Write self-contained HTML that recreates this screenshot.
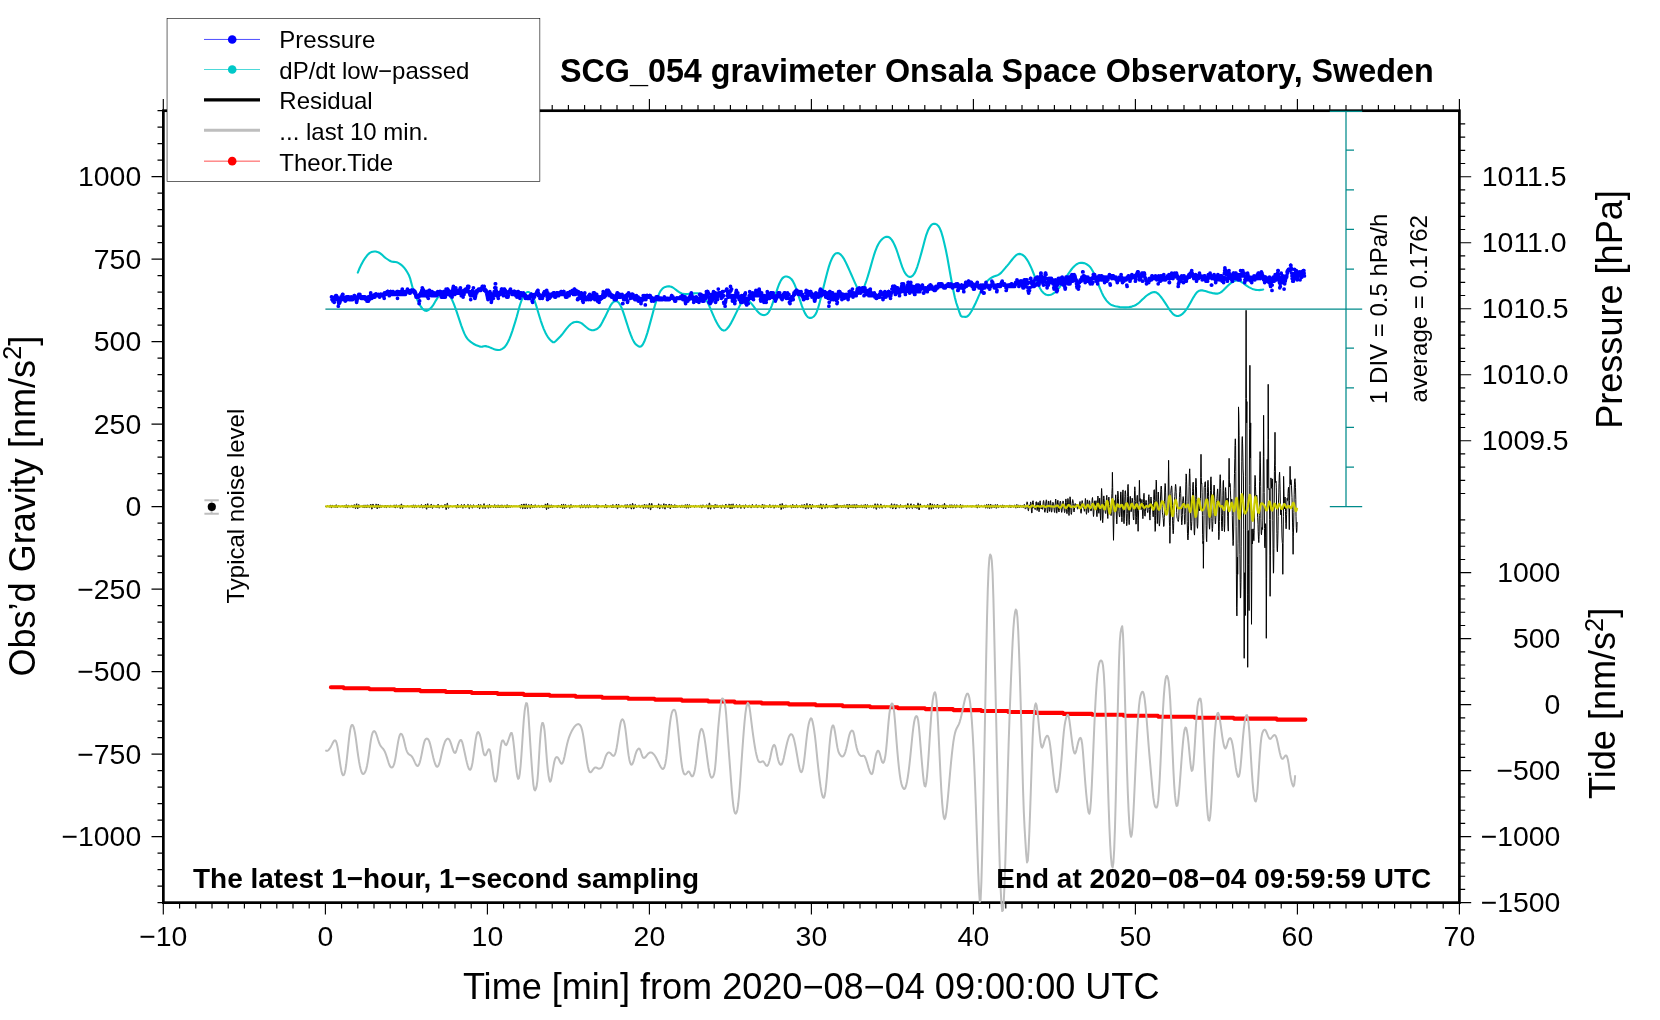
<!DOCTYPE html>
<html lang="en">
<head>
<meta charset="utf-8">
<title>SCG_054 gravimeter Onsala Space Observatory, Sweden</title>
<style>
html,body{margin:0;padding:0;background:#fff;}
body{width:1660px;height:1020px;overflow:hidden;}
svg{display:block;will-change:transform;}
</style>
</head>
<body>
<svg width="1660" height="1020" viewBox="0 0 1660 1020">
<rect x="0" y="0" width="1660" height="1020" fill="#fff"/>
<g id="frame" fill="none" stroke="#000">
<rect x="163.35" y="110.7" width="1296.0500000000002" height="791.9499999999999" stroke-width="2.7"/>
<path stroke-width="1.15" d="M163.3 902.6v11.8M163.3 110.7v-11.8M179.6 902.6v5.8M179.6 110.7v-5.8M195.8 902.6v5.8M195.8 110.7v-5.8M212 902.6v5.8M212 110.7v-5.8M228.2 902.6v5.8M228.2 110.7v-5.8M244.4 902.6v5.8M244.4 110.7v-5.8M260.6 902.6v5.8M260.6 110.7v-5.8M276.8 902.6v5.8M276.8 110.7v-5.8M293 902.6v5.8M293 110.7v-5.8M309.2 902.6v5.8M309.2 110.7v-5.8M325.4 902.6v11.8M325.4 110.7v-11.8M341.6 902.6v5.8M341.6 110.7v-5.8M357.8 902.6v5.8M357.8 110.7v-5.8M374 902.6v5.8M374 110.7v-5.8M390.2 902.6v5.8M390.2 110.7v-5.8M406.4 902.6v5.8M406.4 110.7v-5.8M422.6 902.6v5.8M422.6 110.7v-5.8M438.8 902.6v5.8M438.8 110.7v-5.8M455 902.6v5.8M455 110.7v-5.8M471.2 902.6v5.8M471.2 110.7v-5.8M487.4 902.6v11.8M487.4 110.7v-11.8M503.6 902.6v5.8M503.6 110.7v-5.8M519.8 902.6v5.8M519.8 110.7v-5.8M536 902.6v5.8M536 110.7v-5.8M552.2 902.6v5.8M552.2 110.7v-5.8M568.4 902.6v5.8M568.4 110.7v-5.8M584.6 902.6v5.8M584.6 110.7v-5.8M600.8 902.6v5.8M600.8 110.7v-5.8M617 902.6v5.8M617 110.7v-5.8M633.2 902.6v5.8M633.2 110.7v-5.8M649.4 902.6v11.8M649.4 110.7v-11.8M665.6 902.6v5.8M665.6 110.7v-5.8M681.8 902.6v5.8M681.8 110.7v-5.8M698 902.6v5.8M698 110.7v-5.8M714.2 902.6v5.8M714.2 110.7v-5.8M730.4 902.6v5.8M730.4 110.7v-5.8M746.6 902.6v5.8M746.6 110.7v-5.8M762.8 902.6v5.8M762.8 110.7v-5.8M779 902.6v5.8M779 110.7v-5.8M795.2 902.6v5.8M795.2 110.7v-5.8M811.4 902.6v11.8M811.4 110.7v-11.8M827.6 902.6v5.8M827.6 110.7v-5.8M843.8 902.6v5.8M843.8 110.7v-5.8M860 902.6v5.8M860 110.7v-5.8M876.2 902.6v5.8M876.2 110.7v-5.8M892.4 902.6v5.8M892.4 110.7v-5.8M908.6 902.6v5.8M908.6 110.7v-5.8M924.8 902.6v5.8M924.8 110.7v-5.8M941 902.6v5.8M941 110.7v-5.8M957.2 902.6v5.8M957.2 110.7v-5.8M973.4 902.6v11.8M973.4 110.7v-11.8M989.6 902.6v5.8M989.6 110.7v-5.8M1005.8 902.6v5.8M1005.8 110.7v-5.8M1022 902.6v5.8M1022 110.7v-5.8M1038.2 902.6v5.8M1038.2 110.7v-5.8M1054.4 902.6v5.8M1054.4 110.7v-5.8M1070.6 902.6v5.8M1070.6 110.7v-5.8M1086.8 902.6v5.8M1086.8 110.7v-5.8M1103 902.6v5.8M1103 110.7v-5.8M1119.2 902.6v5.8M1119.2 110.7v-5.8M1135.4 902.6v11.8M1135.4 110.7v-11.8M1151.6 902.6v5.8M1151.6 110.7v-5.8M1167.8 902.6v5.8M1167.8 110.7v-5.8M1184 902.6v5.8M1184 110.7v-5.8M1200.2 902.6v5.8M1200.2 110.7v-5.8M1216.4 902.6v5.8M1216.4 110.7v-5.8M1232.6 902.6v5.8M1232.6 110.7v-5.8M1248.8 902.6v5.8M1248.8 110.7v-5.8M1265 902.6v5.8M1265 110.7v-5.8M1281.2 902.6v5.8M1281.2 110.7v-5.8M1297.4 902.6v11.8M1297.4 110.7v-11.8M1313.6 902.6v5.8M1313.6 110.7v-5.8M1329.8 902.6v5.8M1329.8 110.7v-5.8M1346 902.6v5.8M1346 110.7v-5.8M1362.2 902.6v5.8M1362.2 110.7v-5.8M1378.4 902.6v5.8M1378.4 110.7v-5.8M1394.6 902.6v5.8M1394.6 110.7v-5.8M1410.8 902.6v5.8M1410.8 110.7v-5.8M1427 902.6v5.8M1427 110.7v-5.8M1443.2 902.6v5.8M1443.2 110.7v-5.8M1459.4 902.6v11.8M1459.4 110.7v-11.8M163.3 902.6h-5.8M163.3 886.1h-5.8M163.3 869.6h-5.8M163.3 853.1h-5.8M163.3 836.6h-11.8M163.3 820.1h-5.8M163.3 803.6h-5.8M163.3 787.1h-5.8M163.3 770.6h-5.8M163.3 754.1h-11.8M163.3 737.6h-5.8M163.3 721.1h-5.8M163.3 704.6h-5.8M163.3 688.1h-5.8M163.3 671.6h-11.8M163.3 655.1h-5.8M163.3 638.6h-5.8M163.3 622.1h-5.8M163.3 605.6h-5.8M163.3 589.1h-11.8M163.3 572.6h-5.8M163.3 556.1h-5.8M163.3 539.6h-5.8M163.3 523.1h-5.8M163.3 506.6h-11.8M163.3 490.1h-5.8M163.3 473.6h-5.8M163.3 457.1h-5.8M163.3 440.6h-5.8M163.3 424.1h-11.8M163.3 407.6h-5.8M163.3 391.1h-5.8M163.3 374.6h-5.8M163.3 358.1h-5.8M163.3 341.6h-11.8M163.3 325.1h-5.8M163.3 308.6h-5.8M163.3 292.1h-5.8M163.3 275.6h-5.8M163.3 259.1h-11.8M163.3 242.6h-5.8M163.3 226.1h-5.8M163.3 209.6h-5.8M163.3 193.1h-5.8M163.3 176.6h-11.8M163.3 160.1h-5.8M163.3 143.6h-5.8M163.3 127.1h-5.8M163.3 110.6h-5.8M1459.4 493.5h5.8M1459.4 480.3h5.8M1459.4 467.1h5.8M1459.4 453.9h5.8M1459.4 440.7h11.8M1459.4 427.5h5.8M1459.4 414.3h5.8M1459.4 401.1h5.8M1459.4 387.9h5.8M1459.4 374.7h11.8M1459.4 361.5h5.8M1459.4 348.3h5.8M1459.4 335.1h5.8M1459.4 321.9h5.8M1459.4 308.7h11.8M1459.4 295.5h5.8M1459.4 282.3h5.8M1459.4 269.1h5.8M1459.4 255.9h5.8M1459.4 242.7h11.8M1459.4 229.5h5.8M1459.4 216.3h5.8M1459.4 203.1h5.8M1459.4 189.9h5.8M1459.4 176.7h11.8M1459.4 163.5h5.8M1459.4 150.3h5.8M1459.4 137.1h5.8M1459.4 123.9h5.8M1459.4 902.6h11.8M1459.4 889.4h5.8M1459.4 876.2h5.8M1459.4 863h5.8M1459.4 849.9h5.8M1459.4 836.6h11.8M1459.4 823.4h5.8M1459.4 810.2h5.8M1459.4 797h5.8M1459.4 783.8h5.8M1459.4 770.6h11.8M1459.4 757.4h5.8M1459.4 744.2h5.8M1459.4 731h5.8M1459.4 717.8h5.8M1459.4 704.6h11.8M1459.4 691.4h5.8M1459.4 678.2h5.8M1459.4 665h5.8M1459.4 651.8h5.8M1459.4 638.6h11.8M1459.4 625.5h5.8M1459.4 612.2h5.8M1459.4 599h5.8M1459.4 585.8h5.8M1459.4 572.6h11.8M1459.4 559.5h5.8M1459.4 546.2h5.8M1459.4 533h5.8M1459.4 519.8h5.8"/>
</g>
<g font-family='"Liberation Sans", Arial, Helvetica, sans-serif' font-size="28.4" fill="#000">
<text x="163.3" y="946" text-anchor="middle">−10</text>
<text x="325.4" y="946" text-anchor="middle">0</text>
<text x="487.4" y="946" text-anchor="middle">10</text>
<text x="649.4" y="946" text-anchor="middle">20</text>
<text x="811.4" y="946" text-anchor="middle">30</text>
<text x="973.4" y="946" text-anchor="middle">40</text>
<text x="1135.4" y="946" text-anchor="middle">50</text>
<text x="1297.4" y="946" text-anchor="middle">60</text>
<text x="1459.4" y="946" text-anchor="middle">70</text>
<text x="141.2" y="846.4" text-anchor="end">−1000</text>
<text x="141.2" y="763.9" text-anchor="end">−750</text>
<text x="141.2" y="681.4" text-anchor="end">−500</text>
<text x="141.2" y="598.9" text-anchor="end">−250</text>
<text x="141.2" y="516.4" text-anchor="end">0</text>
<text x="141.2" y="433.8" text-anchor="end">250</text>
<text x="141.2" y="351.3" text-anchor="end">500</text>
<text x="141.2" y="268.8" text-anchor="end">750</text>
<text x="141.2" y="186.3" text-anchor="end">1000</text>
<text x="1481.8" y="450.4">1009.5</text>
<text x="1481.8" y="384.4">1010.0</text>
<text x="1481.8" y="318.4">1010.5</text>
<text x="1481.8" y="252.4">1011.0</text>
<text x="1481.8" y="186.4">1011.5</text>
<text x="1560.4" y="912.4" text-anchor="end">−1500</text>
<text x="1560.4" y="846.4" text-anchor="end">−1000</text>
<text x="1560.4" y="780.4" text-anchor="end">−500</text>
<text x="1560.4" y="714.4" text-anchor="end">0</text>
<text x="1560.4" y="648.4" text-anchor="end">500</text>
<text x="1560.4" y="582.4" text-anchor="end">1000</text>
</g>
<g font-family='"Liberation Sans", Arial, Helvetica, sans-serif' font-size="36.1" fill="#000" text-anchor="middle">
<text x="811.2" y="999">Time [min] from 2020−08−04 09:00:00 UTC</text>
<text transform="translate(34.6 506.2) rotate(-90)">Obs’d Gravity [nm/s<tspan font-size="70%" dy="-13.94">2</tspan><tspan dy="13.94">]</tspan></text>
<text transform="translate(1622 309.5) rotate(-90)">Pressure [hPa]</text>
<text transform="translate(1615.2 703.4) rotate(-90)">Tide [nm/s<tspan font-size="70%" dy="-12.64">2</tspan><tspan dy="12.64">]</tspan></text>
</g>
<text x="560" y="82" font-family='"Liberation Sans", Arial, Helvetica, sans-serif' font-size="32.3" font-weight="bold">SCG_054 gravimeter Onsala Space Observatory, Sweden</text>
<g fill="none" stroke="#008b8b" stroke-width="1.25">
<path d="M1346 110.7V506.6M1329.8 111.3H1362.2M1329.8 506.6H1362.2M1346 467h8M1346 427.4h8M1346 387.8h8M1346 348.2h8M1346 269h8M1346 229.4h8M1346 189.8h8M1346 150.2h8M325.4 309H1362.2"/>
</g>
<g font-family='"Liberation Sans", Arial, Helvetica, sans-serif' font-size="24.0" fill="#000">
<text transform="translate(1387.3 403.9) rotate(-90)">1 DIV = 0.5 hPa/h</text>
<text transform="translate(1427.3 402.6) rotate(-90)">average = 0.1762</text>
<text transform="translate(244.3 603.5) rotate(-90)">Typical noise level</text>
</g>
<path d="M211.6 500.3V513.8M204.4 500.3h14.4M204.4 513.8h14.4" stroke="#bebebe" stroke-width="2" fill="none"/>
<circle cx="211.8" cy="506.8" r="4.1" fill="#000"/>
<path d="M357.8 272.6L359.3 268.8L360.8 265.6L362.3 262.7L363.8 260.1L365.3 257.8L366.8 255.8L368.3 254.1L369.8 252.9L371.3 252.1L372.8 251.7L374.3 251.5L375.8 251.5L377.3 251.9L378.8 252.5L380.3 253.4L381.8 254.6L383.3 256L384.8 257.4L386.3 258.5L387.8 259.5L389.3 260.5L390.8 261.3L392.3 261.8L393.8 261.9L395.3 262L396.8 262.3L398.3 262.9L399.8 263.8L401.3 264.9L402.8 266.2L404.3 267.9L405.8 269.9L407.3 272.2L408.8 274.9L410.3 278.9L411.8 284.8L413.3 290.2L414.8 293.9L416.3 297.4L417.8 301L419.3 304.1L420.8 306.5L422.3 308.4L423.8 309.9L425.3 310.8L426.8 310.9L428.3 310.1L429.8 309L431.3 307.6L432.8 305.7L434.3 303.2L435.8 300.6L437.3 298.3L438.8 296.1L440.3 294.1L441.8 292.3L443.3 291.3L444.8 291.1L446.3 291.7L447.8 293L449.3 294.9L450.8 297.4L452.3 300.3L453.8 303.8L455.3 307.8L456.8 312.1L458.3 316.6L459.8 321.2L461.3 325.6L462.8 329.7L464.3 333.4L465.8 336.4L467.3 338.6L468.8 340.2L470.3 341.6L471.8 342.7L473.3 343.7L474.8 344.5L476.3 345.2L477.8 345.8L479.3 346.4L480.8 346.7L482.3 346.6L483.8 346.3L485.3 346.1L486.8 346.4L488.3 346.8L489.8 347.4L491.3 348L492.8 348.6L494.3 349.2L495.8 349.7L497.3 349.9L498.8 350L500.3 349.7L501.8 349.1L503.3 348.2L504.8 346.9L506.3 344.9L507.8 342.3L509.3 339.2L510.8 335.4L512.3 331.1L513.8 326.4L515.3 321.6L516.8 316.5L518.3 310.9L519.8 305.5L521.3 301L522.8 297.4L524.3 294.8L525.8 293L527.3 292L528.8 292L530.3 293L531.8 294.7L533.3 297.4L534.8 301.2L536.3 305.9L537.8 311L539.3 316L540.8 320.8L542.3 325.2L543.8 329.1L545.3 332.4L546.8 335.3L548.3 337.7L549.8 339.5L551.3 340.9L552.8 342.1L554.3 342.2L555.8 341L557.3 339.5L558.8 338L560.3 336.5L561.8 334.8L563.3 332.9L564.8 330.9L566.3 328.9L567.8 327.1L569.3 325.4L570.8 324L572.3 323L573.8 322.3L575.3 322L576.8 321.9L578.3 322L579.8 322.4L581.3 323.1L582.8 324.2L584.3 325.5L585.8 326.8L587.3 328L588.8 329.1L590.3 329.8L591.8 330.2L593.3 330.2L594.8 329.9L596.3 329.3L597.8 328.3L599.3 327L600.8 325L602.3 322.3L603.8 319.3L605.3 316.4L606.8 313.4L608.3 310.3L609.8 307.1L611.3 304.3L612.8 302.5L614.3 301.4L615.8 301L617.3 301.4L618.8 302.8L620.3 305.1L621.8 308.3L623.3 312.3L624.8 316.9L626.3 321.6L627.8 326.3L629.3 330.8L630.8 334.9L632.3 338.6L633.8 341.6L635.3 343.8L636.8 345.2L638.3 346.2L639.8 346.7L641.3 346.2L642.8 344.5L644.3 341.6L645.8 337.7L647.3 333.1L648.8 327.9L650.3 322.4L651.8 316.9L653.3 311.3L654.8 305.8L656.3 300.9L657.8 296.7L659.3 293.3L660.8 290.6L662.3 288.8L663.8 287.6L665.3 286.9L666.8 286.5L668.3 286.3L669.8 286.4L671.3 286.8L672.8 287.5L674.3 288.5L675.8 289.7L677.3 290.8L678.8 291.9L680.3 292.8L681.8 293.4L683.3 293.9L684.8 294.1L686.3 294.1L687.8 294L689.3 293.9L690.8 293.8L692.3 293.6L693.8 293.4L695.3 293.3L696.8 293.2L698.3 293.4L699.8 293.8L701.3 294.5L702.8 295.6L704.3 297.2L705.8 299.2L707.3 301.8L708.8 304.8L710.3 308.3L711.8 311.8L713.3 315.3L714.8 318.7L716.3 321.7L717.8 324.5L719.3 326.9L720.8 328.8L722.3 330.1L723.8 330.6L725.3 330.2L726.8 329L728.3 327.3L729.8 325.1L731.3 322.6L732.8 319.7L734.3 316.7L735.8 313.6L737.3 310.6L738.8 307.6L740.3 304.7L741.8 302.2L743.3 300.7L744.8 300.2L746.3 300.4L747.8 300.8L749.3 301.6L750.8 302.8L752.3 304.6L753.8 306.6L755.3 308.7L756.8 310.6L758.3 312.3L759.8 313.6L761.3 314.5L762.8 315L764.3 315.1L765.8 314.7L767.3 313.8L768.8 312.1L770.3 309.3L771.8 305.6L773.3 301.3L774.8 296.7L776.3 292.1L777.8 287.6L779.3 283.7L780.8 280.6L782.3 278.4L783.8 277.1L785.3 276.5L786.8 276.5L788.3 276.9L789.8 277.7L791.3 279L792.8 281L794.3 283.9L795.8 287.7L797.3 292L798.8 296.6L800.3 301.2L801.8 305.7L803.3 309.6L804.8 312.9L806.3 315.4L807.8 317.1L809.3 317.9L810.8 317.9L812.3 317.5L813.8 316.5L815.3 314.7L816.8 311.7L818.3 307.4L819.8 302L821.3 296.1L822.8 290L824.3 283.9L825.8 278L827.3 272.2L828.8 266.9L830.3 262.4L831.8 258.8L833.3 256L834.8 254.1L836.3 253.2L837.8 253.1L839.3 253.6L840.8 254.7L842.3 256.4L843.8 258.6L845.3 261.4L846.8 264.5L848.3 267.8L849.8 271.1L851.3 274.5L852.8 277.9L854.3 281.3L855.8 284.6L857.3 288L858.8 290.6L860.3 291.9L861.8 291.3L863.3 288.9L864.8 285.2L866.3 281L867.8 276.4L869.3 271.4L870.8 266.1L872.3 260.8L873.8 255.7L875.3 251.2L876.8 247.3L878.3 244.2L879.8 241.8L881.3 239.9L882.8 238.5L884.3 237.5L885.8 236.9L887.3 236.8L888.8 237.1L890.3 238.2L891.8 239.9L893.3 242.4L894.8 245.5L896.3 249.2L897.8 253.5L899.3 258.1L900.8 262.8L902.3 267.2L903.8 270.7L905.3 273.4L906.8 275.3L908.3 276.5L909.8 276.9L911.3 276.6L912.8 275.6L914.3 273.7L915.8 270.7L917.3 266.8L918.8 262L920.3 256.8L921.8 251.4L923.3 245.8L924.8 240.1L926.3 234.8L927.8 230.8L929.3 227.8L930.8 225.6L932.3 224.2L933.8 223.7L935.3 223.9L936.8 224.5L938.3 225.9L939.8 228.3L941.3 232L942.8 237.1L944.3 243.2L945.8 249.8L947.3 257.3L948.8 265.7L950.3 274.3L951.8 282.5L953.3 290.2L954.8 297.2L956.3 303L957.8 307.4L959.3 312L960.8 315.9L962.3 316.7L963.8 316.8L965.3 316.9L966.8 316.7L968.3 315.6L969.8 313.8L971.3 311.5L972.8 308.8L974.3 305.8L975.8 302.7L977.3 299.3L978.8 295.9L980.3 292.6L981.8 289.4L983.3 286.5L984.8 284.1L986.3 282.1L987.8 280.5L989.3 279.2L990.8 278.1L992.3 277.2L993.8 276.5L995.3 276L996.8 275.5L998.3 274.9L999.8 273.9L1001.3 272.6L1002.8 270.9L1004.3 269.1L1005.8 267.3L1007.3 265.6L1008.8 263.8L1010.3 261.9L1011.8 260L1013.3 258.1L1014.8 256.5L1016.3 255.1L1017.8 254.2L1019.3 253.9L1020.8 254.1L1022.3 254.7L1023.8 255.8L1025.3 257.3L1026.8 259.4L1028.3 261.8L1029.8 264.7L1031.3 267.9L1032.8 271.5L1034.3 275.3L1035.8 279.1L1037.3 282.7L1038.8 286L1040.3 288.8L1041.8 291.1L1043.3 292.8L1044.8 294L1046.3 294.7L1047.8 295.1L1049.3 295L1050.8 294.7L1052.3 294.1L1053.8 293.1L1055.3 292L1056.8 290.6L1058.3 288.9L1059.8 287L1061.3 284.8L1062.8 282.5L1064.3 280.1L1065.8 277.6L1067.3 275.3L1068.8 273.1L1070.3 271L1071.8 269L1073.3 267.2L1074.8 265.7L1076.3 264.5L1077.8 263.6L1079.3 263L1080.8 262.8L1082.3 262.9L1083.8 263.1L1085.3 263.6L1086.8 264.3L1088.3 265.3L1089.8 266.7L1091.3 268.7L1092.8 271.3L1094.3 274.4L1095.8 278L1097.3 281.7L1098.8 285.5L1100.3 289.2L1101.8 292.6L1103.3 295.7L1104.8 298.2L1106.3 300.4L1107.8 302.1L1109.3 303.5L1110.8 304.6L1112.3 305.3L1113.8 305.8L1115.3 306.2L1116.8 306.5L1118.3 306.8L1119.8 307.1L1121.3 307.2L1122.8 307.3L1124.3 307.4L1125.8 307.4L1127.3 307.3L1128.8 307.2L1130.3 306.9L1131.8 306.6L1133.3 306.1L1134.8 305.5L1136.3 304.7L1137.8 303.7L1139.3 302.5L1140.8 301.1L1142.3 299.6L1143.8 298.2L1145.3 296.8L1146.8 295.5L1148.3 294.5L1149.8 293.6L1151.3 292.8L1152.8 292.3L1154.3 292L1155.8 292.3L1157.3 293.1L1158.8 294.4L1160.3 296.1L1161.8 298L1163.3 300.1L1164.8 302.3L1166.3 304.6L1167.8 307L1169.3 309.3L1170.8 311.4L1172.3 313.2L1173.8 314.7L1175.3 315.6L1176.8 316L1178.3 316L1179.8 315.6L1181.3 314.8L1182.8 313.6L1184.3 312.1L1185.8 310.2L1187.3 308L1188.8 305.6L1190.3 303L1191.8 300.3L1193.3 297.6L1194.8 295.2L1196.3 293.1L1197.8 291.6L1199.3 290.7L1200.8 290.4L1202.3 290.4L1203.8 290.7L1205.3 291.1L1206.8 291.5L1208.3 292L1209.8 292.4L1211.3 292.8L1212.8 293.2L1214.3 293.4L1215.8 293.6L1217.3 293.6L1218.8 293.3L1220.3 292.6L1221.8 291.6L1223.3 290.3L1224.8 288.8L1226.3 287.2L1227.8 285.7L1229.3 284.4L1230.8 283.2L1232.3 282.2L1233.8 281.4L1235.3 280.8L1236.8 280.5L1238.3 280.5L1239.8 281L1241.3 281.8L1242.8 282.8L1244.3 284L1245.8 285.1L1247.3 286.2L1248.8 287.1L1250.3 287.9L1251.8 288.6L1253.3 289.2L1254.8 289.6L1256.3 289.9L1257.8 290L1259.3 290.1L1260.8 289.9L1262.3 289.7L1263.2 289.5" fill="none" stroke="#00c8c8" stroke-width="2.1" stroke-linejoin="round" stroke-linecap="round"/>
<path d="M331.5 297h0M331.8 297h0M332 299.6h0M332.3 299.6h0M332.6 299.6h0M332.9 301h0M333.1 299.6h0M333.4 299.6h0M333.7 301h0M333.9 299.6h0M334.2 302.3h0M334.5 298.3h0M334.7 298.3h0M335 297h0M335.3 297h0M335.6 297h0M335.8 295.7h0M336.1 298.3h0M336.4 295.7h0M336.6 297h0M336.9 299.6h0M337.2 297h0M337.4 299.6h0M337.7 299.6h0M338 299.6h0M338.3 306.2h0M338.5 302.3h0M338.8 303.6h0M339.1 303.6h0M339.3 302.3h0M339.6 299.6h0M339.9 302.3h0M340.2 301h0M340.4 298.3h0M340.7 299.6h0M341 297h0M341.2 297h0M341.5 298.3h0M341.8 297h0M342 295.7h0M342.3 295.7h0M342.6 294.4h0M342.9 294.4h0M343.1 297h0M343.4 299.6h0M343.7 299.6h0M343.9 299.6h0M344.2 299.6h0M344.5 299.6h0M344.7 298.3h0M345 298.3h0M345.3 301h0M345.6 298.3h0M345.8 298.3h0M346.1 298.3h0M346.4 297h0M346.6 298.3h0M346.9 298.3h0M347.2 299.6h0M347.4 299.6h0M347.7 298.3h0M348 297h0M348.3 297h0M348.5 297h0M348.8 297h0M349.1 299.6h0M349.3 299.6h0M349.6 299.6h0M349.9 299.6h0M350.2 298.3h0M350.4 299.6h0M350.7 299.6h0M351 298.3h0M351.2 297h0M351.5 298.3h0M351.8 298.3h0M352 299.6h0M352.3 298.3h0M352.6 299.6h0M352.9 298.3h0M353.1 298.3h0M353.4 298.3h0M353.7 297h0M353.9 297h0M354.2 295.7h0M354.5 295.7h0M354.7 297h0M355 297h0M355.3 298.3h0M355.6 298.3h0M355.8 298.3h0M356.1 299.6h0M356.4 301h0M356.6 302.3h0M356.9 301h0M357.2 299.6h0M357.5 298.3h0M357.7 297h0M358 297h0M358.3 295.7h0M358.5 295.7h0M358.8 294.4h0M359.1 297h0M359.3 297h0M359.6 295.7h0M359.9 294.4h0M360.2 297h0M360.4 297h0M360.7 297h0M361 298.3h0M361.2 298.3h0M361.5 298.3h0M361.8 298.3h0M362 298.3h0M362.3 297h0M362.6 298.3h0M362.9 297h0M363.1 297h0M363.4 298.3h0M363.7 298.3h0M363.9 297h0M364.2 298.3h0M364.5 297h0M364.7 297h0M365 297h0M365.3 298.3h0M365.6 298.3h0M365.8 299.6h0M366.1 299.6h0M366.4 299.6h0M366.6 299.6h0M366.9 301h0M367.2 299.6h0M367.5 299.6h0M367.7 299.6h0M368 299.6h0M368.3 297h0M368.5 301h0M368.8 298.3h0M369.1 299.6h0M369.3 299.6h0M369.6 298.3h0M369.9 298.3h0M370.2 297h0M370.4 295.7h0M370.7 293h0M371 295.7h0M371.2 295.7h0M371.5 298.3h0M371.8 298.3h0M372 297h0M372.3 297h0M372.6 297h0M372.9 295.7h0M373.1 295.7h0M373.4 295.7h0M373.7 297h0M373.9 297h0M374.2 297h0M374.5 297h0M374.8 297h0M375 294.4h0M375.3 294.4h0M375.6 294.4h0M375.8 294.4h0M376.1 294.4h0M376.4 294.4h0M376.6 294.4h0M376.9 294.4h0M377.2 295.7h0M377.5 295.7h0M377.7 295.7h0M378 295.7h0M378.3 294.4h0M378.5 295.7h0M378.8 295.7h0M379.1 295.7h0M379.3 295.7h0M379.6 297h0M379.9 295.7h0M380.2 295.7h0M380.4 294.4h0M380.7 294.4h0M381 294.4h0M381.2 295.7h0M381.5 294.4h0M381.8 295.7h0M382.1 295.7h0M382.3 295.7h0M382.6 294.4h0M382.9 295.7h0M383.1 294.4h0M383.4 294.4h0M383.7 294.4h0M383.9 297h0M384.2 298.3h0M384.5 293h0M384.8 294.4h0M385 294.4h0M385.3 293h0M385.6 294.4h0M385.8 294.4h0M386.1 293h0M386.4 293h0M386.6 293h0M386.9 293h0M387.2 291.7h0M387.5 291.7h0M387.7 291.7h0M388 291.7h0M388.3 291.7h0M388.5 293h0M388.8 293h0M389.1 294.4h0M389.3 295.7h0M389.6 293h0M389.9 294.4h0M390.2 293h0M390.4 291.7h0M390.7 291.7h0M391 291.7h0M391.2 293h0M391.5 293h0M391.8 294.4h0M392.1 294.4h0M392.3 293h0M392.6 293h0M392.9 291.7h0M393.1 291.7h0M393.4 294.4h0M393.7 294.4h0M393.9 294.4h0M394.2 293h0M394.5 294.4h0M394.8 293h0M395 293h0M395.3 293h0M395.6 294.4h0M395.8 293h0M396.1 294.4h0M396.4 293h0M396.6 293h0M396.9 291.7h0M397.2 294.4h0M397.5 298.3h0M397.7 291.7h0M398 291.7h0M398.3 294.4h0M398.5 293h0M398.8 293h0M399.1 294.4h0M399.4 294.4h0M399.6 294.4h0M399.9 294.4h0M400.2 293h0M400.4 291.7h0M400.7 294.4h0M401 294.4h0M401.2 294.4h0M401.5 294.4h0M401.8 294.4h0M402.1 291.7h0M402.3 289.1h0M402.6 290.4h0M402.9 291.7h0M403.1 291.7h0M403.4 291.7h0M403.7 291.7h0M403.9 291.7h0M404.2 294.4h0M404.5 294.4h0M404.8 294.4h0M405 294.4h0M405.3 294.4h0M405.6 291.7h0M405.8 291.7h0M406.1 293h0M406.4 291.7h0M406.7 291.7h0M406.9 291.7h0M407.2 291.7h0M407.5 289.1h0M407.7 291.7h0M408 290.4h0M408.3 291.7h0M408.5 290.4h0M408.8 291.7h0M409.1 291.7h0M409.4 291.7h0M409.6 293h0M409.9 293h0M410.2 293h0M410.4 291.7h0M410.7 291.7h0M411 290.4h0M411.2 290.4h0M411.5 290.4h0M411.8 290.4h0M412.1 290.4h0M412.3 291.7h0M412.6 291.7h0M412.9 290.4h0M413.1 291.7h0M413.4 290.4h0M413.7 290.4h0M413.9 290.4h0M414.2 291.7h0M414.5 293h0M414.8 293h0M415 291.7h0M415.3 293h0M415.6 293h0M415.8 295.7h0M416.1 297h0M416.4 297h0M416.7 297h0M416.9 295.7h0M417.2 295.7h0M417.5 297h0M417.7 295.7h0M418 295.7h0M418.3 295.7h0M418.5 295.7h0M418.8 297h0M419.1 303.6h0M419.4 301h0M419.6 301h0M419.9 294.4h0M420.2 295.7h0M420.4 294.4h0M420.7 293h0M421 293h0M421.2 293h0M421.5 295.7h0M421.8 290.4h0M422.1 290.4h0M422.3 287.8h0M422.6 291.7h0M422.9 289.1h0M423.1 293h0M423.4 291.7h0M423.7 290.4h0M424 293h0M424.2 295.7h0M424.5 295.7h0M424.8 295.7h0M425 294.4h0M425.3 295.7h0M425.6 295.7h0M425.8 294.4h0M426.1 293h0M426.4 293h0M426.7 291.7h0M426.9 291.7h0M427.2 294.4h0M427.5 297h0M427.7 294.4h0M428 294.4h0M428.3 298.3h0M428.5 295.7h0M428.8 291.7h0M429.1 290.4h0M429.4 291.7h0M429.6 290.4h0M429.9 293h0M430.2 293h0M430.4 291.7h0M430.7 291.7h0M431 291.7h0M431.2 293h0M431.5 295.7h0M431.8 295.7h0M432.1 291.7h0M432.3 293h0M432.6 294.4h0M432.9 295.7h0M433.1 294.4h0M433.4 294.4h0M433.7 294.4h0M434 294.4h0M434.2 293h0M434.5 294.4h0M434.8 295.7h0M435 294.4h0M435.3 294.4h0M435.6 295.7h0M435.8 295.7h0M436.1 293h0M436.4 295.7h0M436.7 294.4h0M436.9 294.4h0M437.2 294.4h0M437.5 293h0M437.7 291.7h0M438 293h0M438.3 294.4h0M438.5 293h0M438.8 293h0M439.1 293h0M439.4 291.7h0M439.6 293h0M439.9 291.7h0M440.2 291.7h0M440.4 293h0M440.7 291.7h0M441 294.4h0M441.3 297h0M441.5 297h0M441.8 297h0M442.1 297h0M442.3 295.7h0M442.6 294.4h0M442.9 295.7h0M443.1 297h0M443.4 294.4h0M443.7 291.7h0M444 291.7h0M444.2 293h0M444.5 293h0M444.8 294.4h0M445 295.7h0M445.3 297h0M445.6 291.7h0M445.8 293h0M446.1 289.1h0M446.4 293h0M446.7 293h0M446.9 294.4h0M447.2 290.4h0M447.5 289.1h0M447.7 289.1h0M448 291.7h0M448.3 290.4h0M448.6 293h0M448.8 291.7h0M449.1 291.7h0M449.4 294.4h0M449.6 294.4h0M449.9 294.4h0M450.2 291.7h0M450.4 295.7h0M450.7 291.7h0M451 293h0M451.3 293h0M451.5 293h0M451.8 294.4h0M452.1 297h0M452.3 294.4h0M452.6 290.4h0M452.9 289.1h0M453.1 287.8h0M453.4 286.4h0M453.7 289.1h0M454 287.8h0M454.2 291.7h0M454.5 291.7h0M454.8 294.4h0M455 291.7h0M455.3 290.4h0M455.6 290.4h0M455.8 287.8h0M456.1 290.4h0M456.4 293h0M456.7 291.7h0M456.9 293h0M457.2 291.7h0M457.5 291.7h0M457.7 291.7h0M458 293h0M458.3 290.4h0M458.6 290.4h0M458.8 293h0M459.1 291.7h0M459.4 291.7h0M459.6 293h0M459.9 291.7h0M460.2 289.1h0M460.4 287.8h0M460.7 291.7h0M461 291.7h0M461.3 295.7h0M461.5 295.7h0M461.8 295.7h0M462.1 294.4h0M462.3 291.7h0M462.6 295.7h0M462.9 295.7h0M463.1 297h0M463.4 293h0M463.7 290.4h0M464 294.4h0M464.2 293h0M464.5 291.7h0M464.8 291.7h0M465 290.4h0M465.3 290.4h0M465.6 289.1h0M465.9 289.1h0M466.1 289.1h0M466.4 291.7h0M466.7 290.4h0M466.9 291.7h0M467.2 289.1h0M467.5 289.1h0M467.7 286.4h0M468 286.4h0M468.3 287.8h0M468.6 287.8h0M468.8 286.4h0M469.1 291.7h0M469.4 291.7h0M469.6 293h0M469.9 294.4h0M470.2 294.4h0M470.4 295.7h0M470.7 299.6h0M471 291.7h0M471.3 294.4h0M471.5 293h0M471.8 293h0M472.1 295.7h0M472.3 294.4h0M472.6 290.4h0M472.9 291.7h0M473.2 291.7h0M473.4 287.8h0M473.7 293h0M474 294.4h0M474.2 295.7h0M474.5 295.7h0M474.8 298.3h0M475 298.3h0M475.3 297h0M475.6 295.7h0M475.9 291.7h0M476.1 293h0M476.4 291.7h0M476.7 293h0M476.9 290.4h0M477.2 291.7h0M477.5 290.4h0M477.7 290.4h0M478 290.4h0M478.3 290.4h0M478.6 289.1h0M478.8 290.4h0M479.1 290.4h0M479.4 289.1h0M479.6 290.4h0M479.9 289.1h0M480.2 289.1h0M480.4 290.4h0M480.7 290.4h0M481 289.1h0M481.3 289.1h0M481.5 289.1h0M481.8 287.8h0M482.1 287.8h0M482.3 286.4h0M482.6 286.4h0M482.9 287.8h0M483.2 287.8h0M483.4 287.8h0M483.7 287.8h0M484 286.4h0M484.2 286.4h0M484.5 290.4h0M484.8 290.4h0M485 289.1h0M485.3 290.4h0M485.6 290.4h0M485.9 291.7h0M486.1 290.4h0M486.4 291.7h0M486.7 293h0M486.9 294.4h0M487.2 295.7h0M487.5 297h0M487.7 298.3h0M488 299.6h0M488.3 295.7h0M488.6 295.7h0M488.8 295.7h0M489.1 295.7h0M489.4 294.4h0M489.6 293h0M489.9 291.7h0M490.2 293h0M490.5 298.3h0M490.7 297h0M491 298.3h0M491.3 302.3h0M491.5 301h0M491.8 297h0M492.1 294.4h0M492.3 295.7h0M492.6 297h0M492.9 298.3h0M493.2 297h0M493.4 298.3h0M493.7 295.7h0M494 293h0M494.2 291.7h0M494.5 291.7h0M494.8 287.8h0M495 287.8h0M495.3 283.8h0M495.6 283.8h0M495.9 287.8h0M496.1 290.4h0M496.4 293h0M496.7 291.7h0M496.9 295.7h0M497.2 293h0M497.5 293h0M497.7 294.4h0M498 297h0M498.3 298.3h0M498.6 295.7h0M498.8 293h0M499.1 294.4h0M499.4 294.4h0M499.6 294.4h0M499.9 294.4h0M500.2 293h0M500.5 293h0M500.7 291.7h0M501 291.7h0M501.3 290.4h0M501.5 289.1h0M501.8 289.1h0M502.1 289.1h0M502.3 291.7h0M502.6 290.4h0M502.9 293h0M503.2 294.4h0M503.4 295.7h0M503.7 291.7h0M504 289.1h0M504.2 290.4h0M504.5 289.1h0M504.8 290.4h0M505 291.7h0M505.3 290.4h0M505.6 291.7h0M505.9 291.7h0M506.1 291.7h0M506.4 293h0M506.7 297h0M506.9 295.7h0M507.2 295.7h0M507.5 294.4h0M507.8 294.4h0M508 297h0M508.3 295.7h0M508.6 291.7h0M508.8 293h0M509.1 293h0M509.4 293h0M509.6 291.7h0M509.9 290.4h0M510.2 290.4h0M510.5 289.1h0M510.7 290.4h0M511 293h0M511.3 291.7h0M511.5 291.7h0M511.8 293h0M512.1 294.4h0M512.3 293h0M512.6 294.4h0M512.9 294.4h0M513.2 291.7h0M513.4 293h0M513.7 291.7h0M514 291.7h0M514.2 291.7h0M514.5 291.7h0M514.8 291.7h0M515.1 291.7h0M515.3 293h0M515.6 294.4h0M515.9 295.7h0M516.1 294.4h0M516.4 295.7h0M516.7 295.7h0M516.9 297h0M517.2 297h0M517.5 295.7h0M517.8 294.4h0M518 291.7h0M518.3 291.7h0M518.6 293h0M518.8 295.7h0M519.1 295.7h0M519.4 294.4h0M519.6 294.4h0M519.9 298.3h0M520.2 294.4h0M520.5 293h0M520.7 293h0M521 294.4h0M521.3 293h0M521.5 294.4h0M521.8 295.7h0M522.1 295.7h0M522.3 295.7h0M522.6 295.7h0M522.9 295.7h0M523.2 294.4h0M523.4 293h0M523.7 294.4h0M524 294.4h0M524.2 294.4h0M524.5 294.4h0M524.8 295.7h0M525.1 297h0M525.3 298.3h0M525.6 297h0M525.9 295.7h0M526.1 297h0M526.4 297h0M526.7 297h0M526.9 298.3h0M527.2 298.3h0M527.5 298.3h0M527.8 297h0M528 298.3h0M528.3 297h0M528.6 297h0M528.8 298.3h0M529.1 297h0M529.4 297h0M529.6 298.3h0M529.9 295.7h0M530.2 295.7h0M530.5 295.7h0M530.7 297h0M531 294.4h0M531.3 294.4h0M531.5 294.4h0M531.8 294.4h0M532.1 301h0M532.4 301h0M532.6 302.3h0M532.9 295.7h0M533.2 295.7h0M533.4 298.3h0M533.7 295.7h0M534 297h0M534.2 295.7h0M534.5 297h0M534.8 294.4h0M535.1 294.4h0M535.3 294.4h0M535.6 294.4h0M535.9 294.4h0M536.1 294.4h0M536.4 294.4h0M536.7 294.4h0M536.9 291.7h0M537.2 293h0M537.5 293h0M537.8 290.4h0M538 290.4h0M538.3 293h0M538.6 295.7h0M538.8 294.4h0M539.1 295.7h0M539.4 295.7h0M539.7 295.7h0M539.9 298.3h0M540.2 298.3h0M540.5 295.7h0M540.7 295.7h0M541 295.7h0M541.3 297h0M541.5 297h0M541.8 297h0M542.1 297h0M542.4 298.3h0M542.6 297h0M542.9 295.7h0M543.2 294.4h0M543.4 295.7h0M543.7 293h0M544 294.4h0M544.2 294.4h0M544.5 291.7h0M544.8 293h0M545.1 294.4h0M545.3 291.7h0M545.6 293h0M545.9 293h0M546.1 293h0M546.4 293h0M546.7 290.4h0M546.9 295.7h0M547.2 297h0M547.5 299.6h0M547.8 293h0M548 295.7h0M548.3 298.3h0M548.6 297h0M548.8 298.3h0M549.1 298.3h0M549.4 298.3h0M549.7 297h0M549.9 295.7h0M550.2 297h0M550.5 297h0M550.7 294.4h0M551 295.7h0M551.3 294.4h0M551.5 294.4h0M551.8 295.7h0M552.1 295.7h0M552.4 294.4h0M552.6 294.4h0M552.9 294.4h0M553.2 294.4h0M553.4 293h0M553.7 294.4h0M554 293h0M554.2 293h0M554.5 295.7h0M554.8 297h0M555.1 295.7h0M555.3 295.7h0M555.6 297h0M555.9 295.7h0M556.1 294.4h0M556.4 294.4h0M556.7 293h0M557 293h0M557.2 293h0M557.5 293h0M557.8 294.4h0M558 295.7h0M558.3 295.7h0M558.6 295.7h0M558.8 293h0M559.1 294.4h0M559.4 294.4h0M559.7 294.4h0M559.9 294.4h0M560.2 294.4h0M560.5 294.4h0M560.7 293h0M561 291.7h0M561.3 291.7h0M561.5 294.4h0M561.8 294.4h0M562.1 293h0M562.4 293h0M562.6 293h0M562.9 293h0M563.2 293h0M563.4 291.7h0M563.7 291.7h0M564 291.7h0M564.2 294.4h0M564.5 294.4h0M564.8 294.4h0M565.1 294.4h0M565.3 295.7h0M565.6 297h0M565.9 295.7h0M566.1 295.7h0M566.4 295.7h0M566.7 294.4h0M567 297h0M567.2 295.7h0M567.5 293h0M567.8 294.4h0M568 293h0M568.3 293h0M568.6 295.7h0M568.8 295.7h0M569.1 295.7h0M569.4 294.4h0M569.7 293h0M569.9 293h0M570.2 291.7h0M570.5 293h0M570.7 291.7h0M571 293h0M571.3 291.7h0M571.5 293h0M571.8 293h0M572.1 293h0M572.4 293h0M572.6 290.4h0M572.9 291.7h0M573.2 293h0M573.4 294.4h0M573.7 294.4h0M574 293h0M574.3 289.1h0M574.5 289.1h0M574.8 291.7h0M575.1 293h0M575.3 294.4h0M575.6 290.4h0M575.9 290.4h0M576.1 290.4h0M576.4 291.7h0M576.7 291.7h0M577 291.7h0M577.2 293h0M577.5 299.6h0M577.8 299.6h0M578 298.3h0M578.3 291.7h0M578.6 293h0M578.8 294.4h0M579.1 294.4h0M579.4 297h0M579.7 298.3h0M579.9 297h0M580.2 295.7h0M580.5 297h0M580.7 295.7h0M581 293h0M581.3 293h0M581.6 295.7h0M581.8 295.7h0M582.1 297h0M582.4 298.3h0M582.6 301h0M582.9 301h0M583.2 302.3h0M583.4 299.6h0M583.7 297h0M584 295.7h0M584.3 294.4h0M584.5 295.7h0M584.8 293h0M585.1 298.3h0M585.3 297h0M585.6 299.6h0M585.9 299.6h0M586.1 299.6h0M586.4 299.6h0M586.7 298.3h0M587 298.3h0M587.2 298.3h0M587.5 298.3h0M587.8 298.3h0M588 298.3h0M588.3 298.3h0M588.6 299.6h0M588.8 295.7h0M589.1 297h0M589.4 295.7h0M589.7 294.4h0M589.9 297h0M590.2 297h0M590.5 297h0M590.7 299.6h0M591 298.3h0M591.3 298.3h0M591.6 298.3h0M591.8 298.3h0M592.1 298.3h0M592.4 297h0M592.6 297h0M592.9 295.7h0M593.2 294.4h0M593.4 293h0M593.7 293h0M594 293h0M594.3 293h0M594.5 294.4h0M594.8 299.6h0M595.1 294.4h0M595.3 295.7h0M595.6 295.7h0M595.9 297h0M596.1 295.7h0M596.4 294.4h0M596.7 294.4h0M597 297h0M597.2 299.6h0M597.5 301h0M597.8 298.3h0M598 297h0M598.3 298.3h0M598.6 299.6h0M598.9 297h0M599.1 302.3h0M599.4 298.3h0M599.7 298.3h0M599.9 298.3h0M600.2 299.6h0M600.5 298.3h0M600.7 297h0M601 297h0M601.3 297h0M601.6 298.3h0M601.8 298.3h0M602.1 297h0M602.4 297h0M602.6 297h0M602.9 294.4h0M603.2 291.7h0M603.4 293h0M603.7 295.7h0M604 297h0M604.3 297h0M604.5 295.7h0M604.8 294.4h0M605.1 293h0M605.3 294.4h0M605.6 294.4h0M605.9 295.7h0M606.2 294.4h0M606.4 291.7h0M606.7 290.4h0M607 290.4h0M607.2 293h0M607.5 291.7h0M607.8 291.7h0M608 290.4h0M608.3 290.4h0M608.6 293h0M608.9 293h0M609.1 291.7h0M609.4 294.4h0M609.7 295.7h0M609.9 293h0M610.2 295.7h0M610.5 295.7h0M610.7 295.7h0M611 294.4h0M611.3 295.7h0M611.6 297h0M611.8 297h0M612.1 297h0M612.4 295.7h0M612.6 297h0M612.9 295.7h0M613.2 295.7h0M613.4 297h0M613.7 297h0M614 298.3h0M614.3 299.6h0M614.5 299.6h0M614.8 299.6h0M615.1 297h0M615.3 297h0M615.6 297h0M615.9 297h0M616.2 299.6h0M616.4 295.7h0M616.7 294.4h0M617 295.7h0M617.2 293h0M617.5 293h0M617.8 294.4h0M618 295.7h0M618.3 297h0M618.6 297h0M618.9 295.7h0M619.1 297h0M619.4 294.4h0M619.7 294.4h0M619.9 295.7h0M620.2 297h0M620.5 295.7h0M620.7 297h0M621 297h0M621.3 295.7h0M621.6 295.7h0M621.8 295.7h0M622.1 294.4h0M622.4 295.7h0M622.6 303.6h0M622.9 303.6h0M623.2 297h0M623.5 298.3h0M623.7 299.6h0M624 299.6h0M624.3 299.6h0M624.5 299.6h0M624.8 299.6h0M625.1 297h0M625.3 297h0M625.6 295.7h0M625.9 297h0M626.2 298.3h0M626.4 298.3h0M626.7 295.7h0M627 295.7h0M627.2 294.4h0M627.5 302.3h0M627.8 301h0M628 294.4h0M628.3 294.4h0M628.6 293h0M628.9 294.4h0M629.1 294.4h0M629.4 294.4h0M629.7 294.4h0M629.9 294.4h0M630.2 297h0M630.5 298.3h0M630.7 297h0M631 295.7h0M631.3 294.4h0M631.6 294.4h0M631.8 295.7h0M632.1 297h0M632.4 294.4h0M632.6 294.4h0M632.9 294.4h0M633.2 295.7h0M633.5 295.7h0M633.7 298.3h0M634 297h0M634.3 297h0M634.5 297h0M634.8 299.6h0M635.1 299.6h0M635.3 299.6h0M635.6 298.3h0M635.9 299.6h0M636.2 297h0M636.4 295.7h0M636.7 297h0M637 298.3h0M637.2 297h0M637.5 297h0M637.8 297h0M638 297h0M638.3 301h0M638.6 301h0M638.9 299.6h0M639.1 298.3h0M639.4 298.3h0M639.7 298.3h0M639.9 298.3h0M640.2 299.6h0M640.5 301h0M640.8 301h0M641 303.6h0M641.3 301h0M641.6 301h0M641.8 299.6h0M642.1 299.6h0M642.4 298.3h0M642.6 298.3h0M642.9 298.3h0M643.2 295.7h0M643.5 298.3h0M643.7 299.6h0M644 299.6h0M644.3 298.3h0M644.5 297h0M644.8 295.7h0M645.1 297h0M645.3 304.9h0M645.6 298.3h0M645.9 299.6h0M646.2 297h0M646.4 295.7h0M646.7 297h0M647 295.7h0M647.2 295.7h0M647.5 295.7h0M647.8 297h0M648.1 297h0M648.3 297h0M648.6 297h0M648.9 297h0M649.1 297h0M649.4 295.7h0M649.7 295.7h0M649.9 297h0M650.2 295.7h0M650.5 297h0M650.8 297h0M651 298.3h0M651.3 298.3h0M651.6 301h0M651.8 299.6h0M652.1 299.6h0M652.4 299.6h0M652.6 298.3h0M652.9 298.3h0M653.2 299.6h0M653.5 298.3h0M653.7 301h0M654 299.6h0M654.3 299.6h0M654.5 299.6h0M654.8 299.6h0M655.1 298.3h0M655.3 299.6h0M655.6 299.6h0M655.9 299.6h0M656.2 297h0M656.4 298.3h0M656.7 298.3h0M657 297h0M657.2 297h0M657.5 298.3h0M657.8 297h0M658.1 297h0M658.3 298.3h0M658.6 299.6h0M658.9 299.6h0M659.1 299.6h0M659.4 299.6h0M659.7 299.6h0M659.9 299.6h0M660.2 298.3h0M660.5 298.3h0M660.8 298.3h0M661 299.6h0M661.3 298.3h0M661.6 298.3h0M661.8 299.6h0M662.1 299.6h0M662.4 299.6h0M662.6 299.6h0M662.9 298.3h0M663.2 298.3h0M663.5 298.3h0M663.7 298.3h0M664 298.3h0M664.3 297h0M664.5 298.3h0M664.8 299.6h0M665.1 299.6h0M665.4 299.6h0M665.6 299.6h0M665.9 299.6h0M666.2 299.6h0M666.4 298.3h0M666.7 299.6h0M667 298.3h0M667.2 299.6h0M667.5 298.3h0M667.8 299.6h0M668.1 299.6h0M668.3 299.6h0M668.6 299.6h0M668.9 298.3h0M669.1 299.6h0M669.4 299.6h0M669.7 298.3h0M669.9 298.3h0M670.2 298.3h0M670.5 298.3h0M670.8 298.3h0M671 298.3h0M671.3 297h0M671.6 295.7h0M671.8 295.7h0M672.1 297h0M672.4 297h0M672.7 298.3h0M672.9 297h0M673.2 298.3h0M673.5 298.3h0M673.7 298.3h0M674 298.3h0M674.3 299.6h0M674.5 299.6h0M674.8 301h0M675.1 301h0M675.4 299.6h0M675.6 301h0M675.9 298.3h0M676.2 298.3h0M676.4 298.3h0M676.7 298.3h0M677 298.3h0M677.2 298.3h0M677.5 298.3h0M677.8 298.3h0M678.1 298.3h0M678.3 298.3h0M678.6 298.3h0M678.9 298.3h0M679.1 298.3h0M679.4 298.3h0M679.7 298.3h0M679.9 298.3h0M680.2 298.3h0M680.5 297h0M680.8 297h0M681 298.3h0M681.3 297h0M681.6 297h0M681.8 298.3h0M682.1 295.7h0M682.4 297h0M682.7 298.3h0M682.9 299.6h0M683.2 298.3h0M683.5 298.3h0M683.7 299.6h0M684 297h0M684.3 297h0M684.5 298.3h0M684.8 298.3h0M685.1 297h0M685.4 302.3h0M685.6 303.6h0M685.9 298.3h0M686.2 298.3h0M686.4 298.3h0M686.7 299.6h0M687 301h0M687.2 299.6h0M687.5 301h0M687.8 301h0M688.1 299.6h0M688.3 299.6h0M688.6 298.3h0M688.9 298.3h0M689.1 299.6h0M689.4 297h0M689.7 298.3h0M690 298.3h0M690.2 297h0M690.5 297h0M690.8 294.4h0M691 295.7h0M691.3 293h0M691.6 294.4h0M691.8 298.3h0M692.1 298.3h0M692.4 297h0M692.7 298.3h0M692.9 297h0M693.2 299.6h0M693.5 299.6h0M693.7 302.3h0M694 299.6h0M694.3 299.6h0M694.5 299.6h0M694.8 298.3h0M695.1 298.3h0M695.4 299.6h0M695.6 299.6h0M695.9 298.3h0M696.2 297h0M696.4 301h0M696.7 298.3h0M697 299.6h0M697.2 301h0M697.5 298.3h0M697.8 298.3h0M698.1 298.3h0M698.3 299.6h0M698.6 301h0M698.9 302.3h0M699.1 301h0M699.4 301h0M699.7 294.4h0M700 294.4h0M700.2 294.4h0M700.5 295.7h0M700.8 297h0M701 294.4h0M701.3 295.7h0M701.6 298.3h0M701.8 297h0M702.1 299.6h0M702.4 301h0M702.7 299.6h0M702.9 297h0M703.2 295.7h0M703.5 299.6h0M703.7 301h0M704 301h0M704.3 299.6h0M704.5 298.3h0M704.8 297h0M705.1 297h0M705.4 297h0M705.6 298.3h0M705.9 297h0M706.2 294.4h0M706.4 291.7h0M706.7 293h0M707 294.4h0M707.3 291.7h0M707.5 291.7h0M707.8 291.7h0M708.1 295.7h0M708.3 293h0M708.6 297h0M708.9 302.3h0M709.1 302.3h0M709.4 299.6h0M709.7 299.6h0M710 303.6h0M710.2 303.6h0M710.5 301h0M710.8 301h0M711 302.3h0M711.3 299.6h0M711.6 294.4h0M711.8 297h0M712.1 301h0M712.4 295.7h0M712.7 299.6h0M712.9 295.7h0M713.2 295.7h0M713.5 291.7h0M713.7 294.4h0M714 297h0M714.3 293h0M714.6 293h0M714.8 294.4h0M715.1 295.7h0M715.4 293h0M715.6 302.3h0M715.9 299.6h0M716.2 295.7h0M716.4 295.7h0M716.7 295.7h0M717 295.7h0M717.3 297h0M717.5 299.6h0M717.8 294.4h0M718.1 294.4h0M718.3 289.1h0M718.6 293h0M718.9 294.4h0M719.1 294.4h0M719.4 293h0M719.7 295.7h0M720 293h0M720.2 294.4h0M720.5 293h0M720.8 293h0M721 297h0M721.3 298.3h0M721.6 294.4h0M721.8 295.7h0M722.1 293h0M722.4 291.7h0M722.7 297h0M722.9 295.7h0M723.2 291.7h0M723.5 295.7h0M723.7 302.3h0M724 303.6h0M724.3 303.6h0M724.6 302.3h0M724.8 303.6h0M725.1 306.2h0M725.4 302.3h0M725.6 301h0M725.9 299.6h0M726.2 290.4h0M726.4 290.4h0M726.7 289.1h0M727 289.1h0M727.3 295.7h0M727.5 295.7h0M727.8 293h0M728.1 297h0M728.3 294.4h0M728.6 295.7h0M728.9 297h0M729.1 293h0M729.4 291.7h0M729.7 295.7h0M730 291.7h0M730.2 291.7h0M730.5 286.4h0M730.8 290.4h0M731 290.4h0M731.3 289.1h0M731.6 289.1h0M731.9 295.7h0M732.1 298.3h0M732.4 301h0M732.7 299.6h0M732.9 298.3h0M733.2 297h0M733.5 295.7h0M733.7 299.6h0M734 298.3h0M734.3 297h0M734.6 299.6h0M734.8 303.6h0M735.1 301h0M735.4 295.7h0M735.6 295.7h0M735.9 293h0M736.2 291.7h0M736.4 290.4h0M736.7 293h0M737 294.4h0M737.3 295.7h0M737.5 297h0M737.8 293h0M738.1 297h0M738.3 295.7h0M738.6 297h0M738.9 297h0M739.2 299.6h0M739.4 298.3h0M739.7 297h0M740 298.3h0M740.2 299.6h0M740.5 301h0M740.8 302.3h0M741 297h0M741.3 297h0M741.6 295.7h0M741.9 298.3h0M742.1 298.3h0M742.4 302.3h0M742.7 299.6h0M742.9 301h0M743.2 299.6h0M743.5 301h0M743.7 301h0M744 301h0M744.3 299.6h0M744.6 294.4h0M744.8 297h0M745.1 294.4h0M745.4 293h0M745.6 299.6h0M745.9 303.6h0M746.2 301h0M746.4 298.3h0M746.7 304.9h0M747 302.3h0M747.3 303.6h0M747.5 301h0M747.8 303.6h0M748.1 303.6h0M748.3 303.6h0M748.6 299.6h0M748.9 298.3h0M749.2 295.7h0M749.4 297h0M749.7 291.7h0M750 294.4h0M750.2 293h0M750.5 295.7h0M750.8 293h0M751 293h0M751.3 298.3h0M751.6 295.7h0M751.9 294.4h0M752.1 295.7h0M752.4 293h0M752.7 297h0M752.9 298.3h0M753.2 297h0M753.5 299.6h0M753.7 295.7h0M754 294.4h0M754.3 295.7h0M754.6 293h0M754.8 293h0M755.1 293h0M755.4 294.4h0M755.6 295.7h0M755.9 290.4h0M756.2 294.4h0M756.5 293h0M756.7 294.4h0M757 291.7h0M757.3 291.7h0M757.5 291.7h0M757.8 294.4h0M758.1 294.4h0M758.3 295.7h0M758.6 295.7h0M758.9 294.4h0M759.2 289.1h0M759.4 290.4h0M759.7 293h0M760 295.7h0M760.2 294.4h0M760.5 299.6h0M760.8 301h0M761 298.3h0M761.3 297h0M761.6 293h0M761.9 294.4h0M762.1 295.7h0M762.4 298.3h0M762.7 298.3h0M762.9 299.6h0M763.2 297h0M763.5 298.3h0M763.7 299.6h0M764 302.3h0M764.3 301h0M764.6 295.7h0M764.8 299.6h0M765.1 301h0M765.4 299.6h0M765.6 301h0M765.9 302.3h0M766.2 302.3h0M766.5 299.6h0M766.7 297h0M767 295.7h0M767.3 291.7h0M767.5 293h0M767.8 295.7h0M768.1 297h0M768.3 297h0M768.6 295.7h0M768.9 298.3h0M769.2 297h0M769.4 297h0M769.7 298.3h0M770 295.7h0M770.2 294.4h0M770.5 297h0M770.8 293h0M771 293h0M771.3 293h0M771.6 293h0M771.9 297h0M772.1 297h0M772.4 294.4h0M772.7 294.4h0M772.9 295.7h0M773.2 293h0M773.5 297h0M773.8 295.7h0M774 297h0M774.3 298.3h0M774.6 298.3h0M774.8 298.3h0M775.1 297h0M775.4 301h0M775.6 299.6h0M775.9 299.6h0M776.2 298.3h0M776.5 298.3h0M776.7 295.7h0M777 295.7h0M777.3 297h0M777.5 295.7h0M777.8 295.7h0M778.1 293h0M778.3 293h0M778.6 293h0M778.9 294.4h0M779.2 295.7h0M779.4 294.4h0M779.7 293h0M780 295.7h0M780.2 295.7h0M780.5 297h0M780.8 295.7h0M781.1 297h0M781.3 298.3h0M781.6 298.3h0M781.9 297h0M782.1 299.6h0M782.4 298.3h0M782.7 295.7h0M782.9 297h0M783.2 297h0M783.5 294.4h0M783.8 295.7h0M784 295.7h0M784.3 293h0M784.6 295.7h0M784.8 293h0M785.1 293h0M785.4 297h0M785.6 295.7h0M785.9 297h0M786.2 298.3h0M786.5 297h0M786.7 297h0M787 294.4h0M787.3 295.7h0M787.5 293h0M787.8 297h0M788.1 298.3h0M788.3 298.3h0M788.6 294.4h0M788.9 294.4h0M789.2 298.3h0M789.4 302.3h0M789.7 302.3h0M790 303.6h0M790.2 299.6h0M790.5 301h0M790.8 299.6h0M791.1 298.3h0M791.3 298.3h0M791.6 297h0M791.9 299.6h0M792.1 297h0M792.4 297h0M792.7 298.3h0M792.9 298.3h0M793.2 299.6h0M793.5 295.7h0M793.8 294.4h0M794 293h0M794.3 293h0M794.6 294.4h0M794.8 294.4h0M795.1 291.7h0M795.4 291.7h0M795.6 291.7h0M795.9 291.7h0M796.2 290.4h0M796.5 290.4h0M796.7 291.7h0M797 290.4h0M797.3 291.7h0M797.5 291.7h0M797.8 293h0M798.1 293h0M798.4 293h0M798.6 294.4h0M798.9 294.4h0M799.2 294.4h0M799.4 293h0M799.7 291.7h0M800 293h0M800.2 293h0M800.5 293h0M800.8 293h0M801.1 291.7h0M801.3 294.4h0M801.6 294.4h0M801.9 295.7h0M802.1 295.7h0M802.4 294.4h0M802.7 297h0M802.9 297h0M803.2 297h0M803.5 299.6h0M803.8 299.6h0M804 298.3h0M804.3 297h0M804.6 298.3h0M804.8 297h0M805.1 297h0M805.4 297h0M805.7 297h0M805.9 293h0M806.2 290.4h0M806.5 291.7h0M806.7 293h0M807 298.3h0M807.3 297h0M807.5 298.3h0M807.8 295.7h0M808.1 293h0M808.4 291.7h0M808.6 291.7h0M808.9 293h0M809.2 294.4h0M809.4 294.4h0M809.7 294.4h0M810 293h0M810.2 294.4h0M810.5 291.7h0M810.8 291.7h0M811.1 293h0M811.3 295.7h0M811.6 295.7h0M811.9 297h0M812.1 295.7h0M812.4 294.4h0M812.7 294.4h0M812.9 294.4h0M813.2 294.4h0M813.5 297h0M813.8 295.7h0M814 297h0M814.3 299.6h0M814.6 301h0M814.8 301h0M815.1 299.6h0M815.4 298.3h0M815.7 297h0M815.9 293h0M816.2 294.4h0M816.5 294.4h0M816.7 295.7h0M817 297h0M817.3 295.7h0M817.5 294.4h0M817.8 294.4h0M818.1 294.4h0M818.4 295.7h0M818.6 297h0M818.9 294.4h0M819.2 294.4h0M819.4 293h0M819.7 295.7h0M820 290.4h0M820.2 291.7h0M820.5 289.1h0M820.8 295.7h0M821.1 295.7h0M821.3 295.7h0M821.6 291.7h0M821.9 290.4h0M822.1 291.7h0M822.4 291.7h0M822.7 291.7h0M823 293h0M823.2 294.4h0M823.5 294.4h0M823.8 294.4h0M824 294.4h0M824.3 293h0M824.6 294.4h0M824.8 291.7h0M825.1 293h0M825.4 295.7h0M825.7 297h0M825.9 294.4h0M826.2 294.4h0M826.5 294.4h0M826.7 294.4h0M827 293h0M827.3 294.4h0M827.5 295.7h0M827.8 297h0M828.1 298.3h0M828.4 298.3h0M828.6 298.3h0M828.9 306.2h0M829.2 302.3h0M829.4 297h0M829.7 291.7h0M830 291.7h0M830.2 294.4h0M830.5 297h0M830.8 297h0M831.1 298.3h0M831.3 299.6h0M831.6 297h0M831.9 293h0M832.1 294.4h0M832.4 293h0M832.7 293h0M833 295.7h0M833.2 299.6h0M833.5 299.6h0M833.8 299.6h0M834 299.6h0M834.3 295.7h0M834.6 295.7h0M834.8 297h0M835.1 297h0M835.4 295.7h0M835.7 295.7h0M835.9 294.4h0M836.2 294.4h0M836.5 299.6h0M836.7 301h0M837 303.6h0M837.3 302.3h0M837.5 298.3h0M837.8 298.3h0M838.1 295.7h0M838.4 294.4h0M838.6 291.7h0M838.9 293h0M839.2 293h0M839.4 291.7h0M839.7 291.7h0M840 295.7h0M840.3 294.4h0M840.5 293h0M840.8 295.7h0M841.1 294.4h0M841.3 297h0M841.6 295.7h0M841.9 299.6h0M842.1 297h0M842.4 294.4h0M842.7 294.4h0M843 295.7h0M843.2 295.7h0M843.5 294.4h0M843.8 295.7h0M844 298.3h0M844.3 298.3h0M844.6 295.7h0M844.8 297h0M845.1 297h0M845.4 297h0M845.7 295.7h0M845.9 297h0M846.2 294.4h0M846.5 295.7h0M846.7 297h0M847 295.7h0M847.3 297h0M847.6 298.3h0M847.8 298.3h0M848.1 299.6h0M848.4 297h0M848.6 297h0M848.9 294.4h0M849.2 291.7h0M849.4 291.7h0M849.7 291.7h0M850 291.7h0M850.3 291.7h0M850.5 293h0M850.8 295.7h0M851.1 295.7h0M851.3 294.4h0M851.6 291.7h0M851.9 294.4h0M852.1 293h0M852.4 289.1h0M852.7 294.4h0M853 297h0M853.2 294.4h0M853.5 294.4h0M853.8 293h0M854 295.7h0M854.3 295.7h0M854.6 295.7h0M854.8 295.7h0M855.1 294.4h0M855.4 295.7h0M855.7 295.7h0M855.9 293h0M856.2 295.7h0M856.5 293h0M856.7 293h0M857 290.4h0M857.3 289.1h0M857.6 290.4h0M857.8 291.7h0M858.1 290.4h0M858.4 291.7h0M858.6 293h0M858.9 290.4h0M859.2 287.8h0M859.4 289.1h0M859.7 291.7h0M860 290.4h0M860.3 293h0M860.5 293h0M860.8 291.7h0M861.1 291.7h0M861.3 291.7h0M861.6 291.7h0M861.9 290.4h0M862.1 290.4h0M862.4 287.8h0M862.7 287.8h0M863 287.8h0M863.2 289.1h0M863.5 290.4h0M863.8 291.7h0M864 295.7h0M864.3 287.8h0M864.6 287.8h0M864.9 287.8h0M865.1 289.1h0M865.4 290.4h0M865.7 290.4h0M865.9 293h0M866.2 294.4h0M866.5 291.7h0M866.7 293h0M867 294.4h0M867.3 294.4h0M867.6 294.4h0M867.8 293h0M868.1 293h0M868.4 290.4h0M868.6 291.7h0M868.9 295.7h0M869.2 295.7h0M869.4 295.7h0M869.7 295.7h0M870 293h0M870.3 289.1h0M870.5 291.7h0M870.8 294.4h0M871.1 295.7h0M871.3 293h0M871.6 293h0M871.9 294.4h0M872.2 294.4h0M872.4 295.7h0M872.7 295.7h0M873 294.4h0M873.2 294.4h0M873.5 294.4h0M873.8 295.7h0M874 294.4h0M874.3 293h0M874.6 295.7h0M874.9 297h0M875.1 294.4h0M875.4 297h0M875.7 297h0M875.9 295.7h0M876.2 298.3h0M876.5 298.3h0M876.7 298.3h0M877 295.7h0M877.3 297h0M877.6 297h0M877.8 297h0M878.1 297h0M878.4 297h0M878.6 297h0M878.9 297h0M879.2 295.7h0M879.4 294.4h0M879.7 294.4h0M880 297h0M880.3 293h0M880.5 291.7h0M880.8 291.7h0M881.1 293h0M881.3 293h0M881.6 294.4h0M881.9 293h0M882.2 293h0M882.4 294.4h0M882.7 294.4h0M883 299.6h0M883.2 298.3h0M883.5 294.4h0M883.8 295.7h0M884 293h0M884.3 293h0M884.6 295.7h0M884.9 291.7h0M885.1 293h0M885.4 294.4h0M885.7 297h0M885.9 297h0M886.2 295.7h0M886.5 294.4h0M886.7 293h0M887 293h0M887.3 294.4h0M887.6 294.4h0M887.8 295.7h0M888.1 295.7h0M888.4 291.7h0M888.6 291.7h0M888.9 291.7h0M889.2 293h0M889.5 295.7h0M889.7 293h0M890 293h0M890.3 295.7h0M890.5 298.3h0M890.8 295.7h0M891.1 293h0M891.3 293h0M891.6 293h0M891.9 289.1h0M892.2 289.1h0M892.4 289.1h0M892.7 286.4h0M893 286.4h0M893.2 286.4h0M893.5 290.4h0M893.8 291.7h0M894 291.7h0M894.3 286.4h0M894.6 286.4h0M894.9 286.4h0M895.1 289.1h0M895.4 294.4h0M895.7 293h0M895.9 290.4h0M896.2 287.8h0M896.5 289.1h0M896.7 289.1h0M897 287.8h0M897.3 290.4h0M897.6 287.8h0M897.8 290.4h0M898.1 289.1h0M898.4 291.7h0M898.6 293h0M898.9 291.7h0M899.2 291.7h0M899.5 295.7h0M899.7 293h0M900 290.4h0M900.3 289.1h0M900.5 290.4h0M900.8 291.7h0M901.1 289.1h0M901.3 289.1h0M901.6 286.4h0M901.9 283.8h0M902.2 285.1h0M902.4 289.1h0M902.7 286.4h0M903 287.8h0M903.2 286.4h0M903.5 283.8h0M903.8 285.1h0M904 291.7h0M904.3 291.7h0M904.6 289.1h0M904.9 287.8h0M905.1 291.7h0M905.4 294.4h0M905.7 290.4h0M905.9 291.7h0M906.2 291.7h0M906.5 290.4h0M906.8 289.1h0M907 287.8h0M907.3 286.4h0M907.6 285.1h0M907.8 285.1h0M908.1 282.5h0M908.4 283.8h0M908.6 282.5h0M908.9 286.4h0M909.2 289.1h0M909.5 291.7h0M909.7 293h0M910 290.4h0M910.3 285.1h0M910.5 285.1h0M910.8 282.5h0M911.1 286.4h0M911.3 289.1h0M911.6 291.7h0M911.9 289.1h0M912.2 286.4h0M912.4 286.4h0M912.7 286.4h0M913 287.8h0M913.2 291.7h0M913.5 289.1h0M913.8 291.7h0M914.1 293h0M914.3 293h0M914.6 294.4h0M914.9 294.4h0M915.1 290.4h0M915.4 287.8h0M915.7 286.4h0M915.9 286.4h0M916.2 286.4h0M916.5 286.4h0M916.8 285.1h0M917 287.8h0M917.3 290.4h0M917.6 291.7h0M917.8 290.4h0M918.1 287.8h0M918.4 285.1h0M918.6 287.8h0M918.9 289.1h0M919.2 289.1h0M919.5 289.1h0M919.7 291.7h0M920 290.4h0M920.3 289.1h0M920.5 287.8h0M920.8 287.8h0M921.1 289.1h0M921.3 287.8h0M921.6 286.4h0M921.9 286.4h0M922.2 285.1h0M922.4 285.1h0M922.7 286.4h0M923 287.8h0M923.2 287.8h0M923.5 293h0M923.8 293h0M924.1 289.1h0M924.3 287.8h0M924.6 289.1h0M924.9 290.4h0M925.1 290.4h0M925.4 289.1h0M925.7 289.1h0M925.9 287.8h0M926.2 289.1h0M926.5 289.1h0M926.8 290.4h0M927 289.1h0M927.3 291.7h0M927.6 287.8h0M927.8 289.1h0M928.1 287.8h0M928.4 287.8h0M928.6 286.4h0M928.9 287.8h0M929.2 287.8h0M929.5 289.1h0M929.7 286.4h0M930 285.1h0M930.3 285.1h0M930.5 285.1h0M930.8 285.1h0M931.1 286.4h0M931.4 287.8h0M931.6 286.4h0M931.9 286.4h0M932.2 287.8h0M932.4 289.1h0M932.7 289.1h0M933 289.1h0M933.2 287.8h0M933.5 289.1h0M933.8 289.1h0M934.1 289.1h0M934.3 290.4h0M934.6 287.8h0M934.9 289.1h0M935.1 290.4h0M935.4 289.1h0M935.7 287.8h0M935.9 286.4h0M936.2 289.1h0M936.5 287.8h0M936.8 287.8h0M937 287.8h0M937.3 287.8h0M937.6 287.8h0M937.8 287.8h0M938.1 286.4h0M938.4 285.1h0M938.7 283.8h0M938.9 285.1h0M939.2 286.4h0M939.5 285.1h0M939.7 286.4h0M940 286.4h0M940.3 283.8h0M940.5 285.1h0M940.8 283.8h0M941.1 283.8h0M941.4 285.1h0M941.6 285.1h0M941.9 283.8h0M942.2 286.4h0M942.4 286.4h0M942.7 285.1h0M943 286.4h0M943.2 286.4h0M943.5 286.4h0M943.8 287.8h0M944.1 286.4h0M944.3 286.4h0M944.6 286.4h0M944.9 286.4h0M945.1 286.4h0M945.4 287.8h0M945.7 286.4h0M945.9 286.4h0M946.2 286.4h0M946.5 286.4h0M946.8 285.1h0M947 285.1h0M947.3 285.1h0M947.6 285.1h0M947.8 285.1h0M948.1 283.8h0M948.4 285.1h0M948.7 283.8h0M948.9 285.1h0M949.2 285.1h0M949.5 286.4h0M949.7 286.4h0M950 286.4h0M950.3 285.1h0M950.5 285.1h0M950.8 283.8h0M951.1 285.1h0M951.4 285.1h0M951.6 285.1h0M951.9 285.1h0M952.2 286.4h0M952.4 287.8h0M952.7 287.8h0M953 286.4h0M953.2 286.4h0M953.5 285.1h0M953.8 285.1h0M954.1 285.1h0M954.3 285.1h0M954.6 285.1h0M954.9 285.1h0M955.1 285.1h0M955.4 285.1h0M955.7 286.4h0M956 286.4h0M956.2 283.8h0M956.5 286.4h0M956.8 286.4h0M957 285.1h0M957.3 283.8h0M957.6 283.8h0M957.8 290.4h0M958.1 290.4h0M958.4 289.1h0M958.7 285.1h0M958.9 287.8h0M959.2 286.4h0M959.5 286.4h0M959.7 287.8h0M960 287.8h0M960.3 287.8h0M960.5 287.8h0M960.8 286.4h0M961.1 286.4h0M961.4 285.1h0M961.6 285.1h0M961.9 285.1h0M962.2 287.8h0M962.4 286.4h0M962.7 287.8h0M963 286.4h0M963.2 287.8h0M963.5 289.1h0M963.8 291.7h0M964.1 287.8h0M964.3 287.8h0M964.6 285.1h0M964.9 285.1h0M965.1 285.1h0M965.4 286.4h0M965.7 282.5h0M966 282.5h0M966.2 286.4h0M966.5 283.8h0M966.8 283.8h0M967 282.5h0M967.3 283.8h0M967.6 282.5h0M967.8 282.5h0M968.1 285.1h0M968.4 281.2h0M968.7 281.2h0M968.9 282.5h0M969.2 283.8h0M969.5 282.5h0M969.7 282.5h0M970 283.8h0M970.3 283.8h0M970.5 282.5h0M970.8 285.1h0M971.1 282.5h0M971.4 282.5h0M971.6 283.8h0M971.9 283.8h0M972.2 286.4h0M972.4 283.8h0M972.7 283.8h0M973 286.4h0M973.3 287.8h0M973.5 289.1h0M973.8 289.1h0M974.1 287.8h0M974.3 289.1h0M974.6 287.8h0M974.9 286.4h0M975.1 285.1h0M975.4 285.1h0M975.7 285.1h0M976 285.1h0M976.2 283.8h0M976.5 283.8h0M976.8 283.8h0M977 283.8h0M977.3 282.5h0M977.6 285.1h0M977.8 285.1h0M978.1 286.4h0M978.4 286.4h0M978.7 286.4h0M978.9 287.8h0M979.2 287.8h0M979.5 286.4h0M979.7 287.8h0M980 286.4h0M980.3 286.4h0M980.6 285.1h0M980.8 287.8h0M981.1 287.8h0M981.4 289.1h0M981.6 291.7h0M981.9 291.7h0M982.2 289.1h0M982.4 285.1h0M982.7 287.8h0M983 286.4h0M983.3 285.1h0M983.5 293h0M983.8 293h0M984.1 293h0M984.3 287.8h0M984.6 286.4h0M984.9 287.8h0M985.1 286.4h0M985.4 285.1h0M985.7 285.1h0M986 282.5h0M986.2 285.1h0M986.5 285.1h0M986.8 285.1h0M987 286.4h0M987.3 285.1h0M987.6 286.4h0M987.8 286.4h0M988.1 286.4h0M988.4 286.4h0M988.7 287.8h0M988.9 286.4h0M989.2 287.8h0M989.5 289.1h0M989.7 289.1h0M990 287.8h0M990.3 286.4h0M990.6 286.4h0M990.8 285.1h0M991.1 285.1h0M991.4 285.1h0M991.6 285.1h0M991.9 281.2h0M992.2 282.5h0M992.4 283.8h0M992.7 282.5h0M993 283.8h0M993.3 285.1h0M993.5 285.1h0M993.8 285.1h0M994.1 286.4h0M994.3 287.8h0M994.6 287.8h0M994.9 286.4h0M995.1 286.4h0M995.4 287.8h0M995.7 287.8h0M996 287.8h0M996.2 285.1h0M996.5 286.4h0M996.8 291.7h0M997 290.4h0M997.3 285.1h0M997.6 285.1h0M997.9 285.1h0M998.1 285.1h0M998.4 285.1h0M998.7 286.4h0M998.9 285.1h0M999.2 286.4h0M999.5 286.4h0M999.7 286.4h0M1000 285.1h0M1000.3 286.4h0M1000.6 285.1h0M1000.8 283.8h0M1001.1 285.1h0M1001.4 285.1h0M1001.6 282.5h0M1001.9 282.5h0M1002.2 281.2h0M1002.4 282.5h0M1002.7 283.8h0M1003 283.8h0M1003.3 285.1h0M1003.5 285.1h0M1003.8 285.1h0M1004.1 285.1h0M1004.3 285.1h0M1004.6 283.8h0M1004.9 285.1h0M1005.2 285.1h0M1005.4 285.1h0M1005.7 285.1h0M1006 287.8h0M1006.2 290.4h0M1006.5 289.1h0M1006.8 286.4h0M1007 286.4h0M1007.3 286.4h0M1007.6 286.4h0M1007.9 285.1h0M1008.1 286.4h0M1008.4 285.1h0M1008.7 286.4h0M1008.9 286.4h0M1009.2 285.1h0M1009.5 285.1h0M1009.7 286.4h0M1010 286.4h0M1010.3 285.1h0M1010.6 286.4h0M1010.8 286.4h0M1011.1 285.1h0M1011.4 283.8h0M1011.6 283.8h0M1011.9 283.8h0M1012.2 285.1h0M1012.4 285.1h0M1012.7 285.1h0M1013 285.1h0M1013.3 286.4h0M1013.5 286.4h0M1013.8 286.4h0M1014.1 286.4h0M1014.3 286.4h0M1014.6 286.4h0M1014.9 285.1h0M1015.2 285.1h0M1015.4 283.8h0M1015.7 282.5h0M1016 283.8h0M1016.2 282.5h0M1016.5 283.8h0M1016.8 281.2h0M1017 279.8h0M1017.3 282.5h0M1017.6 282.5h0M1017.9 282.5h0M1018.1 282.5h0M1018.4 283.8h0M1018.7 283.8h0M1018.9 286.4h0M1019.2 285.1h0M1019.5 283.8h0M1019.7 283.8h0M1020 285.1h0M1020.3 281.2h0M1020.6 281.2h0M1020.8 282.5h0M1021.1 282.5h0M1021.4 281.2h0M1021.6 281.2h0M1021.9 282.5h0M1022.2 283.8h0M1022.5 285.1h0M1022.7 286.4h0M1023 287.8h0M1023.3 285.1h0M1023.5 285.1h0M1023.8 287.8h0M1024.1 282.5h0M1024.3 279.8h0M1024.6 279.8h0M1024.9 283.8h0M1025.2 286.4h0M1025.4 286.4h0M1025.7 286.4h0M1026 283.8h0M1026.2 279.8h0M1026.5 279.8h0M1026.8 282.5h0M1027 279.8h0M1027.3 282.5h0M1027.6 283.8h0M1027.9 287.8h0M1028.1 290.4h0M1028.4 291.7h0M1028.7 293h0M1028.9 291.7h0M1029.2 290.4h0M1029.5 290.4h0M1029.7 287.8h0M1030 287.8h0M1030.3 282.5h0M1030.6 278.5h0M1030.8 278.5h0M1031.1 282.5h0M1031.4 281.2h0M1031.6 281.2h0M1031.9 283.8h0M1032.2 286.4h0M1032.5 283.8h0M1032.7 283.8h0M1033 283.8h0M1033.3 282.5h0M1033.5 281.2h0M1033.8 285.1h0M1034.1 286.4h0M1034.3 285.1h0M1034.6 285.1h0M1034.9 279.8h0M1035.2 278.5h0M1035.4 279.8h0M1035.7 279.8h0M1036 285.1h0M1036.2 283.8h0M1036.5 283.8h0M1036.8 278.5h0M1037 277.2h0M1037.3 278.5h0M1037.6 277.2h0M1037.9 279.8h0M1038.1 279.8h0M1038.4 279.8h0M1038.7 282.5h0M1038.9 285.1h0M1039.2 283.8h0M1039.5 281.2h0M1039.8 279.8h0M1040 279.8h0M1040.3 277.2h0M1040.6 275.9h0M1040.8 273.2h0M1041.1 273.2h0M1041.4 275.9h0M1041.6 277.2h0M1041.9 277.2h0M1042.2 279.8h0M1042.5 281.2h0M1042.7 282.5h0M1043 283.8h0M1043.3 281.2h0M1043.5 285.1h0M1043.8 281.2h0M1044.1 281.2h0M1044.3 279.8h0M1044.6 278.5h0M1044.9 277.2h0M1045.2 274.6h0M1045.4 273.2h0M1045.7 273.2h0M1046 274.6h0M1046.2 278.5h0M1046.5 282.5h0M1046.8 285.1h0M1047.1 287.8h0M1047.3 283.8h0M1047.6 285.1h0M1047.9 283.8h0M1048.1 285.1h0M1048.4 285.1h0M1048.7 281.2h0M1048.9 278.5h0M1049.2 279.8h0M1049.5 279.8h0M1049.8 278.5h0M1050 279.8h0M1050.3 282.5h0M1050.6 279.8h0M1050.8 279.8h0M1051.1 279.8h0M1051.4 278.5h0M1051.6 279.8h0M1051.9 281.2h0M1052.2 282.5h0M1052.5 279.8h0M1052.7 279.8h0M1053 283.8h0M1053.3 281.2h0M1053.5 282.5h0M1053.8 287.8h0M1054.1 289.1h0M1054.3 286.4h0M1054.6 283.8h0M1054.9 281.2h0M1055.2 282.5h0M1055.4 279.8h0M1055.7 281.2h0M1056 283.8h0M1056.2 287.8h0M1056.5 289.1h0M1056.8 291.7h0M1057.1 289.1h0M1057.3 290.4h0M1057.6 285.1h0M1057.9 283.8h0M1058.1 279.8h0M1058.4 278.5h0M1058.7 282.5h0M1058.9 281.2h0M1059.2 281.2h0M1059.5 279.8h0M1059.8 278.5h0M1060 282.5h0M1060.3 278.5h0M1060.6 279.8h0M1060.8 282.5h0M1061.1 283.8h0M1061.4 279.8h0M1061.6 281.2h0M1061.9 279.8h0M1062.2 277.2h0M1062.5 279.8h0M1062.7 282.5h0M1063 279.8h0M1063.3 281.2h0M1063.5 285.1h0M1063.8 281.2h0M1064.1 279.8h0M1064.4 282.5h0M1064.6 285.1h0M1064.9 287.8h0M1065.2 289.1h0M1065.4 287.8h0M1065.7 278.5h0M1066 277.2h0M1066.2 277.2h0M1066.5 278.5h0M1066.8 282.5h0M1067.1 279.8h0M1067.3 277.2h0M1067.6 281.2h0M1067.9 282.5h0M1068.1 283.8h0M1068.4 281.2h0M1068.7 279.8h0M1068.9 277.2h0M1069.2 279.8h0M1069.5 283.8h0M1069.8 283.8h0M1070 283.8h0M1070.3 282.5h0M1070.6 281.2h0M1070.8 278.5h0M1071.1 275.9h0M1071.4 277.2h0M1071.7 277.2h0M1071.9 274.6h0M1072.2 281.2h0M1072.5 281.2h0M1072.7 279.8h0M1073 279.8h0M1073.3 278.5h0M1073.5 278.5h0M1073.8 277.2h0M1074.1 274.6h0M1074.4 275.9h0M1074.6 275.9h0M1074.9 275.9h0M1075.2 277.2h0M1075.4 278.5h0M1075.7 279.8h0M1076 281.2h0M1076.2 279.8h0M1076.5 283.8h0M1076.8 286.4h0M1077.1 287.8h0M1077.3 283.8h0M1077.6 285.1h0M1077.9 282.5h0M1078.1 285.1h0M1078.4 289.1h0M1078.7 286.4h0M1078.9 286.4h0M1079.2 282.5h0M1079.5 282.5h0M1079.8 281.2h0M1080 281.2h0M1080.3 279.8h0M1080.6 281.2h0M1080.8 281.2h0M1081.1 281.2h0M1081.4 279.8h0M1081.7 278.5h0M1081.9 277.2h0M1082.2 278.5h0M1082.5 277.2h0M1082.7 271.9h0M1083 271.9h0M1083.3 275.9h0M1083.5 279.8h0M1083.8 278.5h0M1084.1 275.9h0M1084.4 278.5h0M1084.6 278.5h0M1084.9 281.2h0M1085.2 282.5h0M1085.4 281.2h0M1085.7 279.8h0M1086 277.2h0M1086.2 277.2h0M1086.5 279.8h0M1086.8 281.2h0M1087.1 279.8h0M1087.3 278.5h0M1087.6 278.5h0M1087.9 277.2h0M1088.1 279.8h0M1088.4 279.8h0M1088.7 278.5h0M1089 281.2h0M1089.2 281.2h0M1089.5 281.2h0M1089.8 282.5h0M1090 282.5h0M1090.3 283.8h0M1090.6 282.5h0M1090.8 281.2h0M1091.1 281.2h0M1091.4 278.5h0M1091.7 278.5h0M1091.9 282.5h0M1092.2 283.8h0M1092.5 282.5h0M1092.7 282.5h0M1093 278.5h0M1093.3 274.6h0M1093.5 275.9h0M1093.8 274.6h0M1094.1 274.6h0M1094.4 275.9h0M1094.6 274.6h0M1094.9 277.2h0M1095.2 278.5h0M1095.4 277.2h0M1095.7 278.5h0M1096 279.8h0M1096.2 281.2h0M1096.5 278.5h0M1096.8 277.2h0M1097.1 278.5h0M1097.3 278.5h0M1097.6 283.8h0M1097.9 281.2h0M1098.1 278.5h0M1098.4 277.2h0M1098.7 277.2h0M1099 275.9h0M1099.2 278.5h0M1099.5 278.5h0M1099.8 277.2h0M1100 275.9h0M1100.3 277.2h0M1100.6 278.5h0M1100.8 279.8h0M1101.1 277.2h0M1101.4 275.9h0M1101.7 275.9h0M1101.9 277.2h0M1102.2 279.8h0M1102.5 279.8h0M1102.7 277.2h0M1103 278.5h0M1103.3 279.8h0M1103.5 277.2h0M1103.8 278.5h0M1104.1 277.2h0M1104.4 278.5h0M1104.6 282.5h0M1104.9 277.2h0M1105.2 278.5h0M1105.4 281.2h0M1105.7 279.8h0M1106 279.8h0M1106.3 278.5h0M1106.5 277.2h0M1106.8 281.2h0M1107.1 279.8h0M1107.3 278.5h0M1107.6 277.2h0M1107.9 279.8h0M1108.1 278.5h0M1108.4 277.2h0M1108.7 277.2h0M1109 275.9h0M1109.2 275.9h0M1109.5 274.6h0M1109.8 275.9h0M1110 283.8h0M1110.3 285.1h0M1110.6 277.2h0M1110.8 277.2h0M1111.1 275.9h0M1111.4 277.2h0M1111.7 275.9h0M1111.9 278.5h0M1112.2 277.2h0M1112.5 277.2h0M1112.7 275.9h0M1113 275.9h0M1113.3 275.9h0M1113.6 277.2h0M1113.8 277.2h0M1114.1 277.2h0M1114.4 277.2h0M1114.6 278.5h0M1114.9 278.5h0M1115.2 277.2h0M1115.4 278.5h0M1115.7 278.5h0M1116 277.2h0M1116.3 279.8h0M1116.5 278.5h0M1116.8 279.8h0M1117.1 281.2h0M1117.3 282.5h0M1117.6 281.2h0M1117.9 278.5h0M1118.1 278.5h0M1118.4 278.5h0M1118.7 278.5h0M1119 279.8h0M1119.2 278.5h0M1119.5 277.2h0M1119.8 278.5h0M1120 279.8h0M1120.3 279.8h0M1120.6 279.8h0M1120.8 278.5h0M1121.1 274.6h0M1121.4 277.2h0M1121.7 277.2h0M1121.9 278.5h0M1122.2 279.8h0M1122.5 282.5h0M1122.7 281.2h0M1123 279.8h0M1123.3 281.2h0M1123.6 281.2h0M1123.8 281.2h0M1124.1 279.8h0M1124.4 278.5h0M1124.6 279.8h0M1124.9 279.8h0M1125.2 278.5h0M1125.4 279.8h0M1125.7 278.5h0M1126 279.8h0M1126.3 279.8h0M1126.5 278.5h0M1126.8 285.1h0M1127.1 286.4h0M1127.3 277.2h0M1127.6 277.2h0M1127.9 277.2h0M1128.1 277.2h0M1128.4 275.9h0M1128.7 275.9h0M1129 277.2h0M1129.2 278.5h0M1129.5 278.5h0M1129.8 279.8h0M1130 281.2h0M1130.3 279.8h0M1130.6 277.2h0M1130.9 277.2h0M1131.1 278.5h0M1131.4 277.2h0M1131.7 277.2h0M1131.9 274.6h0M1132.2 275.9h0M1132.5 277.2h0M1132.7 277.2h0M1133 275.9h0M1133.3 275.9h0M1133.6 275.9h0M1133.8 277.2h0M1134.1 277.2h0M1134.4 275.9h0M1134.6 277.2h0M1134.9 277.2h0M1135.2 278.5h0M1135.4 281.2h0M1135.7 279.8h0M1136 275.9h0M1136.3 274.6h0M1136.5 275.9h0M1136.8 275.9h0M1137.1 273.2h0M1137.3 273.2h0M1137.6 271.9h0M1137.9 271.9h0M1138.2 271.9h0M1138.4 274.6h0M1138.7 274.6h0M1139 275.9h0M1139.2 278.5h0M1139.5 279.8h0M1139.8 278.5h0M1140 277.2h0M1140.3 278.5h0M1140.6 278.5h0M1140.9 277.2h0M1141.1 275.9h0M1141.4 275.9h0M1141.7 274.6h0M1141.9 273.2h0M1142.2 273.2h0M1142.5 281.2h0M1142.7 274.6h0M1143 275.9h0M1143.3 274.6h0M1143.6 274.6h0M1143.8 273.2h0M1144.1 273.2h0M1144.4 273.2h0M1144.6 274.6h0M1144.9 277.2h0M1145.2 278.5h0M1145.4 278.5h0M1145.7 278.5h0M1146 279.8h0M1146.3 281.2h0M1146.5 283.8h0M1146.8 281.2h0M1147.1 281.2h0M1147.3 282.5h0M1147.6 281.2h0M1147.9 281.2h0M1148.2 282.5h0M1148.4 281.2h0M1148.7 282.5h0M1149 281.2h0M1149.2 281.2h0M1149.5 278.5h0M1149.8 279.8h0M1150 279.8h0M1150.3 278.5h0M1150.6 278.5h0M1150.9 278.5h0M1151.1 278.5h0M1151.4 279.8h0M1151.7 278.5h0M1151.9 275.9h0M1152.2 275.9h0M1152.5 277.2h0M1152.7 277.2h0M1153 278.5h0M1153.3 278.5h0M1153.6 277.2h0M1153.8 277.2h0M1154.1 277.2h0M1154.4 277.2h0M1154.6 277.2h0M1154.9 278.5h0M1155.2 277.2h0M1155.5 275.9h0M1155.7 278.5h0M1156 278.5h0M1156.3 277.2h0M1156.5 278.5h0M1156.8 279.8h0M1157.1 277.2h0M1157.3 277.2h0M1157.6 277.2h0M1157.9 278.5h0M1158.2 283.8h0M1158.4 278.5h0M1158.7 275.9h0M1159 279.8h0M1159.2 278.5h0M1159.5 279.8h0M1159.8 279.8h0M1160 281.2h0M1160.3 281.2h0M1160.6 278.5h0M1160.9 275.9h0M1161.1 275.9h0M1161.4 277.2h0M1161.7 277.2h0M1161.9 279.8h0M1162.2 277.2h0M1162.5 278.5h0M1162.7 277.2h0M1163 279.8h0M1163.3 277.2h0M1163.6 277.2h0M1163.8 274.6h0M1164.1 278.5h0M1164.4 278.5h0M1164.6 279.8h0M1164.9 279.8h0M1165.2 279.8h0M1165.5 279.8h0M1165.7 278.5h0M1166 277.2h0M1166.3 277.2h0M1166.5 278.5h0M1166.8 277.2h0M1167.1 277.2h0M1167.3 278.5h0M1167.6 275.9h0M1167.9 275.9h0M1168.2 275.9h0M1168.4 275.9h0M1168.7 275.9h0M1169 274.6h0M1169.2 282.5h0M1169.5 282.5h0M1169.8 275.9h0M1170 278.5h0M1170.3 275.9h0M1170.6 275.9h0M1170.9 275.9h0M1171.1 274.6h0M1171.4 275.9h0M1171.7 273.2h0M1171.9 274.6h0M1172.2 275.9h0M1172.5 275.9h0M1172.8 275.9h0M1173 278.5h0M1173.3 277.2h0M1173.6 277.2h0M1173.8 277.2h0M1174.1 275.9h0M1174.4 274.6h0M1174.6 273.2h0M1174.9 274.6h0M1175.2 275.9h0M1175.5 275.9h0M1175.7 275.9h0M1176 273.2h0M1176.3 274.6h0M1176.5 273.2h0M1176.8 274.6h0M1177.1 277.2h0M1177.3 275.9h0M1177.6 277.2h0M1177.9 278.5h0M1178.2 286.4h0M1178.4 283.8h0M1178.7 283.8h0M1179 282.5h0M1179.2 281.2h0M1179.5 279.8h0M1179.8 278.5h0M1180.1 278.5h0M1180.3 277.2h0M1180.6 277.2h0M1180.9 277.2h0M1181.1 281.2h0M1181.4 278.5h0M1181.7 275.9h0M1181.9 277.2h0M1182.2 278.5h0M1182.5 278.5h0M1182.8 277.2h0M1183 277.2h0M1183.3 282.5h0M1183.6 282.5h0M1183.8 275.9h0M1184.1 275.9h0M1184.4 277.2h0M1184.6 278.5h0M1184.9 278.5h0M1185.2 279.8h0M1185.5 277.2h0M1185.7 278.5h0M1186 281.2h0M1186.3 281.2h0M1186.5 279.8h0M1186.8 278.5h0M1187.1 278.5h0M1187.3 277.2h0M1187.6 277.2h0M1187.9 277.2h0M1188.2 277.2h0M1188.4 275.9h0M1188.7 275.9h0M1189 274.6h0M1189.2 274.6h0M1189.5 277.2h0M1189.8 275.9h0M1190.1 275.9h0M1190.3 273.2h0M1190.6 274.6h0M1190.9 275.9h0M1191.1 275.9h0M1191.4 273.2h0M1191.7 270.6h0M1191.9 274.6h0M1192.2 273.2h0M1192.5 274.6h0M1192.8 275.9h0M1193 275.9h0M1193.3 274.6h0M1193.6 277.2h0M1193.8 278.5h0M1194.1 277.2h0M1194.4 277.2h0M1194.6 277.2h0M1194.9 275.9h0M1195.2 275.9h0M1195.5 274.6h0M1195.7 275.9h0M1196 277.2h0M1196.3 278.5h0M1196.5 281.2h0M1196.8 275.9h0M1197.1 275.9h0M1197.4 275.9h0M1197.6 275.9h0M1197.9 277.2h0M1198.2 277.2h0M1198.4 278.5h0M1198.7 277.2h0M1199 277.2h0M1199.2 274.6h0M1199.5 273.2h0M1199.8 275.9h0M1200.1 275.9h0M1200.3 277.2h0M1200.6 277.2h0M1200.9 275.9h0M1201.1 275.9h0M1201.4 277.2h0M1201.7 277.2h0M1201.9 277.2h0M1202.2 279.8h0M1202.5 278.5h0M1202.8 277.2h0M1203 278.5h0M1203.3 277.2h0M1203.6 277.2h0M1203.8 277.2h0M1204.1 275.9h0M1204.4 277.2h0M1204.7 275.9h0M1204.9 275.9h0M1205.2 279.8h0M1205.5 277.2h0M1205.7 278.5h0M1206 281.2h0M1206.3 278.5h0M1206.5 278.5h0M1206.8 279.8h0M1207.1 278.5h0M1207.4 281.2h0M1207.6 281.2h0M1207.9 278.5h0M1208.2 278.5h0M1208.4 274.6h0M1208.7 277.2h0M1209 275.9h0M1209.2 277.2h0M1209.5 275.9h0M1209.8 274.6h0M1210.1 273.2h0M1210.3 274.6h0M1210.6 275.9h0M1210.9 275.9h0M1211.1 275.9h0M1211.4 285.1h0M1211.7 285.1h0M1211.9 278.5h0M1212.2 277.2h0M1212.5 277.2h0M1212.8 277.2h0M1213 275.9h0M1213.3 275.9h0M1213.6 277.2h0M1213.8 275.9h0M1214.1 274.6h0M1214.4 275.9h0M1214.7 278.5h0M1214.9 278.5h0M1215.2 279.8h0M1215.5 278.5h0M1215.7 282.5h0M1216 279.8h0M1216.3 279.8h0M1216.5 279.8h0M1216.8 278.5h0M1217.1 279.8h0M1217.4 277.2h0M1217.6 275.9h0M1217.9 274.6h0M1218.2 277.2h0M1218.4 278.5h0M1218.7 277.2h0M1219 277.2h0M1219.2 277.2h0M1219.5 278.5h0M1219.8 279.8h0M1220.1 277.2h0M1220.3 275.9h0M1220.6 278.5h0M1220.9 278.5h0M1221.1 275.9h0M1221.4 275.9h0M1221.7 275.9h0M1222 277.2h0M1222.2 281.2h0M1222.5 281.2h0M1222.8 281.2h0M1223 277.2h0M1223.3 278.5h0M1223.6 282.5h0M1223.8 279.8h0M1224.1 277.2h0M1224.4 273.2h0M1224.7 270.6h0M1224.9 268h0M1225.2 269.3h0M1225.5 271.9h0M1225.7 270.6h0M1226 271.9h0M1226.3 273.2h0M1226.5 274.6h0M1226.8 278.5h0M1227.1 279.8h0M1227.4 281.2h0M1227.6 278.5h0M1227.9 274.6h0M1228.2 277.2h0M1228.4 274.6h0M1228.7 271.9h0M1229 270.6h0M1229.2 273.2h0M1229.5 275.9h0M1229.8 274.6h0M1230.1 274.6h0M1230.3 278.5h0M1230.6 275.9h0M1230.9 275.9h0M1231.1 278.5h0M1231.4 278.5h0M1231.7 279.8h0M1232 278.5h0M1232.2 281.2h0M1232.5 281.2h0M1232.8 277.2h0M1233 274.6h0M1233.3 273.2h0M1233.6 273.2h0M1233.8 275.9h0M1234.1 275.9h0M1234.4 275.9h0M1234.7 273.2h0M1234.9 277.2h0M1235.2 278.5h0M1235.5 274.6h0M1235.7 273.2h0M1236 273.2h0M1236.3 275.9h0M1236.5 278.5h0M1236.8 275.9h0M1237.1 274.6h0M1237.4 275.9h0M1237.6 278.5h0M1237.9 277.2h0M1238.2 279.8h0M1238.4 279.8h0M1238.7 277.2h0M1239 274.6h0M1239.3 278.5h0M1239.5 278.5h0M1239.8 278.5h0M1240.1 279.8h0M1240.3 274.6h0M1240.6 270.6h0M1240.9 274.6h0M1241.1 275.9h0M1241.4 275.9h0M1241.7 274.6h0M1242 274.6h0M1242.2 271.9h0M1242.5 273.2h0M1242.8 270.6h0M1243 271.9h0M1243.3 273.2h0M1243.6 275.9h0M1243.8 274.6h0M1244.1 273.2h0M1244.4 275.9h0M1244.7 282.5h0M1244.9 279.8h0M1245.2 275.9h0M1245.5 277.2h0M1245.7 277.2h0M1246 279.8h0M1246.3 279.8h0M1246.6 278.5h0M1246.8 279.8h0M1247.1 278.5h0M1247.4 278.5h0M1247.6 273.2h0M1247.9 274.6h0M1248.2 277.2h0M1248.4 277.2h0M1248.7 278.5h0M1249 279.8h0M1249.3 277.2h0M1249.5 277.2h0M1249.8 277.2h0M1250.1 278.5h0M1250.3 279.8h0M1250.6 279.8h0M1250.9 281.2h0M1251.1 279.8h0M1251.4 279.8h0M1251.7 282.5h0M1252 278.5h0M1252.2 279.8h0M1252.5 277.2h0M1252.8 278.5h0M1253 277.2h0M1253.3 278.5h0M1253.6 278.5h0M1253.8 277.2h0M1254.1 275.9h0M1254.4 278.5h0M1254.7 279.8h0M1254.9 279.8h0M1255.2 277.2h0M1255.5 277.2h0M1255.7 277.2h0M1256 277.2h0M1256.3 277.2h0M1256.6 277.2h0M1256.8 275.9h0M1257.1 275.9h0M1257.4 274.6h0M1257.6 274.6h0M1257.9 278.5h0M1258.2 273.2h0M1258.4 274.6h0M1258.7 273.2h0M1259 275.9h0M1259.3 274.6h0M1259.5 275.9h0M1259.8 277.2h0M1260.1 278.5h0M1260.3 277.2h0M1260.6 275.9h0M1260.9 274.6h0M1261.1 274.6h0M1261.4 271.9h0M1261.7 274.6h0M1262 273.2h0M1262.2 274.6h0M1262.5 275.9h0M1262.8 277.2h0M1263 275.9h0M1263.3 278.5h0M1263.6 279.8h0M1263.9 278.5h0M1264.1 277.2h0M1264.4 277.2h0M1264.7 282.5h0M1264.9 277.2h0M1265.2 278.5h0M1265.5 277.2h0M1265.7 277.2h0M1266 278.5h0M1266.3 279.8h0M1266.6 279.8h0M1266.8 279.8h0M1267.1 281.2h0M1267.4 278.5h0M1267.6 281.2h0M1267.9 279.8h0M1268.2 279.8h0M1268.4 279.8h0M1268.7 278.5h0M1269 282.5h0M1269.3 281.2h0M1269.5 277.2h0M1269.8 278.5h0M1270.1 281.2h0M1270.3 285.1h0M1270.6 286.4h0M1270.9 283.8h0M1271.2 282.5h0M1271.4 279.8h0M1271.7 285.1h0M1272 290.4h0M1272.2 285.1h0M1272.5 279.8h0M1272.8 281.2h0M1273 278.5h0M1273.3 277.2h0M1273.6 278.5h0M1273.9 279.8h0M1274.1 281.2h0M1274.4 278.5h0M1274.7 277.2h0M1274.9 277.2h0M1275.2 274.6h0M1275.5 277.2h0M1275.7 277.2h0M1276 274.6h0M1276.3 275.9h0M1276.6 279.8h0M1276.8 279.8h0M1277.1 277.2h0M1277.4 277.2h0M1277.6 273.2h0M1277.9 270.6h0M1278.2 270.6h0M1278.4 274.6h0M1278.7 274.6h0M1279 279.8h0M1279.3 278.5h0M1279.5 282.5h0M1279.8 287.8h0M1280.1 283.8h0M1280.3 286.4h0M1280.6 281.2h0M1280.9 277.2h0M1281.2 273.2h0M1281.4 277.2h0M1281.7 281.2h0M1282 282.5h0M1282.2 281.2h0M1282.5 278.5h0M1282.8 275.9h0M1283 275.9h0M1283.3 282.5h0M1283.6 281.2h0M1283.9 282.5h0M1284.1 289.1h0M1284.4 282.5h0M1284.7 283.8h0M1284.9 278.5h0M1285.2 281.2h0M1285.5 279.8h0M1285.7 278.5h0M1286 275.9h0M1286.3 275.9h0M1286.6 277.2h0M1286.8 275.9h0M1287.1 271.9h0M1287.4 273.2h0M1287.6 270.6h0M1287.9 270.6h0M1288.2 270.6h0M1288.5 269.3h0M1288.7 269.3h0M1289 270.6h0M1289.3 269.3h0M1289.5 270.6h0M1289.8 270.6h0M1290.1 270.6h0M1290.3 269.3h0M1290.6 265.3h0M1290.9 265.3h0M1291.2 268h0M1291.4 269.3h0M1291.7 273.2h0M1292 275.9h0M1292.2 278.5h0M1292.5 277.2h0M1292.8 281.2h0M1293 281.2h0M1293.3 281.2h0M1293.6 277.2h0M1293.9 275.9h0M1294.1 274.6h0M1294.4 269.3h0M1294.7 274.6h0M1294.9 273.2h0M1295.2 278.5h0M1295.5 275.9h0M1295.7 271.9h0M1296 271.9h0M1296.3 270.6h0M1296.6 273.2h0M1296.8 275.9h0M1297.1 279.8h0M1297.4 278.5h0M1297.6 275.9h0M1297.9 277.2h0M1298.2 273.2h0M1298.5 274.6h0M1298.7 274.6h0M1299 274.6h0M1299.3 271.9h0M1299.5 275.9h0M1299.8 275.9h0M1300.1 279.8h0M1300.3 275.9h0M1300.6 274.6h0M1300.9 275.9h0M1301.2 271.9h0M1301.4 274.6h0M1301.7 277.2h0M1302 275.9h0M1302.2 273.2h0M1302.5 274.6h0M1302.8 274.6h0M1303 274.6h0M1303.3 270.6h0M1303.6 274.6h0M1303.9 270.6h0M1304.1 273.2h0M1304.4 275.9h0" fill="none" stroke="#0000ff" stroke-width="3.8" stroke-linecap="round"/>
<path d="M325.4 506L325.6 506.1L325.9 506.6L326.2 507L326.4 507.1L326.7 506.9L327 506.3L327.2 505.9L327.5 505.8L327.8 505.8L328.1 506L328.3 506.1L328.6 506.5L328.9 506.9L329.1 507.2L329.4 507.2L329.7 506.7L329.9 505.7L330.2 505.1L330.5 505L330.8 505.7L331 507.1L331.3 507.9L331.6 507.9L331.8 507L332.1 505.6L332.4 505L332.6 505.2L332.9 506L333.2 507L333.5 507.1L333.7 506.6L334 505.8L334.3 505.7L334.5 506.3L334.8 507.2L335.1 507.6L335.3 507.2L335.6 506L335.9 505L336.2 504.7L336.4 505.2L336.7 506.5L337 507.5L337.2 507.8L337.5 507.4L337.8 506.7L338 505.8L338.3 505.6L338.6 505.7L338.9 506L339.1 506.1L339.4 506.2L339.7 506.2L339.9 506.4L340.2 506.6L340.5 506.8L340.7 506.9L341 506.8L341.3 506.5L341.6 506.1L341.8 505.8L342.1 505.7L342.4 505.7L342.6 506.1L342.9 506.8L343.2 507.2L343.4 507.1L343.7 506.6L344 505.7L344.3 505.4L344.5 505.6L344.8 506.6L345.1 507.4L345.3 507.6L345.6 507.1L345.9 505.7L346.1 504.8L346.4 504.8L346.7 505.6L347 507.1L347.2 508L347.5 507.9L347.8 507.1L348 505.7L348.3 505.1L348.6 505.2L348.8 505.9L349.1 506.7L349.4 506.9L349.7 506.7L349.9 506.2L350.2 506.2L350.5 506.6L350.7 507L351 507L351.3 506.5L351.5 505.6L351.8 505.2L352.1 505.3L352.4 506L352.6 507.1L352.9 507.7L353.2 507.8L353.4 507.2L353.7 506L354 505L354.2 504.5L354.5 504.8L354.8 505.9L355.1 507.6L355.3 508.5L355.6 508.6L355.9 507.5L356.1 505.4L356.4 504L356.7 503.7L356.9 504.7L357.2 506.9L357.5 508.6L357.8 508.9L358 508L358.3 505.9L358.6 504.6L358.8 504.4L359.1 505.2L359.4 506.7L359.6 507.5L359.9 507.4L360.2 506.7L360.5 506L360.7 505.9L361 506.4L361.3 506.7L361.5 506.5L361.8 505.8L362.1 505.5L362.3 505.8L362.6 506.8L362.9 507.5L363.2 507.5L363.4 506.6L363.7 505.4L364 504.9L364.2 505.4L364.5 506.7L364.8 507.7L365 507.7L365.3 506.8L365.6 505.4L365.9 504.9L366.1 505.4L366.4 506.8L366.7 507.7L366.9 507.8L367.2 507L367.5 505.6L367.7 504.9L368 504.9L368.3 505.6L368.6 506.6L368.8 507.3L369.1 507.6L369.4 507.7L369.6 507.5L369.9 506.8L370.2 505.5L370.4 504.5L370.7 504L371 504.5L371.3 506.1L371.5 508.2L371.8 509.2L372.1 509L372.3 507.5L372.6 505.2L372.9 504L373.1 504L373.4 504.8L373.7 506.2L374 507.2L374.2 507.5L374.5 507.5L374.8 507.6L375 507.6L375.3 507.3L375.6 506L375.8 504.7L376.1 503.9L376.4 504.3L376.7 505.8L376.9 508.1L377.2 509L377.5 508.6L377.7 506.9L378 504.7L378.3 504L378.5 504.8L378.8 506.6L379.1 507.9L379.4 508L379.6 506.9L379.9 505.3L380.2 504.9L380.4 505.5L380.7 506.8L381 507.6L381.2 507.5L381.5 506.6L381.8 505.6L382.1 505.4L382.3 505.9L382.6 506.6L382.9 506.8L383.1 506.3L383.4 505.9L383.7 506L383.9 506.7L384.2 507.3L384.5 507.3L384.8 506.6L385 505.4L385.3 505L385.6 505.3L385.8 506.5L386.1 507.5L386.4 507.7L386.6 507L386.9 505.9L387.2 505.4L387.5 505.6L387.7 506.4L388 506.9L388.3 506.8L388.5 506.1L388.8 505.6L389.1 505.8L389.3 506.7L389.6 507.3L389.9 507.4L390.2 506.7L390.4 505.7L390.7 505.3L391 505.5L391.2 506.2L391.5 506.9L391.8 506.9L392 506.5L392.3 506.1L392.6 506.3L392.9 506.9L393.1 507.2L393.4 506.9L393.7 505.9L393.9 505L394.2 504.9L394.5 505.6L394.7 507.1L395 508L395.3 508L395.6 507.1L395.8 505.5L396.1 504.8L396.4 504.9L396.6 505.7L396.9 506.9L397.2 507.4L397.4 507.5L397.7 507.2L398 506.8L398.3 506.2L398.5 505.7L398.8 505.2L399.1 505L399.3 505.2L399.6 506.2L399.9 507.7L400.1 508.5L400.4 508.4L400.7 507.3L401 505.2L401.2 504L401.5 503.9L401.8 504.9L402 506.9L402.3 508.2L402.6 508.5L402.8 507.9L403.1 506.6L403.4 505.4L403.7 505.1L403.9 505.3L404.2 505.8L404.5 506.3L404.7 506.6L405 506.5L405.3 506.5L405.5 506.6L405.8 506.7L406.1 506.8L406.4 506.8L406.6 506.7L406.9 506.4L407.2 506L407.4 505.7L407.7 505.6L408 505.7L408.2 506.1L408.5 506.7L408.8 507.1L409.1 507.1L409.3 506.8L409.6 506.5L409.9 506.2L410.1 506.2L410.4 506.2L410.7 506.1L410.9 505.8L411.2 505.6L411.5 505.7L411.8 506.5L412 507.3L412.3 507.7L412.6 507.4L412.8 506.3L413.1 505.2L413.4 504.8L413.6 505.3L413.9 506.6L414.2 507.6L414.5 507.9L414.7 507.3L415 506L415.3 505L415.5 504.9L415.8 505.4L416.1 506.5L416.3 507.3L416.6 507.5L416.9 507.3L417.2 506.9L417.4 506.5L417.7 506.1L418 505.8L418.2 505.5L418.5 505.3L418.8 505.4L419 505.8L419.3 506.7L419.6 507.4L419.9 507.8L420.1 507.7L420.4 507.2L420.7 506.2L420.9 505.3L421.2 504.7L421.5 504.6L421.7 505.1L422 506.3L422.3 507.6L422.6 508.2L422.8 508L423.1 507L423.4 505.6L423.6 505L423.9 505.3L424.2 506.5L424.5 507.5L424.7 507.4L425 506.1L425.3 504.7L425.5 504.2L425.8 505L426.1 507.2L426.3 508.9L426.6 509.3L426.9 508.3L427.2 505.9L427.4 504L427.7 503.6L428 504.4L428.2 506.1L428.5 507.5L428.8 507.7L429 507.1L429.3 506.3L429.6 506.4L429.9 507.2L430.1 507.7L430.4 507.5L430.7 506.2L430.9 504.7L431.2 504L431.5 504.3L431.7 505.5L432 507.4L432.3 508.3L432.6 508.4L432.8 507.8L433.1 506.8L433.4 505.8L433.6 505.2L433.9 505.1L434.2 505.2L434.4 505.6L434.7 506.4L435 507.1L435.3 507.3L435.5 507L435.8 506.2L436.1 505.7L436.3 505.9L436.6 506.9L436.9 507.7L437.1 507.7L437.4 506.8L437.7 505.2L438 504.2L438.2 504.3L438.5 505.4L438.8 507.2L439 508.2L439.3 508.2L439.6 507.4L439.8 506.2L440.1 505.6L440.4 505.9L440.7 506.4L440.9 506.4L441.2 505.7L441.5 505.1L441.7 505L442 505.6L442.3 506.9L442.5 507.8L442.8 508L443.1 507.5L443.4 506.8L443.6 506.3L443.9 506.2L444.2 506L444.4 505.4L444.7 504.6L445 504.2L445.2 504.7L445.5 506.6L445.8 508.6L446.1 509.7L446.3 509.4L446.6 507.7L446.9 504.8L447.1 503.3L447.4 503.2L447.7 504.4L447.9 506.5L448.2 508L448.5 508.4L448.8 507.9L449 507L449.3 506.2L449.6 506L449.8 506L450.1 506L450.4 505.8L450.6 505.7L450.9 505.8L451.2 506L451.5 506.3L451.7 506.6L452 506.6L452.3 506.7L452.5 506.8L452.8 507L453.1 506.9L453.3 506.6L453.6 506L453.9 505.7L454.2 505.8L454.4 506.1L454.7 506.4L455 506.3L455.2 505.8L455.5 505.5L455.8 505.8L456 506.9L456.3 507.9L456.6 508.2L456.9 507.7L457.1 506.2L457.4 504.7L457.7 504.2L457.9 504.7L458.2 505.9L458.5 507.4L458.7 507.8L459 507.3L459.3 506.5L459.6 505.9L459.8 506.1L460.1 507L460.4 507.4L460.6 507.2L460.9 506.1L461.2 505L461.4 504.5L461.7 504.7L462 505.5L462.3 507L462.5 507.9L462.8 508.3L463.1 508.2L463.3 507.4L463.6 506.1L463.9 505L464.1 504.4L464.4 504.5L464.7 505.2L465 506.3L465.2 507.3L465.5 507.6L465.8 507.4L466 507L466.3 506.7L466.6 506.9L466.8 507L467.1 506.8L467.4 505.8L467.7 504.8L467.9 504.3L468.2 504.5L468.5 505.7L468.7 507.5L469 508.5L469.3 508.7L469.5 508L469.8 506.7L470.1 505.4L470.4 504.9L470.6 504.8L470.9 504.9L471.2 505.2L471.4 505.8L471.7 506.8L472 507.7L472.2 508.2L472.5 508.1L472.8 507.3L473.1 505.8L473.3 504.9L473.6 504.7L473.9 505.1L474.1 506L474.4 506.9L474.7 507.1L474.9 507.1L475.2 506.9L475.5 506.8L475.8 506.6L476 506.1L476.3 505.7L476.6 505.6L476.8 506L477.1 506.9L477.4 507.6L477.6 507.6L477.9 506.6L478.2 505.1L478.5 504.3L478.7 504.5L479 505.8L479.3 507.8L479.5 508.8L479.8 508.6L480.1 507.4L480.3 505.6L480.6 504.7L480.9 504.6L481.2 505.1L481.4 505.6L481.7 505.9L482 506.2L482.2 506.9L482.5 507.8L482.8 508.4L483 508.4L483.3 507.3L483.6 505.2L483.9 503.8L484.1 503.6L484.4 504.5L484.7 506.5L484.9 508.1L485.2 508.6L485.5 508.1L485.7 507.1L486 506.1L486.3 505.7L486.6 505.5L486.8 505.3L487.1 505.1L487.4 505.1L487.6 505.8L487.9 507.2L488.2 508.2L488.4 508.3L488.7 507.4L489 505.6L489.3 504.5L489.5 504.4L489.8 505.4L490.1 507L490.3 507.9L490.6 507.8L490.9 507L491.1 505.9L491.4 505.5L491.7 505.6L492 506L492.2 506.1L492.5 506L492.8 506L493 506.7L493.3 507.4L493.6 507.7L493.8 507.3L494.1 506L494.4 504.9L494.7 504.6L494.9 505.3L495.2 506.8L495.5 507.7L495.7 507.7L496 506.8L496.3 505.6L496.5 505.4L496.8 506L497.1 507.2L497.4 507.5L497.6 506.9L497.9 505.5L498.2 504.8L498.4 505L498.7 506.2L499 507.6L499.2 508L499.5 507.4L499.8 505.9L500.1 505.1L500.3 505.2L500.6 506.3L500.9 507.4L501.1 507.6L501.4 506.9L501.7 505.5L501.9 504.8L502.2 505L502.5 506L502.8 507.3L503 507.8L503.3 507.6L503.6 507L503.8 506.2L504.1 505.8L504.4 505.5L504.6 505.3L504.9 505.3L505.2 505.5L505.5 506.4L505.7 507.5L506 508.1L506.3 507.9L506.5 506.9L506.8 505.3L507.1 504.6L507.3 504.8L507.6 505.8L507.9 507.3L508.2 507.8L508.4 507.4L508.7 506.2L509 505.3L509.2 505.1L509.5 505.8L509.8 506.9L510 507.5L510.3 507.4L510.6 506.7L510.9 505.9L511.1 505.5L511.4 505.5L511.7 505.9L511.9 506.3L512.2 506.7L512.5 506.8L512.7 506.9L513 506.9L513.3 506.7L513.6 506.2L513.8 505.8L514.1 505.7L514.4 506L514.6 506.6L514.9 507L515.2 506.9L515.4 506.5L515.7 505.9L516 505.7L516.3 505.8L516.5 506.3L516.8 506.8L517.1 506.9L517.3 506.7L517.6 506.5L517.9 506.4L518.1 506.5L518.4 506.5L518.7 506.1L519 505.6L519.2 505.2L519.5 505.3L519.8 506.1L520 507.4L520.3 508.1L520.6 508.2L520.8 507.3L521.1 505.6L521.4 504.4L521.7 504L521.9 504.6L522.2 506.2L522.5 508L522.7 508.8L523 508.6L523.3 507.3L523.5 505.2L523.8 504L524.1 503.9L524.4 505L524.6 507.2L524.9 508.6L525.2 508.9L525.4 507.9L525.7 505.8L526 504.2L526.2 503.8L526.5 504.5L526.8 506.3L527.1 508L527.3 508.7L527.6 508.4L527.9 507.4L528.1 505.8L528.4 504.8L528.7 504.4L528.9 504.6L529.2 505.2L529.5 506.4L529.8 507.7L530 508.4L530.3 508.5L530.6 507.7L530.8 505.9L531.1 504.6L531.4 504.2L531.6 504.8L531.9 506.2L532.2 507.6L532.5 507.8L532.7 507.2L533 505.9L533.3 505.4L533.5 505.7L533.8 506.9L534.1 507.6L534.3 507.5L534.6 506.5L534.9 505.2L535.2 504.7L535.4 505.1L535.7 506.1L536 507.2L536.2 507.4L536.5 507.1L536.8 506.6L537 506.4L537.3 506.7L537.6 506.9L537.9 506.7L538.1 505.9L538.4 505.2L538.7 505.1L538.9 505.5L539.2 506.5L539.5 507.3L539.7 507.5L540 507.2L540.3 506.8L540.6 506.5L540.8 506.5L541.1 506.2L541.4 505.7L541.6 505.3L541.9 505.2L542.2 505.6L542.4 506.8L542.7 507.6L543 507.6L543.3 506.9L543.5 505.8L543.8 505.5L544.1 506.2L544.3 507.3L544.6 507.6L544.9 506.7L545.1 504.9L545.4 503.9L545.7 504.2L546 506.1L546.2 508.6L546.5 509.7L546.8 509L547 506.7L547.3 504L547.6 503.2L547.8 504L548.1 506.3L548.4 508.3L548.7 508.6L548.9 507.5L549.2 505.6L549.5 504.9L549.7 505.4L550 507L550.3 507.7L550.5 507.4L550.8 506L551.1 504.9L551.4 504.9L551.6 505.8L551.9 507.2L552.2 507.7L552.4 507.3L552.7 506.2L553 505.4L553.2 505.5L553.5 506.1L553.8 507L554.1 507.1L554.3 506.7L554.6 506.1L554.9 505.9L555.1 506.1L555.4 506.5L555.7 506.4L555.9 505.9L556.2 505.7L556.5 506L556.8 506.9L557 507.5L557.3 507.6L557.6 506.8L557.8 505.5L558.1 505L558.4 505.2L558.6 506.2L558.9 507.1L559.2 507.2L559.5 506.6L559.7 505.8L560 505.8L560.3 506.7L560.5 507.5L560.8 507.6L561.1 506.6L561.3 505L561.6 504.3L561.9 504.8L562.2 506.7L562.4 508.2L562.7 508.6L563 507.6L563.2 505.4L563.5 504.2L563.8 504.4L564 505.8L564.3 507.8L564.6 508.5L564.9 507.9L565.1 506.1L565.4 504.7L565.7 504.5L565.9 505.3L566.2 506.7L566.5 507.5L566.7 507.5L567 507.1L567.3 506.6L567.6 506.5L567.8 506.5L568.1 506.2L568.4 505.5L568.6 505L568.9 505L569.2 505.8L569.4 507.3L569.7 508.3L570 508.3L570.3 507.4L570.5 505.7L570.8 504.6L571.1 504.5L571.3 505.2L571.6 506.5L571.9 507.4L572.1 507.6L572.4 507.3L572.7 506.7L573 506L573.2 505.7L573.5 505.6L573.8 505.7L574 506.1L574.3 506.6L574.6 507L574.8 507.1L575.1 506.8L575.4 506.1L575.7 505.6L575.9 505.6L576.2 506L576.5 506.7L576.7 507L577 506.8L577.3 506.3L577.5 506L577.8 506.2L578.1 506.7L578.4 507L578.6 506.7L578.9 505.9L579.2 505.2L579.4 505.1L579.7 505.7L580 507L580.2 507.9L580.5 508.1L580.8 507.4L581.1 506L581.3 504.9L581.6 504.6L581.9 504.9L582.1 505.8L582.4 507L582.7 507.7L582.9 507.9L583.2 507.7L583.5 507.1L583.8 506.1L584 505.2L584.3 504.7L584.6 504.8L584.8 505.4L585.1 506.6L585.4 507.6L585.6 508.1L585.9 507.9L586.2 507.3L586.5 506L586.7 505.1L587 504.7L587.3 504.8L587.5 505.4L587.8 506.6L588.1 507.6L588.3 508.1L588.6 508L588.9 507.2L589.2 505.8L589.4 504.8L589.7 504.6L590 505.1L590.2 506.2L590.5 507.3L590.8 507.6L591 507.4L591.3 506.8L591.6 506.2L591.9 506L592.1 506.1L592.4 506.1L592.7 505.8L592.9 505.7L593.2 505.8L593.5 506.4L593.7 507.1L594 507.4L594.3 507L594.6 506L594.8 505.4L595.1 505.4L595.4 506.3L595.6 507.3L595.9 507.6L596.2 507L596.4 505.6L596.7 504.7L597 504.8L597.3 505.8L597.5 507.4L597.8 508.2L598.1 508L598.3 506.9L598.6 505.5L598.9 505L599.1 505.2L599.4 505.8L599.7 506.5L600 506.7L600.2 506.6L600.5 506.6L600.8 506.8L601 507.1L601.3 507L601.6 506.5L601.8 505.7L602.1 505.4L602.4 505.6L602.7 506.3L602.9 506.8L603.2 506.7L603.5 506.1L603.7 505.7L604 505.9L604.3 506.9L604.5 507.7L604.8 507.8L605.1 507L605.4 505.4L605.6 504.5L605.9 504.6L606.2 505.6L606.4 507.2L606.7 508L607 507.9L607.2 507L607.5 505.9L607.8 505.5L608.1 505.6L608.3 506L608.6 506.3L608.9 506.1L609.1 506.1L609.4 506.4L609.7 507L609.9 507.2L610.2 506.9L610.5 505.9L610.8 505.2L611 505.2L611.3 506L611.6 507.4L611.8 508L612.1 507.7L612.4 506.3L612.6 504.9L612.9 504.5L613.2 505.2L613.5 506.6L613.7 507.5L614 507.5L614.3 506.8L614.5 506L614.8 506L615.1 506.8L615.3 507.3L615.6 507.1L615.9 505.8L616.2 504.6L616.4 504.2L616.7 505L617 507.1L617.2 508.6L617.5 508.9L617.8 508.1L618 506.2L618.3 504.6L618.6 504.2L618.9 504.7L619.1 505.8L619.4 506.9L619.7 507.3L619.9 507.2L620.2 507.1L620.5 507L620.7 506.9L621 506.6L621.3 506L621.6 505.6L621.8 505.4L622.1 505.6L622.4 506L622.6 506.5L622.9 506.7L623.2 506.8L623.4 506.9L623.7 507.1L624 507.2L624.3 506.8L624.5 505.9L624.8 505L625.1 504.7L625.3 505.2L625.6 506.7L625.9 507.9L626.1 508.3L626.4 507.8L626.7 506.2L627 504.9L627.2 504.4L627.5 504.8L627.8 505.9L628 507.3L628.3 507.9L628.6 507.9L628.8 507.5L629.1 506.8L629.4 505.8L629.7 505L629.9 504.5L630.2 504.4L630.5 505.1L630.7 506.8L631 508.3L631.3 509.2L631.5 509L631.8 507.6L632.1 505.1L632.4 503.6L632.6 503.2L632.9 504L633.2 505.8L633.4 507.9L633.7 508.9L634 508.9L634.2 508.2L634.5 506.8L634.8 505.3L635.1 504.5L635.3 504.4L635.6 504.9L635.9 505.8L636.1 506.9L636.4 507.4L636.7 507.5L636.9 507.1L637.2 506.8L637.5 506.6L637.8 506.7L638 506.7L638.3 506.4L638.6 505.6L638.8 505.1L639.1 504.9L639.4 505.3L639.6 506.4L639.9 507.5L640.2 507.9L640.5 507.8L640.7 507.2L641 506.5L641.3 505.8L641.5 505.4L641.8 505.2L642.1 505L642.3 505.1L642.6 505.8L642.9 507.2L643.2 508.2L643.4 508.5L643.7 507.9L644 506.2L644.2 504.7L644.5 504.1L644.8 504.6L645 505.9L645.3 507.6L645.6 508.3L645.9 508L646.1 507L646.4 505.6L646.7 504.8L646.9 504.7L647.2 505.2L647.5 506.1L647.7 507.4L648 508.3L648.3 508.5L648.6 507.9L648.8 506.1L649.1 504.2L649.4 503.2L649.6 503.5L649.9 505.2L650.2 508.1L650.4 509.8L650.7 509.9L651 508.4L651.3 505.5L651.5 503.6L651.8 503.3L652.1 504.2L652.3 506L652.6 507.6L652.9 508L653.1 507.7L653.4 507.2L653.7 506.8L654 506.6L654.2 506.3L654.5 505.7L654.8 505.3L655 505.3L655.3 505.8L655.6 506.8L655.8 507.2L656.1 507L656.4 506L656.7 505.5L656.9 505.8L657.2 507.1L657.5 508L657.7 508.1L658 507L658.3 505L658.5 503.8L658.8 503.9L659.1 505.3L659.4 507.6L659.6 508.8L659.9 508.8L660.2 507.7L660.4 506L660.7 505L661 504.7L661.2 505L661.5 505.4L661.8 505.8L662.1 506.6L662.3 507.5L662.6 508.2L662.9 508.3L663.1 507.4L663.4 505.4L663.7 503.9L663.9 503.6L664.2 504.7L664.5 507.2L664.8 508.9L665 509.2L665.3 508.1L665.6 505.8L665.8 504.4L666.1 504.1L666.4 504.9L666.6 506.1L666.9 507L667.2 507.3L667.5 507.3L667.7 507.4L668 507.6L668.3 507.5L668.5 506.5L668.8 504.9L669.1 504L669.3 504.1L669.6 505.4L669.9 507.7L670.2 508.9L670.4 508.8L670.7 507.4L671 505.3L671.2 504.4L671.5 504.8L671.8 506.1L672 507.2L672.3 507.2L672.6 506.2L672.9 505.3L673.1 505.4L673.4 506.6L673.7 507.7L673.9 508L674.2 507.3L674.5 505.6L674.7 504.7L675 504.7L675.3 505.7L675.6 507.2L675.8 507.8L676.1 507.4L676.4 506.2L676.6 505.4L676.9 505.3L677.2 505.9L677.4 506.9L677.7 507.3L678 507.2L678.3 506.7L678.5 506.2L678.8 505.9L679.1 505.7L679.3 505.6L679.6 505.6L679.9 505.9L680.1 506.8L680.4 507.5L680.7 507.7L681 507.3L681.2 506.2L681.5 505.2L681.8 504.9L682 505.5L682.3 506.6L682.6 507.3L682.9 507.2L683.1 506.4L683.4 505.7L683.7 505.7L683.9 506.6L684.2 507.4L684.5 507.6L684.7 506.7L685 505.3L685.3 504.6L685.6 504.9L685.8 506.4L686.1 507.9L686.4 508.3L686.6 507.6L686.9 505.8L687.2 504.5L687.4 504.4L687.7 505.4L688 507.2L688.3 508.2L688.5 508.2L688.8 507.1L689.1 505.5L689.3 504.6L689.6 504.8L689.9 505.6L690.1 506.9L690.4 507.5L690.7 507.5L691 507L691.2 506.2L691.5 505.8L691.8 505.8L692 506.2L692.3 506.6L692.6 506.6L692.8 506.3L693.1 505.9L693.4 505.7L693.7 505.8L693.9 506.4L694.2 507.1L694.5 507.4L694.7 507.3L695 506.7L695.3 505.8L695.5 505.3L695.8 505.3L696.1 505.7L696.4 506.4L696.6 507L696.9 507.1L697.2 507L697.4 506.7L697.7 506.3L698 506L698.2 505.9L698.5 505.8L698.8 505.9L699.1 506.4L699.3 507L699.6 507.3L699.9 507.1L700.1 506.4L700.4 505.4L700.7 504.9L700.9 505.1L701.2 506.1L701.5 507.5L701.8 508.1L702 508L702.3 507.1L702.6 505.7L702.8 504.9L703.1 504.8L703.4 505.3L703.6 506L703.9 506.8L704.2 507L704.5 507L704.7 507.1L705 507.1L705.3 507.1L705.5 507L705.8 506.5L706.1 505.8L706.3 505.2L706.6 504.8L706.9 504.8L707.2 505.2L707.4 506.2L707.7 507.7L708 508.8L708.2 509.1L708.5 508.4L708.8 506.5L709 504.1L709.3 502.9L709.6 503.1L709.9 504.8L710.1 507.6L710.4 509.1L710.7 509.3L710.9 508.1L711.2 506.2L711.5 505L711.7 505L712 505.7L712.3 506.5L712.6 506.2L712.8 505.4L713.1 505L713.4 505.5L713.6 507.1L713.9 508.3L714.2 508.5L714.4 507.6L714.7 505.6L715 504.4L715.3 504.5L715.5 505.7L715.8 507.4L716.1 508L716.3 507.4L716.6 505.7L716.9 504.8L717.1 504.8L717.4 505.9L717.7 507.4L718 508L718.2 507.7L718.5 506.9L718.8 506L719 505.8L719.3 505.8L719.6 505.7L719.8 505.3L720.1 505.1L720.4 505.4L720.7 506.5L720.9 507.8L721.2 508.4L721.5 508.2L721.7 507.1L722 505.6L722.3 504.9L722.5 504.9L722.8 505.4L723.1 505.8L723.4 505.9L723.6 505.8L723.9 506.1L724.2 507.2L724.4 508.1L724.7 508.5L725 507.9L725.2 506.3L725.5 504.7L725.8 504L726.1 504.4L726.3 505.4L726.6 506.8L726.9 507.3L727.1 507.3L727.4 507.3L727.7 507.5L727.9 507.7L728.2 507.4L728.5 506.2L728.8 504.7L729 503.9L729.3 504.3L729.6 505.9L729.8 508.1L730.1 508.9L730.4 508.2L730.6 506.1L730.9 504.4L731.2 504.2L731.5 505.5L731.7 507.8L732 508.8L732.3 508.4L732.5 506.5L732.8 504.4L733.1 503.8L733.3 504.4L733.6 506L733.9 507.7L734.2 508.1L734.4 507.6L734.7 507L735 506.6L735.2 506.7L735.5 506.8L735.8 506.2L736 505.3L736.3 504.6L736.6 504.6L736.9 505.3L737.1 506.8L737.4 507.8L737.7 508.1L737.9 507.8L738.2 507.2L738.5 506.7L738.7 506.2L739 505.7L739.3 505.1L739.6 504.6L739.8 504.6L740.1 505.3L740.4 506.9L740.6 508.1L740.9 508.5L741.2 508.1L741.4 507L741.7 505.8L742 505.3L742.3 505.4L742.5 505.6L742.8 505.6L743.1 505.3L743.3 505.2L743.6 505.7L743.9 507L744.1 508.1L744.4 508.5L744.7 508L745 506.8L745.2 505.3L745.5 504.7L745.8 504.9L746 505.4L746.3 506L746.6 506.2L746.8 506.2L747.1 506.5L747.4 507.1L747.7 507.6L747.9 507.8L748.2 507.5L748.5 506.6L748.7 505.5L749 505L749.3 505L749.5 505.3L749.8 505.6L750.1 506L750.4 506.5L750.6 507.2L750.9 507.8L751.2 508.1L751.4 507.8L751.7 506.8L752 505.3L752.2 504.5L752.5 504.5L752.8 505.2L753.1 506.4L753.3 507.1L753.6 507.2L753.9 506.9L754.1 506.6L754.4 506.8L754.7 507.1L754.9 507.4L755.2 507.1L755.5 506.1L755.8 505.2L756 504.7L756.3 504.7L756.6 505.4L756.8 506.6L757.1 507.5L757.4 507.9L757.6 507.9L757.9 507.5L758.2 506.8L758.5 505.8L758.7 505.2L759 505L759.3 505.2L759.5 505.7L759.8 506.2L760.1 506.6L760.3 506.7L760.6 506.9L760.9 507.2L761.2 507.6L761.4 507.7L761.7 507.2L762 505.8L762.2 504.6L762.5 504.1L762.8 504.5L763 506L763.3 507.8L763.6 508.6L763.9 508.3L764.1 507L764.4 505.4L764.7 504.8L764.9 505.1L765.2 506.1L765.5 507.1L765.7 507.3L766 506.9L766.3 506.1L766.6 505.7L766.8 505.8L767.1 506L767.4 506.2L767.6 506.2L767.9 506.5L768.2 506.9L768.4 507.4L768.7 507.5L769 507.1L769.3 505.9L769.5 504.9L769.8 504.5L770.1 504.9L770.3 505.9L770.6 507.3L770.9 507.9L771.1 507.8L771.4 507.3L771.7 506.8L772 506.3L772.2 505.9L772.5 505.5L772.8 505.1L773 504.9L773.3 505.3L773.6 506.4L773.8 507.7L774.1 508.3L774.4 508L774.7 506.9L774.9 505.4L775.2 504.9L775.5 505.2L775.7 506.1L776 507.1L776.3 507.2L776.5 506.7L776.8 505.9L777.1 505.5L777.4 505.7L777.6 506.1L777.9 506.7L778.2 507L778.4 507.2L778.7 507.4L779 507.4L779.2 506.9L779.5 505.6L779.8 504.4L780.1 503.9L780.3 504.5L780.6 506.5L780.9 508.6L781.1 509.6L781.4 509L781.7 507.1L781.9 504.4L782.2 503.4L782.5 503.9L782.8 505.7L783 507.8L783.3 508.4L783.6 507.7L783.8 506L784.1 505L784.4 505.3L784.6 506.6L784.9 507.6L785.2 507.8L785.5 506.9L785.7 505.5L786 504.8L786.3 505.1L786.5 506L786.8 507.1L787.1 507.4L787.3 507L787.6 506.3L787.9 505.9L788.2 506L788.4 506.5L788.7 506.9L789 507L789.2 506.8L789.5 506.3L789.8 505.9L790 505.5L790.3 505.3L790.6 505.4L790.9 506L791.1 507.1L791.4 508L791.7 508.2L791.9 507.6L792.2 506L792.5 504.7L792.7 504.3L793 504.9L793.3 506.5L793.6 507.7L793.8 507.9L794.1 507.1L794.4 505.7L794.6 505.2L794.9 505.7L795.2 506.9L795.4 507.7L795.7 507.6L796 506.6L796.3 505.1L796.5 504.6L796.8 504.9L797.1 506L797.3 507.3L797.6 507.8L797.9 507.6L798.1 507L798.4 506.4L798.7 506L799 505.8L799.2 505.7L799.5 505.5L799.8 505.5L800 505.9L800.3 506.8L800.6 507.6L800.8 507.8L801.1 507.3L801.4 506.1L801.7 505L801.9 504.7L802.2 505.1L802.5 506.3L802.7 507.6L803 508.2L803.3 508L803.5 507.2L803.8 505.7L804.1 504.6L804.4 504.1L804.6 504.4L804.9 505.5L805.2 507.5L805.4 508.8L805.7 509.2L806 508.6L806.2 506.9L806.5 504.6L806.8 503.5L807.1 503.5L807.3 504.5L807.6 506.3L807.9 507.9L808.1 508.6L808.4 508.6L808.7 508.1L808.9 507.2L809.2 506L809.5 505L809.8 504.2L810 504L810.3 504.5L810.6 505.8L810.8 507.7L811.1 508.8L811.4 508.9L811.6 508L811.9 506.3L812.2 504.8L812.5 504.4L812.7 504.8L813 505.7L813.3 506.8L813.5 507.2L813.8 507.1L814.1 506.8L814.3 506.4L814.6 506.2L814.9 506.3L815.2 506.5L815.4 506.7L815.7 506.8L816 506.7L816.2 506.2L816.5 505.6L816.8 505.2L817 505.4L817.3 506.1L817.6 507.2L817.9 507.8L818.1 507.6L818.4 506.5L818.7 505.2L818.9 504.9L819.2 505.5L819.5 507.1L819.7 508.1L820 508L820.3 506.7L820.6 504.7L820.8 503.8L821.1 504.2L821.4 505.9L821.6 508.2L821.9 509.1L822.2 508.8L822.4 507.4L822.7 505.5L823 504.6L823.3 504.5L823.5 504.9L823.8 505.5L824.1 505.9L824.3 506.6L824.6 507.4L824.9 508.1L825.1 508.4L825.4 508L825.7 506.5L826 504.8L826.2 503.9L826.5 504.1L826.8 505.3L827 507.1L827.3 508L827.6 508.1L827.8 507.5L828.1 506.7L828.4 506L828.7 505.8L828.9 505.6L829.2 505.6L829.5 505.6L829.7 506L830 506.7L830.3 507.2L830.5 507.2L830.8 506.6L831.1 505.7L831.4 505.3L831.6 505.8L831.9 506.9L832.2 507.6L832.4 507.4L832.7 506.3L833 505.1L833.2 504.9L833.5 505.7L833.8 507.2L834.1 507.9L834.3 507.5L834.6 505.8L834.9 504.6L835.1 504.5L835.4 505.9L835.7 508L835.9 508.8L836.2 508.3L836.5 506.2L836.8 504.3L837 503.8L837.3 504.7L837.6 506.8L837.8 508.1L838.1 508.2L838.4 507.2L838.6 505.8L838.9 505.4L839.2 505.9L839.5 506.9L839.7 507.2L840 506.6L840.3 505.4L840.5 505L840.8 505.4L841.1 506.7L841.3 507.6L841.6 507.6L841.9 506.8L842.2 505.7L842.4 505.3L842.7 505.9L843 507L843.2 507.5L843.5 507.2L843.8 506.1L844 505.1L844.3 504.8L844.6 505.2L844.9 506.2L845.1 507.3L845.4 507.8L845.7 507.8L845.9 507.6L846.2 506.9L846.5 505.7L846.7 504.8L847 504.2L847.3 504.5L847.6 505.7L847.8 507.7L848.1 508.8L848.4 508.7L848.6 507.4L848.9 505.2L849.2 504.2L849.4 504.4L849.7 505.8L850 507.6L850.3 508L850.5 507.3L850.8 505.6L851.1 504.8L851.3 505.2L851.6 506.8L851.9 507.9L852.1 508L852.4 506.9L852.7 505.2L853 504.6L853.2 505.2L853.5 506.9L853.8 508L854 507.9L854.3 506.6L854.6 505L854.8 504.5L855.1 505.2L855.4 507L855.7 508.2L855.9 508.2L856.2 507.1L856.5 505.3L856.7 504.5L857 504.7L857.3 505.9L857.5 507.4L857.8 507.9L858.1 507.5L858.4 506.4L858.6 505.3L858.9 505L859.2 505.4L859.4 506.4L859.7 507.4L860 507.8L860.2 507.5L860.5 506.6L860.8 505.4L861.1 504.8L861.3 504.9L861.6 505.7L861.9 507.1L862.1 507.9L862.4 507.9L862.7 507L862.9 505.5L863.2 504.9L863.5 505.2L863.8 506.5L864 507.7L864.3 507.9L864.6 507.1L864.8 505.4L865.1 504.4L865.4 504.5L865.6 505.6L865.9 507.5L866.2 508.5L866.5 508.4L866.7 507.4L867 505.6L867.3 504.7L867.5 504.6L867.8 505.1L868.1 506L868.3 506.9L868.6 507.3L868.9 507.3L869.2 507.3L869.4 507L869.7 506.6L870 505.9L870.2 505.4L870.5 505.3L870.8 505.7L871 506.6L871.3 507.2L871.6 507.4L871.9 507L872.1 506L872.4 505.3L872.7 505.1L872.9 505.5L873.2 506.6L873.5 507.7L873.7 508.2L874 508.1L874.3 507.1L874.6 505.4L874.8 504.1L875.1 503.7L875.4 504.2L875.6 505.8L875.9 508L876.2 509.3L876.4 509.4L876.7 508.3L877 506.3L877.3 504.5L877.5 503.8L877.8 504L878.1 504.9L878.3 506L878.6 507.1L878.9 507.6L879.1 508L879.4 508.2L879.7 508.1L880 507.4L880.2 505.9L880.5 504.6L880.8 503.9L881 504.1L881.3 505.2L881.6 506.9L881.8 508L882.1 508.3L882.4 507.9L882.7 507.2L882.9 506.5L883.2 506L883.5 505.7L883.7 505.4L884 505.1L884.3 505.1L884.5 505.7L884.8 506.8L885.1 507.6L885.4 507.8L885.6 507.3L885.9 506.4L886.2 505.7L886.4 505.6L886.7 506.1L887 506.7L887.2 506.7L887.5 506.3L887.8 505.8L888.1 505.8L888.3 506.1L888.6 506.6L888.9 506.7L889.1 506.2L889.4 505.8L889.7 505.9L889.9 506.8L890.2 507.8L890.5 508.2L890.8 507.6L891 505.8L891.3 504.3L891.6 503.6L891.8 504.1L892.1 505.6L892.4 507.7L892.6 508.8L892.9 508.9L893.2 508.3L893.5 507.2L893.7 505.7L894 504.6L894.3 504L894.5 503.9L894.8 504.5L895.1 506L895.3 507.9L895.6 509L895.9 509L896.2 508L896.4 506L896.7 504.7L897 504.4L897.2 505.1L897.5 506.1L897.8 506.7L898 506.4L898.3 505.8L898.6 505.7L898.9 506.6L899.1 507.7L899.4 508.2L899.7 507.8L899.9 506.5L900.2 505L900.5 504.6L900.7 505.1L901 506.1L901.3 507.1L901.6 507.1L901.8 506.4L902.1 505.8L902.4 505.9L902.6 506.8L902.9 507.4L903.2 507.5L903.4 506.9L903.7 505.9L904 505.5L904.3 505.7L904.5 506.2L904.8 506.4L905.1 505.8L905.3 505.1L905.6 505L905.9 505.8L906.1 507.6L906.4 508.9L906.7 509.1L907 508.1L907.2 505.8L907.5 504L907.8 503.4L908 503.9L908.3 505.1L908.6 506.8L908.8 507.8L909.1 508.3L909.4 508.4L909.7 508.2L909.9 507.7L910.2 506.6L910.5 505L910.7 504L911 503.7L911.3 504.3L911.5 505.7L911.8 507.5L912.1 508.4L912.4 508.6L912.6 508.2L912.9 507.4L913.2 506.3L913.4 505.3L913.7 504.6L914 504.4L914.2 504.7L914.5 505.8L914.8 507.3L915.1 508.1L915.3 507.9L915.6 506.9L915.9 505.4L916.1 505L916.4 505.8L916.7 507.6L916.9 508.5L917.2 508.1L917.5 505.9L917.8 503.8L918 502.9L918.3 503.7L918.6 506.2L918.8 509L919.1 510L919.4 509.4L919.6 507.4L919.9 504.8L920.2 503.8L920.5 504L920.7 505.1L921 506.5L921.3 507.1L921.5 507L921.8 506.7L922.1 506.6L922.3 506.9L922.6 507.1L922.9 507.1L923.2 506.8L923.4 506.3L923.7 505.8L924 505.7L924.2 505.6L924.5 505.5L924.8 505.5L925 505.7L925.3 506.4L925.6 507.2L925.9 507.7L926.1 507.9L926.4 507.6L926.7 506.9L926.9 505.9L927.2 505.2L927.5 504.7L927.7 504.5L928 504.7L928.3 505.6L928.6 507.4L928.8 508.8L929.1 509.4L929.4 508.8L929.6 506.8L929.9 504.2L930.2 503L930.4 503.4L930.7 505.2L931 508.1L931.3 509.3L931.5 508.9L931.8 507.1L932.1 504.7L932.3 503.9L932.6 504.5L932.9 506.4L933.1 508.1L933.4 508.5L933.7 507.8L934 506.2L934.2 505L934.5 504.6L934.8 504.9L935 505.5L935.3 506.3L935.6 507.1L935.8 507.6L936.1 508L936.4 508L936.7 507.3L936.9 505.8L937.2 504.6L937.5 504L937.7 504.4L938 505.7L938.3 507.5L938.5 508.4L938.8 508.3L939.1 507.5L939.4 506.1L939.6 505.2L939.9 505L940.2 505.3L940.4 505.9L940.7 506.8L941 507.3L941.3 507.4L941.5 507L941.8 505.9L942.1 505.1L942.3 504.8L942.6 505.4L942.9 507L943.1 508.4L943.4 508.8L943.7 508.1L944 505.8L944.2 504L944.5 503.3L944.8 504L945 506L945.3 508.2L945.6 509L945.8 508.6L946.1 507.4L946.4 505.7L946.7 505L946.9 505L947.2 505.3L947.5 505.6L947.7 505.8L948 506.2L948.3 506.9L948.5 507.6L948.8 507.9L949.1 507.4L949.4 506.1L949.6 505L949.9 504.7L950.2 505.3L950.4 506.8L950.7 507.8L951 507.8L951.2 506.9L951.5 505.3L951.8 504.7L952.1 504.9L952.3 506L952.6 507.4L952.9 508.1L953.1 507.9L953.4 507.2L953.7 506L953.9 505.2L954.2 504.8L954.5 504.8L954.8 505.3L955 506.4L955.3 507.5L955.6 508.1L955.8 508.1L956.1 507.3L956.4 505.8L956.6 504.9L956.9 504.7L957.2 505.4L957.5 506.5L957.7 507.1L958 507L958.3 506.3L958.5 505.9L958.8 506.2L959.1 507.1L959.3 507.6L959.6 507.5L959.9 506.3L960.2 505L960.4 504.4L960.7 504.8L961 506.2L961.2 507.8L961.5 508.3L961.8 507.8L962 506.6L962.3 505.3L962.6 504.9L962.9 505.3L963.1 506.1L963.4 506.9L963.7 507.2L963.9 507L964.2 506.7L964.5 506.3L964.7 506L965 505.9L965.3 505.8L965.6 506L965.8 506.4L966.1 506.9L966.4 507.1L966.6 506.9L966.9 506.3L967.2 505.7L967.4 505.5L967.7 505.9L968 506.6L968.3 507L968.5 506.9L968.8 506.4L969.1 505.9L969.3 505.9L969.6 506.3L969.9 506.9L970.1 507L970.4 506.5L970.7 505.8L971 505.5L971.2 505.7L971.5 506.5L971.8 507.2L972 507.3L972.3 506.9L972.6 506.1L972.8 505.6L973.1 505.7L973.4 506L973.7 506.4L973.9 506.5L974.2 506.4L974.5 506.6L974.7 506.9L975 507.2L975.3 507.1L975.5 506.3L975.8 505.3L976.1 504.8L976.4 505L976.6 506.1L976.9 507.6L977.2 508.2L977.4 508L977.7 507L978 505.4L978.2 504.7L978.5 504.8L978.8 505.5L979.1 506.5L979.3 507.2L979.6 507.4L979.9 507.3L980.1 507L980.4 506.6L980.7 506.1L980.9 505.7L981.2 505.5L981.5 505.6L981.8 505.9L982 506.4L982.3 506.7L982.6 506.8L982.8 506.8L983.1 506.8L983.4 506.9L983.6 506.9L983.9 506.5L984.2 505.7L984.5 505L984.7 504.9L985 505.6L985.3 507.1L985.5 508.1L985.8 508.2L986.1 507.2L986.3 505.3L986.6 504.4L986.9 504.7L987.2 506.1L987.4 507.8L987.7 508.3L988 507.5L988.2 505.6L988.5 504.4L988.8 504.4L989 505.7L989.3 507.7L989.6 508.6L989.9 508.2L990.1 506.7L990.4 504.8L990.7 504.1L990.9 504.6L991.2 506L991.5 507.6L991.7 508.2L992 507.9L992.3 507L992.6 505.6L992.8 505L993.1 504.9L993.4 505.4L993.6 506.5L993.9 507.5L994.2 507.9L994.4 507.7L994.7 506.6L995 505.1L995.3 504.5L995.5 504.8L995.8 506L996.1 507.7L996.3 508.4L996.6 508L996.9 506.6L997.1 504.9L997.4 504.4L997.7 504.9L998 506.2L998.2 507.5L998.5 507.7L998.8 507.2L999 506.3L999.3 505.9L999.6 506.1L999.8 506.6L1000.1 506.5L1000.4 505.8L1000.7 505.3L1000.9 505.4L1001.2 506.2L1001.5 507.4L1001.7 507.9L1002 507.5L1002.3 506.2L1002.5 505L1002.8 504.8L1003.1 505.5L1003.4 506.9L1003.6 507.6L1003.9 507.4L1004.2 506.5L1004.4 505.5L1004.7 505.4L1005 506L1005.2 506.9L1005.5 507.2L1005.8 506.9L1006.1 506L1006.3 505.7L1006.6 505.9L1006.9 506.5L1007.1 506.9L1007.4 506.6L1007.7 505.9L1007.9 505.6L1008.2 505.9L1008.5 506.9L1008.8 507.5L1009 507.4L1009.3 506.6L1009.6 505.3L1009.8 504.9L1010.1 505.2L1010.4 506.4L1010.6 507.5L1010.9 507.8L1011.2 507.3L1011.5 506.2L1011.7 505.4L1012 505.3L1012.3 505.6L1012.5 506.2L1012.8 506.8L1013.1 507L1013.3 507.1L1013.6 507L1013.9 506.8L1014.2 506L1014.4 505.3L1014.7 505L1015 505.3L1015.2 506.6L1015.5 507.8L1015.8 508.2L1016 507.6L1016.3 505.9L1016.6 504.7L1016.9 504.4L1017.1 505.3L1017.4 507.1L1017.7 508L1017.9 507.8L1018.2 506.7L1018.5 505.3L1018.7 504.9L1019 505.6L1019.3 507L1019.6 507.7L1019.8 507.4L1020.1 506.2L1020.4 505.3L1020.6 505.2L1020.9 506L1021.2 507L1021.4 507.3L1021.7 506.8L1022 505.7L1022.3 505.3L1022.5 505.8L1022.8 507L1023.1 507.7L1023.3 507.7L1023.6 506.7L1023.9 505.3L1024.1 504.5L1024.4 504.4L1024.7 505.4L1025 507.4L1025.2 508.7L1025.5 509.1L1025.8 508.7L1026 507.9L1026.3 506.7L1026.6 504.7L1026.8 503L1027.1 501.8L1027.4 502.3L1027.7 504.5L1027.9 508.4L1028.2 510.6L1028.5 510.8L1028.7 509.2L1029 506.8L1029.3 505.1L1029.5 505.2L1029.8 505.9L1030.1 505.4L1030.4 503.6L1030.6 502.1L1030.9 502.3L1031.2 505.1L1031.4 510.1L1031.7 512.9L1032 512.9L1032.2 509.7L1032.5 504.1L1032.8 500.9L1033.1 500.7L1033.3 502.8L1033.6 505.8L1033.9 508L1034.1 508.1L1034.4 507.7L1034.7 508.1L1034.9 509.1L1035.2 509.6L1035.5 508.3L1035.8 504.7L1036 502.1L1036.3 501.7L1036.6 503.9L1036.8 508.3L1037.1 510.5L1037.4 509.8L1037.6 506.1L1037.9 502.7L1038.2 502.3L1038.5 505L1038.7 509.7L1039 511.8L1039.3 510.9L1039.5 506.9L1039.8 502.3L1040.1 500.8L1040.3 502.1L1040.6 505.1L1040.9 508.2L1041.2 509L1041.4 508.3L1041.7 507.6L1042 508L1042.2 509.1L1042.5 509.3L1042.8 507.8L1043 504.1L1043.3 501.4L1043.6 500.5L1043.9 501.9L1044.1 505.4L1044.4 509.8L1044.7 512L1044.9 512.3L1045.2 511L1045.5 508.3L1045.7 504.1L1046 501.2L1046.3 499.8L1046.6 500.6L1046.8 503.9L1047.1 509.4L1047.4 512.6L1047.6 512.9L1047.9 510L1048.2 504.4L1048.4 501.1L1048.7 501.3L1049 504.7L1049.3 509.7L1049.5 511.4L1049.8 509.6L1050.1 504.5L1050.3 501L1050.6 500.6L1050.9 503.5L1051.1 508.9L1051.4 512L1051.7 512.2L1052 510L1052.2 506.3L1052.5 503.4L1052.8 502.4L1053 502.3L1053.3 502.8L1053.6 503.8L1053.8 506L1054.1 509.5L1054.4 511.9L1054.7 512.5L1054.9 510.2L1055.2 504.6L1055.5 500.3L1055.7 499.1L1056 501.5L1056.3 507.6L1056.5 512.2L1056.8 513.2L1057.1 510.6L1057.4 504.8L1057.6 500.8L1057.9 500.2L1058.2 502.6L1058.4 507.6L1058.7 511.1L1059 512L1059.2 510.8L1059.5 507.9L1059.8 504.1L1060.1 501.8L1060.3 501L1060.6 501.7L1060.9 504L1061.1 508L1061.4 511L1061.7 512.4L1061.9 511.7L1062.2 509.1L1062.5 504.9L1062.8 502L1063 500.9L1063.3 501.3L1063.6 502.8L1063.8 505.4L1064.1 508.9L1064.4 511.4L1064.6 512.6L1064.9 511.9L1065.2 508.6L1065.5 502.8L1065.7 499.2L1066 498.9L1066.3 502.3L1066.5 509.2L1066.8 513.5L1067.1 513.7L1067.3 509.5L1067.6 502.1L1067.9 498.5L1068.2 499.5L1068.4 505.2L1068.7 512.6L1069 515.5L1069.2 513.7L1069.5 507.3L1069.8 499.8L1070 496.8L1070.3 498.1L1070.6 503L1070.9 510.2L1071.1 513.9L1071.4 514.4L1071.7 512.3L1071.9 508.4L1072.2 503.4L1072.5 500.5L1072.7 499.6L1073 500.7L1073.3 503.8L1073.6 508.6L1073.8 511.5L1074.1 512L1074.4 510.4L1074.6 507.2L1074.9 504.1L1075.2 503.5L1075.4 504.4L1075.7 505.7L1076 506.2L1076.3 505.3L1076.5 504.5L1076.8 504.7L1077.1 506.4L1077.3 508.4L1077.6 509.2L1077.9 508.5L1078.1 507.1L1078.4 505.9L1078.7 506.3L1079 507.2L1079.2 506.7L1079.5 504.4L1079.8 502.2L1080 501.5L1080.3 503.5L1080.6 508.5L1080.8 512.3L1081.1 513.3L1081.4 511L1081.7 505.6L1081.9 501.5L1082.2 500.6L1082.5 502.3L1082.7 505.2L1083 507.5L1083.3 507.4L1083.5 506.8L1083.8 507.6L1084.1 509.7L1084.4 511.3L1084.6 510.6L1084.9 506.2L1085.2 500.9L1085.4 498.5L1085.7 500.1L1086 505.9L1086.2 512.3L1086.5 514.3L1086.8 511.7L1087.1 505L1087.3 500.3L1087.6 499.9L1087.9 503.6L1088.1 509.8L1088.4 512.5L1088.7 511.4L1088.9 507.1L1089.2 502.2L1089.5 500.7L1089.8 501.9L1090 504.8L1090.3 508.4L1090.6 510.2L1090.8 510.9L1091.1 511L1091.4 510.1L1091.6 507.6L1091.9 502.6L1092.2 498.9L1092.5 497.5L1092.7 500.1L1093 507.6L1093.3 514.2L1093.5 516.5L1093.8 514.1L1094.1 507.9L1094.3 501.7L1094.6 500.8L1094.9 503.1L1095.2 505.7L1095.4 505.1L1095.7 502.2L1096 500.7L1096.2 503.2L1096.5 510.7L1096.8 516.2L1097 516.7L1097.3 511.3L1097.6 501.1L1097.9 496L1098.1 497.2L1098.4 504.2L1098.7 512.3L1098.9 513.3L1099.2 507.8L1099.5 499.9L1099.7 498.2L1100 504.2L1100.3 515.1L1100.6 520.4L1100.8 517.5L1101.1 505L1101.4 492.8L1101.6 488.5L1101.9 493.5L1102.2 507.3L1102.4 519.3L1102.7 522.7L1103 518.1L1103.3 508L1103.5 498.3L1103.8 495.9L1104.1 498.1L1104.3 502.3L1104.6 506.4L1104.9 508.9L1105.1 510.8L1105.4 512.8L1105.7 513.5L1106 511.1L1106.2 503.7L1106.5 497.4L1106.8 495.3L1107 499L1107.3 509.1L1107.6 516.8L1107.8 518.5L1108.1 513.9L1108.4 504L1108.7 497.7L1108.9 497L1109.2 500.6L1109.5 505.6L1109.7 508.5L1110 507.9L1110.3 507.7L1110.5 510.3L1110.8 514.1L1111.1 515.6L1111.4 511.9L1111.6 501.6L1111.9 493.6L1112.2 487.6L1112.4 472.3L1112.7 487.6L1113 511.4L1113.2 525L1113.5 540.3L1113.8 525L1114.1 511.4L1114.3 500.6L1114.6 506L1114.9 509.6L1115.1 505.7L1115.4 498.7L1115.7 494.8L1115.9 497.6L1116.2 509L1116.5 519.7L1116.8 523.9L1117 520L1117.3 509L1117.6 496.1L1117.8 491.1L1118.1 492.5L1118.4 498.2L1118.6 505.4L1118.9 511.7L1119.2 514.8L1119.5 516.8L1119.7 516.9L1120 513.7L1120.3 504.9L1120.5 496L1120.8 491.9L1121.1 494.6L1121.3 504.8L1121.6 517.3L1121.9 521.8L1122.2 517.5L1122.4 504.1L1122.7 492.9L1123 489.9L1123.2 496L1123.5 510.5L1123.8 521L1124 523.7L1124.3 518.9L1124.6 508.2L1124.9 496.5L1125.1 491.2L1125.4 490.7L1125.7 494.4L1125.9 501.8L1126.2 513.3L1126.5 521.6L1126.7 525.7L1127 523.3L1127.3 513.5L1127.6 496.6L1127.8 486.3L1128.1 484.4L1128.4 491.9L1128.6 507.9L1128.9 520.9L1129.2 524.6L1129.4 519.8L1129.7 509.4L1130 498.7L1130.3 496.3L1130.5 499.9L1130.8 507.3L1131.1 511.8L1131.3 511.2L1131.6 506.3L1131.9 500.8L1132.1 498.1L1132.4 498.7L1132.7 502.4L1133 510L1133.2 516.3L1133.5 520L1133.8 519.5L1134 513.4L1134.3 500.5L1134.6 490.8L1134.8 486.8L1135.1 490.5L1135.4 501.6L1135.7 516.9L1135.9 524.2L1136.2 524L1136.5 517.3L1136.7 506.5L1137 497.9L1137.3 495.3L1137.5 510.1L1137.8 520.1L1138.1 531.3L1138.4 520.1L1138.6 510.3L1138.9 502.4L1139.2 492L1139.4 480.3L1139.7 492L1140 501.4L1140.2 498.6L1140.5 500.4L1140.8 505.5L1141.1 509.6L1141.3 508.2L1141.6 502.5L1141.9 499.4L1142.1 501.2L1142.4 509.6L1142.7 516.7L1142.9 518.7L1143.2 514L1143.5 502.5L1143.8 494.5L1144 493.3L1144.3 498.7L1144.6 509.5L1144.8 515.9L1145.1 516.2L1145.4 511.6L1145.6 504.1L1145.9 500.4L1146.2 500.4L1146.5 502.6L1146.7 505.5L1147 508.5L1147.3 510.6L1147.5 512.4L1147.8 512.6L1148.1 509.6L1148.3 502.2L1148.6 496.4L1148.9 494.7L1149.2 498.9L1149.4 509.6L1149.7 517.9L1150 520.1L1150.2 515.7L1150.5 506L1150.8 498.4L1151 497L1151.3 500.1L1151.6 504.3L1151.9 506.2L1152.1 504.7L1152.4 504.6L1152.7 509.2L1152.9 514.6L1153.2 516.8L1153.5 512.2L1153.7 499.3L1154 490.2L1154.3 489.7L1154.6 500.5L1154.8 520.3L1155.1 531.4L1155.4 530.2L1155.6 515.8L1155.9 492L1156.2 480.1L1156.4 481.5L1156.7 494.8L1157 515L1157.3 523.6L1157.5 520.1L1157.8 506.9L1158.1 494.3L1158.3 492L1158.6 499.2L1158.9 513.8L1159.1 523.1L1159.4 526.1L1159.7 523.4L1160 517L1160.2 508.2L1160.5 498L1160.8 491.1L1161 486.7L1161.3 486L1161.6 489.7L1161.8 497L1162.1 506.4L1162.4 512.8L1162.7 514.9L1162.9 515.8L1163.2 518.5L1163.5 523L1163.7 526.5L1164 525.4L1164.3 517.6L1164.5 501.5L1164.8 489L1165.1 483.5L1165.4 485.2L1165.6 492.1L1165.9 500.9L1166.2 508.8L1166.4 511.6L1166.7 512.2L1167 512.9L1167.2 513.7L1167.5 513L1167.8 509.5L1168.1 499.4L1168.3 481L1168.6 460.3L1168.9 481L1169.1 499.4L1169.4 522.1L1169.7 526.7L1169.9 543.3L1170.2 526.7L1170.5 511.9L1170.8 493.5L1171 490.1L1171.3 487.5L1171.6 485.9L1171.8 487L1172.1 492.8L1172.4 505.3L1172.6 520.8L1172.9 530.4L1173.2 533.8L1173.5 530.8L1173.7 523.6L1174 515.1L1174.3 507.4L1174.5 501L1174.8 496.5L1175.1 491.5L1175.3 486.8L1175.6 484.4L1175.9 486.3L1176.2 492.6L1176.4 502L1176.7 512.4L1177 517.1L1177.2 518.5L1177.5 518.8L1177.8 519.6L1178 521L1178.3 521.5L1178.6 519.7L1178.9 514.9L1179.1 506.8L1179.4 497.8L1179.7 491.8L1179.9 487.9L1180.2 486.4L1180.5 488L1180.7 493.3L1181 502.8L1181.3 515.4L1181.6 522.7L1181.8 524.8L1182.1 521.6L1182.4 514.4L1182.6 504.5L1182.9 498.4L1183.2 496.6L1183.4 497.7L1183.7 501.1L1184 507.5L1184.3 514.6L1184.5 520.8L1184.8 524.3L1185.1 522.5L1185.3 513.2L1185.6 495.1L1185.9 481.3L1186.1 473.9L1186.4 475.1L1186.7 484.9L1187 501.7L1187.2 521.6L1187.5 533.3L1187.8 539.3L1188 540L1188.3 535.5L1188.6 525.1L1188.8 507L1189.1 486.5L1189.4 473.4L1189.7 468.8L1189.9 473.8L1190.2 487.2L1190.5 507.2L1190.7 523.1L1191 529.8L1191.3 530.2L1191.5 526.8L1191.8 521.4L1192.1 514.1L1192.4 502.3L1192.6 491.7L1192.9 484.1L1193.2 482.2L1193.4 488.2L1193.7 502.7L1194 521.9L1194.2 532.7L1194.5 535.1L1194.8 528.9L1195.1 515.5L1195.3 496.2L1195.6 484.1L1195.9 478.3L1196.1 479.2L1196.4 486.6L1196.7 499.5L1196.9 516.7L1197.2 526.2L1197.5 528.3L1197.8 523.8L1198 515L1198.3 505.1L1198.6 501.5L1198.8 503.9L1199.1 509.1L1199.4 510.8L1199.6 508.7L1199.9 504.1L1200.2 502.3L1200.5 498.5L1200.7 477.7L1201 454.3L1201.3 477.7L1201.5 483.6L1201.8 483L1202.1 492.6L1202.4 515.4L1202.6 534.2L1202.9 543.6L1203.2 541.4L1203.4 568.3L1203.7 540.4L1204 515.6L1204.2 487.7L1204.5 485.7L1204.8 484.2L1205.1 482L1205.3 481.7L1205.6 487.7L1205.9 503.5L1206.1 525.4L1206.4 538.8L1206.7 541.7L1206.9 533L1207.2 515.1L1207.5 492.4L1207.8 481.7L1208 480.3L1208.3 486.3L1208.6 496.8L1208.8 511.5L1209.1 521.9L1209.4 528.2L1209.6 529.2L1209.9 523.4L1210.2 509.4L1210.5 490.5L1210.7 479.2L1211 476.8L1211.3 483.9L1211.5 499.1L1211.8 518.6L1212.1 528.8L1212.3 531.5L1212.6 528.4L1212.9 521.6L1213.2 512.5L1213.4 500L1213.7 490.9L1214 485.3L1214.2 485L1214.5 491.1L1214.8 503.4L1215 517.7L1215.3 524L1215.6 523.3L1215.9 517.3L1216.1 509.4L1216.4 502.7L1216.7 500.4L1216.9 498.3L1217.2 494.2L1217.5 489.6L1217.7 488.9L1218 496.2L1218.3 515L1218.6 531.3L1218.8 539.7L1219.1 536.4L1219.4 521.4L1219.6 496L1219.9 480L1220.2 474.7L1220.4 478.7L1220.7 488.3L1221 500L1221.3 513.1L1221.5 521.7L1221.8 528.1L1222.1 531L1222.3 527.5L1222.6 515.7L1222.9 495.2L1223.1 482.5L1223.4 480.4L1223.7 490.4L1224 512.1L1224.2 527.7L1224.5 531.6L1224.8 523.7L1225 506.8L1225.3 491.7L1225.6 487.6L1225.8 491.5L1226.1 498.6L1226.4 503.3L1226.7 502.2L1226.9 498.7L1227.2 498.2L1227.5 504.4L1227.7 516.7L1228 526.2L1228.3 531.1L1228.5 499.1L1228.8 479.9L1229.1 458.3L1229.4 479.9L1229.6 487L1229.9 483.3L1230.2 484.6L1230.4 490.1L1230.7 497.9L1231 504.6L1231.2 506.2L1231.5 502.1L1231.8 499.1L1232.1 502.2L1232.3 515.5L1232.6 530L1232.9 541.5L1233.1 545.6L1233.4 540.7L1233.7 528L1233.9 509.7L1234.2 488.9L1234.5 473.4L1234.8 458.7L1235 445.6L1235.3 438.8L1235.6 445.4L1235.8 471.5L1236.1 526.4L1236.4 574.9L1236.6 607.2L1236.9 615.9L1237.2 598.1L1237.5 557.2L1237.7 574.3L1238 543.8L1238.3 516.5L1238.5 406.9L1238.8 414.5L1239.1 435.3L1239.3 467L1239.6 514.2L1239.9 554.4L1240.2 582.6L1240.4 598.1L1240.7 597.2L1241 579.3L1241.2 546.9L1241.5 498.5L1241.8 461.2L1242 441.2L1242.3 436.6L1242.6 443.9L1242.9 457.1L1243.1 469L1243.4 475.1L1243.7 529.1L1243.9 589.9L1244.2 658.3L1244.5 589.9L1244.7 572.7L1245 602.3L1245.3 615.5L1245.6 476.9L1245.8 398.5L1246.1 310.3L1246.4 398.5L1246.6 422.8L1246.9 401.6L1247.2 530.5L1247.4 594.9L1247.7 667.3L1248 594.9L1248.3 530.5L1248.5 564.4L1248.8 594.9L1249.1 610.6L1249.3 485.2L1249.6 428.8L1249.9 365.3L1250.1 428.8L1250.4 458L1250.7 422.9L1251 524L1251.2 571.2L1251.5 624.3L1251.8 571.2L1252 529.2L1252.3 544L1252.6 541.9L1252.8 533.2L1253.1 528.8L1253.4 532.8L1253.7 539.8L1253.9 540.7L1254.2 530.3L1254.5 508.2L1254.7 484.9L1255 475.4L1255.3 477.4L1255.5 486.4L1255.8 495.6L1256.1 499.6L1256.4 497.8L1256.6 495L1256.9 495.7L1257.2 500.9L1257.4 510.4L1257.7 517.7L1258 524.3L1258.2 531.7L1258.5 539.2L1258.8 542.6L1259.1 536.3L1259.3 515.5L1259.6 481.3L1259.9 458.8L1260.1 451.6L1260.4 462.1L1260.7 486.4L1260.9 518.5L1261.2 533.5L1261.5 534.8L1261.8 530.1L1262 527.4L1262.3 529.1L1262.6 529.5L1262.8 520.1L1263.1 492.7L1263.4 456.3L1263.6 415.3L1263.9 456.3L1264.2 492.5L1264.5 528.5L1264.7 546.3L1265 547.9L1265.3 537.8L1265.5 523.7L1265.8 526.1L1266.1 578.9L1266.3 638.3L1266.6 578.9L1266.9 526.1L1267.2 459.4L1267.4 483.7L1267.7 488L1268 439.2L1268.2 384.3L1268.5 439.2L1268.8 488L1269 489.6L1269.3 488.6L1269.6 519.8L1269.9 555.9L1270.1 596.3L1270.4 555.9L1270.7 519.8L1270.9 477.9L1271.2 480.1L1271.5 486.6L1271.7 488.3L1272 483L1272.3 478.9L1272.6 487.8L1272.8 520.3L1273.1 553L1273.4 573.2L1273.6 572.1L1273.9 548.4L1274.2 506.8L1274.4 471.4L1274.7 459.9L1275 432.3L1275.3 465.6L1275.5 482.5L1275.8 482.4L1276.1 481.3L1276.3 487.9L1276.6 509.8L1276.9 533.7L1277.1 548.7L1277.4 551.8L1277.7 543.9L1278 530.3L1278.2 516.5L1278.5 502.8L1278.8 492.9L1279 483.4L1279.3 475.2L1279.6 472.2L1279.8 477.3L1280.1 489.8L1280.4 505.4L1280.7 514.8L1280.9 513.6L1281.2 509.5L1281.5 512.5L1281.7 524.1L1282 537L1282.3 542.5L1282.5 543.8L1282.8 574.3L1283.1 543.8L1283.4 516.5L1283.6 476.4L1283.9 488.6L1284.2 502.4L1284.4 509L1284.7 502.8L1285 497L1285.2 498.7L1285.5 511.5L1285.8 523.6L1286.1 528.8L1286.3 525L1286.6 514.7L1286.9 502.3L1287.1 498.3L1287.4 499.6L1287.7 500.5L1287.9 496.5L1288.2 490L1288.5 487.3L1288.8 493.4L1289 512.3L1289.3 529.6L1289.6 500.3L1289.8 484.3L1290.1 466.3L1290.4 484.3L1290.6 484.6L1290.9 479.6L1291.2 481.1L1291.5 485.7L1291.7 491L1292 497.6L1292.3 509.6L1292.5 522.1L1292.8 532.8L1293.1 554.3L1293.3 536.2L1293.6 527.1L1293.9 512.4L1294.2 494.8L1294.4 484.9L1294.7 479.9L1295 478.7L1295.2 481.2L1295.5 487.7L1295.8 499.2L1296 516.3L1296.3 527.6L1296.6 532.5L1296.9 530.2L1297.1 522" fill="none" stroke="#000" stroke-width="1.0" stroke-linejoin="round"/>
<path d="M325.4 506.3L1020.1 506.4L1020.6 506.4L1021.2 506.3L1021.7 506.3L1022.3 506.3L1022.8 506.4L1023.3 506.4L1023.9 506.4L1024.4 506.5L1025 506.5L1025.5 506.4L1026 506.2L1026.6 505.9L1027.1 505.8L1027.7 505.9L1028.2 506.2L1028.7 506.6L1029.3 507.1L1029.8 507.3L1030.4 507.1L1030.9 506.7L1031.4 506.2L1032 505.7L1032.5 505.5L1033.1 505.6L1033.6 506L1034.1 506.5L1034.7 506.8L1035.2 506.9L1035.8 506.8L1036.3 506.5L1036.8 506.2L1037.4 506L1037.9 506L1038.5 506.2L1039 506.4L1039.5 506.6L1040.1 506.7L1040.6 506.6L1041.2 506.4L1041.7 506.1L1042.2 505.9L1042.8 505.9L1043.3 506L1043.9 506.3L1044.4 506.6L1044.9 506.8L1045.5 506.9L1046 506.8L1046.6 506.5L1047.1 506.3L1047.6 506.1L1048.2 506L1048.7 506L1049.3 506.1L1049.8 506.2L1050.3 506.3L1050.9 506.4L1051.4 506.4L1052 506.5L1052.5 506.5L1053 506.6L1053.6 506.7L1054.1 506.7L1054.7 506.6L1055.2 506.4L1055.7 506.1L1056.3 505.7L1056.8 505.5L1057.4 505.5L1057.9 505.7L1058.4 506.3L1059 507L1059.5 507.5L1060.1 507.8L1060.6 507.6L1061.1 507L1061.7 506.1L1062.2 505.2L1062.8 504.6L1063.3 504.6L1063.8 505.2L1064.4 506.2L1064.9 507.2L1065.5 507.9L1066 508.1L1066.5 507.7L1067.1 506.9L1067.6 506L1068.2 505.3L1068.7 505L1069.2 505.2L1069.8 505.7L1070.3 506.3L1070.9 506.8L1071.4 506.9L1071.9 506.8L1072.5 506.6L1073 506.4L1073.6 506.5L1074.1 506.7L1074.6 506.9L1075.2 506.9L1075.7 506.6L1076.3 506L1076.8 505.4L1077.3 505L1077.9 505.1L1078.4 505.7L1079 506.7L1079.5 507.7L1080 508.2L1080.6 508.1L1081.1 507.3L1081.7 506.1L1082.2 504.9L1082.7 504.4L1083.3 504.6L1083.8 505.5L1084.4 506.8L1084.9 507.8L1085.4 508.1L1086 507.6L1086.5 506.6L1087.1 505.5L1087.6 504.8L1088.1 504.9L1088.7 505.7L1089.2 506.8L1089.8 507.8L1090.3 508.2L1090.8 507.7L1091.4 506.5L1091.9 505L1092.5 504L1093 503.9L1093.5 504.9L1094.1 506.6L1094.6 508.3L1095.2 509.2L1095.7 509L1096.2 507.7L1096.8 505.9L1097.3 504.4L1097.9 503.7L1098.4 504.3L1098.9 505.6L1099.5 507.1L1100 507.9L1100.6 507.8L1101.1 506.8L1101.6 505.6L1102.2 504.9L1102.7 505.3L1103.3 506.6L1103.8 508.3L1104.3 509.4L1104.9 509.2L1105.4 507.3L1106 504.6L1106.5 502L1107 500.8L1107.6 501.8L1108.1 504.9L1108.7 508.8L1109.2 512.2L1109.7 513.6L1110.3 512.2L1110.8 508.6L1111.4 504.1L1111.9 500.4L1112.4 499.1L1113 500.6L1113.5 503.9L1114.1 507.7L1114.6 510.4L1115.1 511.2L1115.7 510.1L1116.2 507.9L1116.8 505.6L1117.3 504.3L1117.8 504.3L1118.4 505.2L1118.9 506.3L1119.5 507L1120 506.9L1120.5 506.1L1121.1 505.2L1121.6 504.8L1122.2 505.2L1122.7 506.4L1123.2 507.9L1123.8 508.8L1124.3 508.8L1124.9 507.8L1125.4 506.1L1125.9 504.4L1126.5 503.3L1127 503.4L1127.6 504.6L1128.1 506.6L1128.6 508.4L1129.2 509.4L1129.7 509.1L1130.3 507.8L1130.8 505.9L1131.3 504.4L1131.9 503.8L1132.4 504.4L1133 505.8L1133.5 507.3L1134 508.3L1134.6 508.3L1135.1 507.3L1135.7 505.9L1136.2 504.6L1136.7 504.2L1137.3 504.9L1137.8 506.2L1138.4 507.7L1138.9 508.6L1139.4 508.6L1140 507.6L1140.5 506.1L1141.1 504.8L1141.6 504L1142.1 504.3L1142.7 505.3L1143.2 506.5L1143.8 507.5L1144.3 507.9L1144.8 507.6L1145.4 506.9L1145.9 506.2L1146.5 506L1147 506.1L1147.5 506.5L1148.1 506.8L1148.6 506.7L1149.2 506.1L1149.7 505.2L1150.2 504.5L1150.8 504.4L1151.3 505.2L1151.9 506.7L1152.4 508.3L1152.9 509.5L1153.5 509.6L1154 508.5L1154.6 506.6L1155.1 504.5L1155.6 502.9L1156.2 502.5L1156.7 503.3L1157.3 505.2L1157.8 507.3L1158.3 509L1158.9 509.8L1159.4 509.5L1160 508.3L1160.5 506.8L1161 504.7L1161.6 502.6L1162.1 501.4L1162.7 501.3L1163.2 502.3L1163.7 504.1L1164.3 506.4L1164.8 508.9L1165.4 511.5L1165.9 513.8L1166.4 514.6L1167 513.6L1167.5 510.6L1168.1 506L1168.6 500.9L1169.1 497L1169.7 495.6L1170.2 497.4L1170.8 502L1171.3 507.9L1171.8 513.2L1172.4 516.1L1172.9 515.9L1173.5 512.8L1174 508.2L1174.5 503.6L1175.1 500.6L1175.6 499.8L1176.2 501L1176.7 503.4L1177.2 505.8L1177.8 507.5L1178.3 508.3L1178.9 508.4L1179.4 508.2L1179.9 508.1L1180.5 508.1L1181 507.9L1181.6 507.3L1182.1 506.3L1182.6 505.1L1183.2 504.2L1183.7 504L1184.3 504.7L1184.8 505.9L1185.3 507L1185.9 507.4L1186.4 506.9L1187 505.8L1187.5 504.8L1188 504.7L1188.6 506.1L1189.1 508.5L1189.7 511L1190.2 512.2L1190.7 511.1L1191.3 507.6L1191.8 502.7L1192.4 498.3L1192.9 496.1L1193.4 497.6L1194 502.4L1194.5 508.6L1195.1 514.1L1195.6 517L1196.1 516.2L1196.7 512.4L1197.2 507L1197.8 502L1198.3 499L1198.8 498.6L1199.4 500.5L1199.9 503.5L1200.5 506.6L1201 508.9L1201.5 510.2L1202.1 510.5L1202.6 510.1L1203.2 509.6L1203.7 508.8L1204.2 507.7L1204.8 506L1205.3 503.7L1205.9 501.3L1206.4 499.6L1206.9 499.5L1207.5 501.7L1208 505.9L1208.6 510.9L1209.1 515.1L1209.6 516.8L1210.2 515.1L1210.7 510.3L1211.3 504.1L1211.8 498.4L1212.3 495.4L1212.9 496L1213.4 500L1214 505.9L1214.5 511.5L1215 514.9L1215.6 515.1L1216.1 512.5L1216.7 508.4L1217.2 504.4L1217.7 502L1218.3 501.6L1218.8 502.8L1219.4 504.7L1219.9 506.1L1220.4 506.7L1221 506.4L1221.5 506L1222.1 506.1L1222.6 507.1L1223.1 508.6L1223.7 509.9L1224.2 510.1L1224.8 508.8L1225.3 506.2L1225.8 503.2L1226.4 501.2L1226.9 501.1L1227.5 502.9L1228 506.1L1228.5 509.3L1229.1 511.2L1229.6 510.9L1230.2 508.8L1230.7 505.8L1231.2 503.4L1231.8 502.6L1232.3 503.8L1232.9 506.4L1233.4 509.4L1233.9 511.1L1234.5 510.3L1235 507L1235.6 502.4L1236.1 498.8L1236.6 497.9L1237.2 500.8L1237.7 506.8L1238.3 513.4L1238.8 518.2L1239.3 518.8L1239.9 514.8L1240.4 507.5L1241 500L1241.5 495L1242 494.1L1242.6 497L1243.1 502.2L1243.7 507.7L1244.2 511.7L1244.7 513.5L1245.3 513.4L1245.8 512.4L1246.4 511.1L1246.9 509.8L1247.4 508.1L1248 505.4L1248.5 501.6L1249.1 497.6L1249.6 494.8L1250.1 495L1250.7 499L1251.2 506.4L1251.8 514.3L1252.3 519.8L1252.8 520.8L1253.4 517.3L1253.9 510.6L1254.5 503.4L1255 498.3L1255.5 496.6L1256.1 498.1L1256.6 501.4L1257.2 505.9L1257.7 510L1258.2 512.6L1258.8 512.9L1259.3 511.3L1259.9 508.7L1260.4 506.1L1260.9 504.2L1261.5 503.3L1262 503.3L1262.6 503.7L1263.1 504.2L1263.6 504.7L1264.2 505.4L1264.7 506.4L1265.3 507.9L1265.8 509.4L1266.3 510.4L1266.9 510.2L1267.4 508.8L1268 506.3L1268.5 503.7L1269 501.8L1269.6 501.5L1270.1 502.8L1270.7 505.4L1271.2 508.2L1271.7 510.1L1272.3 510.5L1272.8 509.2L1273.4 507L1273.9 504.8L1274.4 503.7L1275 503.8L1275.5 505.1L1276.1 506.9L1276.6 508.1L1277.1 508.3L1277.7 507.4L1278.2 505.9L1278.8 504.5L1279.3 504L1279.8 504.6L1280.4 506.1L1280.9 507.7L1281.5 508.9L1282 509L1282.5 508L1283.1 506.4L1283.6 504.8L1284.2 504L1284.7 504.2L1285.2 505.1L1285.8 506.4L1286.3 507.3L1286.9 507.6L1287.4 507.1L1287.9 506.4L1288.5 505.9L1289 506L1289.6 506.7L1290.1 507.6L1290.6 508.1L1291.2 507.8L1291.7 506.5L1292.3 504.8L1292.8 503.2L1293.3 502.7L1293.9 503.6L1294.4 505.7L1295 508.4L1295.5 510.5L1296 511.2L1296.6 510.2L1297.1 507.7" fill="none" stroke="#cdcd00" stroke-width="2.2" stroke-linejoin="round"/>
<path d="M330.9 687.3L343.4 687.3L343.9 688.2L368.9 688.2L369.4 689.2L394.4 689.2L394.9 690.1L419.9 690.1L420.4 691.1L445.4 691.1L445.9 692L471.4 692L471.9 693L497.4 693L497.9 693.9L523.4 693.9L523.9 694.9L549.4 694.9L549.9 695.8L575.4 695.8L575.9 696.8L601.9 696.8L602.4 697.8L627.9 697.8L628.4 698.7L654.4 698.7L654.9 699.6L681.4 699.6L681.9 700.6L707.9 700.6L708.4 701.5L734.4 701.5L734.9 702.5L761.4 702.5L761.9 703.4L788.4 703.4L788.9 704.4L815.4 704.4L815.9 705.3L842.4 705.3L842.9 706.3L869.9 706.3L870.4 707.2L897.4 707.2L897.9 708.2L924.9 708.2L925.4 709.1L952.9 709.1L953.4 710.1L980.9 710.1L981.4 711L1007.9 711L1008.4 712L1035.4 712L1035.9 712.9L1062.9 712.9L1063.4 713.9L1091.9 713.9L1092.4 714.8L1123.4 714.8L1123.9 715.8L1157.9 715.8L1158.4 716.8L1194.4 716.8L1194.9 717.7L1233.4 717.7L1233.9 718.6L1276.4 718.6L1276.9 719.6L1305.4 719.6" fill="none" stroke="#ff0000" stroke-width="4.1" stroke-linecap="round" stroke-linejoin="round"/>
<path d="M325.4 750.1L326.2 750.7L327 750.9L327.8 750.6L328.6 749.9L329.4 749L330.2 747.8L331 746.4L331.8 744.9L332.6 743.3L333.4 741.8L334.2 740.7L335 740.3L335.8 740.8L336.6 742.8L337.4 746.2L338.2 750.8L339 756L339.8 761.5L340.6 766.6L341.4 770.9L342.2 773.9L343 775.3L343.8 775.1L344.6 773.4L345.4 769.9L346.2 764.5L347 757.7L347.8 750.2L348.6 742.5L349.4 735.5L350.2 729.9L351 726.4L351.8 724.9L352.6 725L353.4 726.4L354.2 729.1L355 733L355.8 738.2L356.6 744.2L357.4 750.5L358.2 756.2L359 761.2L359.8 765.5L360.6 769L361.4 771.7L362.2 773.4L363 774L363.8 773.7L364.6 772.9L365.4 771.5L366.2 769.3L367 765.9L367.8 761.6L368.6 756.5L369.4 750.6L370.2 744.7L371 739.4L371.8 735.4L372.6 732.8L373.4 731.5L374.2 731.1L375 731.6L375.8 732.9L376.6 735L377.4 737.5L378.2 740.1L379 742.5L379.8 744.4L380.6 745.8L381.4 746.9L382.2 747.8L383 748.7L383.8 749.8L384.6 751.2L385.4 753L386.2 755.2L387 757.6L387.8 760.3L388.6 762.8L389.4 765L390.2 766.5L391 767.3L391.8 767.5L392.6 767.1L393.4 766L394.2 763.9L395 760.6L395.8 756.2L396.6 751.2L397.4 746.1L398.2 741.4L399 737.6L399.8 735L400.6 733.8L401.4 733.9L402.2 734.9L403 736.8L403.8 739.6L404.6 743L405.4 746.5L406.2 749.5L407 751.6L407.8 753.1L408.6 754L409.4 754.6L410.2 755.1L411 755.6L411.8 756.4L412.6 757.6L413.4 759.1L414.2 760.9L415 762.6L415.8 764.2L416.6 765.4L417.4 766L418.2 765.7L419 764.5L419.8 762.3L420.6 759.3L421.4 755.6L422.2 751.5L423 747.4L423.8 743.8L424.6 741L425.4 739.4L426.2 738.7L427 738.6L427.8 739L428.6 739.9L429.4 741.6L430.2 744.2L431 747.4L431.8 751L432.6 754.6L433.4 758L434.2 761L435 763.5L435.8 765.4L436.6 766.6L437.4 766.8L438.2 766.1L439 764.4L439.8 761.8L440.6 758.5L441.4 754.9L442.2 751.3L443 748L443.8 745.1L444.6 742.7L445.4 740.9L446.2 739.7L447 738.9L447.8 738.6L448.6 738.9L449.4 739.8L450.2 741.4L451 743.6L451.8 746.1L452.6 748.7L453.4 751L454.2 752.5L455 753L455.8 752.2L456.6 750L457.4 747.3L458.2 744.6L459 742.4L459.8 740.8L460.6 740L461.4 740.3L462.2 742.1L463 745L463.8 748.6L464.6 752.3L465.4 756L466.2 759.7L467 763L467.8 766L468.6 768.2L469.4 769.6L470.2 769.8L471 768.7L471.8 766.1L472.6 762.2L473.4 756.7L474.2 750.5L475 744.3L475.8 738.9L476.6 734.9L477.4 732.6L478.2 732L479 732.9L479.8 734.7L480.6 737.5L481.4 741.2L482.2 745.9L483 750.4L483.8 753.7L484.6 755.2L485.4 755.3L486.2 754.2L487 752.4L487.8 750.6L488.6 749.3L489.4 749.4L490.2 751.5L491 756.2L491.8 762.7L492.6 769.4L493.4 775.1L494.2 779.1L495 781.4L495.8 781.6L496.6 779.5L497.4 775.1L498.2 768.5L499 760.9L499.8 753.5L500.6 747.3L501.4 742.9L502.2 740.7L503 740.3L503.8 741.3L504.6 743.2L505.4 744.7L506.2 745.1L507 743.9L507.8 741.9L508.6 739.5L509.4 737.1L510.2 734.7L511 733L511.8 733.1L512.6 736L513.4 741.5L514.2 748.7L515 756.9L515.8 764.9L516.6 771.8L517.4 776.7L518.2 778.9L519 778L519.8 773.6L520.6 766L521.4 755.7L522.2 743.6L523 731.1L523.8 719.8L524.6 711.4L525.4 705.9L526.2 703.1L527 703.4L527.8 707.9L528.6 717.3L529.4 729.6L530.2 742.4L531 754.5L531.8 766L532.6 776.5L533.4 784.8L534.2 789.4L535 790.4L535.8 789.1L536.6 786.4L537.4 780.8L538.2 770.8L539 757.5L539.8 744.2L540.6 733.6L541.4 726.4L542.2 723.1L543 723.1L543.8 725.5L544.6 730.8L545.4 740L546.2 751.1L547 761.5L547.8 769.8L548.6 776L549.4 780L550.2 781.7L551 780.4L551.8 776.6L552.6 771.6L553.4 766.6L554.2 762.3L555 759.2L555.8 757.6L556.6 757.1L557.4 757.3L558.2 758.1L559 759.5L559.8 761.3L560.6 762.9L561.4 763.7L562.2 763.5L563 762.1L563.8 759.6L564.6 756.2L565.4 752.3L566.2 748.2L567 744.6L567.8 741.4L568.6 738.7L569.4 736.4L570.2 734.4L571 732.6L571.8 730.9L572.6 729.5L573.4 728.2L574.2 727L575 726.1L575.8 725.3L576.6 724.7L577.4 724.3L578.2 724.1L579 724.2L579.8 724.8L580.6 725.9L581.4 727.7L582.2 730.5L583 734.4L583.8 739.5L584.6 745.2L585.4 751.2L586.2 757L587 762.1L587.8 766.4L588.6 769.6L589.4 771.5L590.2 772.3L591 772.2L591.8 771.3L592.6 770.1L593.4 769L594.2 768.1L595 767.5L595.8 767.4L596.6 767.7L597.4 768.1L598.2 768.5L599 768.7L599.8 768.6L600.6 768.3L601.4 767.7L602.2 766.5L603 764.8L603.8 762.4L604.6 759.7L605.4 757.2L606.2 755.2L607 753.8L607.8 752.8L608.6 752.4L609.4 752.5L610.2 753L611 753.8L611.8 754.8L612.6 755.6L613.4 755.9L614.2 755.5L615 754.2L615.8 751.7L616.6 748L617.4 743.3L618.2 737.9L619 732.2L619.8 727L620.6 722.8L621.4 720.3L622.2 719.3L623 719.6L623.8 721.1L624.6 724.2L625.4 729L626.2 735.5L627 742.7L627.8 749.6L628.6 755.4L629.4 759.9L630.2 762.9L631 764.5L631.8 764.7L632.6 763.7L633.4 761.7L634.2 759L635 756L635.8 753.3L636.6 751.2L637.4 749.8L638.2 748.9L639 748.5L639.8 749.1L640.6 750.9L641.4 753.5L642.2 755.9L643 757.5L643.8 758L644.6 757.8L645.4 757.1L646.2 756.1L647 755.1L647.8 754.1L648.6 753.3L649.4 752.8L650.2 752.5L651 752.5L651.8 752.7L652.6 753.2L653.4 753.9L654.2 754.8L655 756L655.8 757.3L656.6 758.8L657.4 760.4L658.2 762L659 763.6L659.8 765.2L660.6 766.7L661.4 767.9L662.2 768.7L663 769L663.8 768.3L664.6 766.6L665.4 763.4L666.2 758.7L667 752.4L667.8 744.5L668.6 736.1L669.4 728.2L670.2 721.5L671 716.4L671.8 712.9L672.6 710.9L673.4 709.9L674.2 709.7L675 710.3L675.8 712.7L676.6 717.4L677.4 723.9L678.2 731.5L679 739.5L679.8 747.6L680.6 755.3L681.4 762.1L682.2 767.5L683 771.2L683.8 773.3L684.6 774.3L685.4 774.5L686.2 774L687 773L687.8 771.9L688.6 771.4L689.4 772L690.2 773.6L691 775.2L691.8 776.3L692.6 776.3L693.4 775.2L694.2 772.9L695 769.2L695.8 763.9L696.6 757.2L697.4 750L698.2 743.2L699 737.3L699.8 732.8L700.6 730L701.4 728.9L702.2 729.4L703 731.3L703.8 734.4L704.6 738.8L705.4 744.1L706.2 750.1L707 756.4L707.8 762.4L708.6 767.9L709.4 772.3L710.2 775.3L711 777.1L711.8 777.7L712.6 777.2L713.4 776L714.2 773.7L715 769L715.8 760.6L716.6 749.7L717.4 738.4L718.2 728.3L719 719.3L719.8 711.4L720.6 704.9L721.4 700.4L722.2 698.5L723 698.7L723.8 699.9L724.6 702.1L725.4 706.8L726.2 715.2L727 726.3L727.8 737.7L728.6 748.5L729.4 759L730.2 769.5L731 780.2L731.8 790.3L732.6 799.1L733.4 806.1L734.2 810.8L735 813.1L735.8 813.6L736.6 812.5L737.4 809.4L738.2 804L739 796.3L739.8 786.6L740.6 775.5L741.4 763.8L742.2 752.2L743 741.1L743.8 730.7L744.6 721.4L745.4 713.7L746.2 708L747 704.4L747.8 702.9L748.6 703.8L749.4 706.9L750.2 712.2L751 718.7L751.8 725.2L752.6 731.4L753.4 737.2L754.2 742.6L755 747.5L755.8 751.9L756.6 755.6L757.4 758.5L758.2 760.6L759 761.8L759.8 762.2L760.6 762.2L761.4 761.8L762.2 761.4L763 761.3L763.8 762L764.6 763.2L765.4 764.6L766.2 765.6L767 765.9L767.8 765.2L768.6 763.6L769.4 761L770.2 757.7L771 754L771.8 750.3L772.6 747.3L773.4 745.5L774.2 744.9L775 745.7L775.8 748.3L776.6 752.2L777.4 756.5L778.2 760L779 762.5L779.8 764L780.6 764.7L781.4 764.6L782.2 763.4L783 761.1L783.8 757.9L784.6 754.3L785.4 750.4L786.2 746.7L787 743.2L787.8 740.2L788.6 737.7L789.4 735.9L790.2 734.7L791 734.2L791.8 734.4L792.6 735.4L793.4 737.3L794.2 740.1L795 743.7L795.8 747.9L796.6 752.5L797.4 757.2L798.2 761.9L799 766.1L799.8 769.5L800.6 771.6L801.4 772.2L802.2 771.1L803 768L803.8 763.3L804.6 756.9L805.4 749.6L806.2 742L807 735L807.8 729.1L808.6 724.6L809.4 721.4L810.2 719.3L811 718.2L811.8 719L812.6 721.7L813.4 725.7L814.2 730.6L815 736.4L815.8 743.5L816.6 751.6L817.4 759.8L818.2 767.4L819 774.4L819.8 780.9L820.6 786.7L821.4 791.6L822.2 795.2L823 797.4L823.8 797.8L824.6 796L825.4 791.4L826.2 784.5L827 775.9L827.8 766.3L828.6 756.2L829.4 746.6L830.2 738.2L831 731.8L831.8 727.6L832.6 725.6L833.4 725.6L834.2 727.9L835 732L835.8 737.2L836.6 742.6L837.4 747.4L838.2 750.9L839 753.1L839.8 754.4L840.6 755.5L841.4 756.2L842.2 756.5L843 756.3L843.8 755.5L844.6 754L845.4 751.8L846.2 748.8L847 745.4L847.8 741.7L848.6 738L849.4 734.8L850.2 732.5L851 731.2L851.8 730.6L852.6 730.8L853.4 732.1L854.2 735.1L855 739.5L855.8 743.9L856.6 747.5L857.4 750.3L858.2 752.4L859 754L859.8 755.1L860.6 755.8L861.4 756.1L862.2 756L863 755.8L863.8 755.8L864.6 756.4L865.4 757.8L866.2 760L867 762.5L867.8 765.3L868.6 768L869.4 770.4L870.2 772.4L871 773.7L871.8 774.1L872.6 772.9L873.4 769.6L874.2 764.7L875 759.6L875.8 755.6L876.6 752.9L877.4 751.2L878.2 750.7L879 751.5L879.8 753.7L880.6 756.8L881.4 759.9L882.2 762.1L883 762.9L883.8 762.3L884.6 759.9L885.4 755.6L886.2 749.1L887 740.4L887.8 730.5L888.6 721.1L889.4 713.7L890.2 708.4L891 705L891.8 703.5L892.6 703.9L893.4 706.8L894.2 712.6L895 721.3L895.8 731.7L896.6 742.1L897.4 751.8L898.2 760.6L899 768.3L899.8 774.8L900.6 779.9L901.4 783.7L902.2 786.3L903 787.9L903.8 788.9L904.6 788.9L905.4 787.8L906.2 785.4L907 781.7L907.8 777.1L908.6 771.5L909.4 765L910.2 757.7L911 749.6L911.8 741.5L912.6 733.7L913.4 727L914.2 721.7L915 718.2L915.8 716.5L916.6 716.1L917.4 717.1L918.2 720.6L919 727.4L919.8 736.6L920.6 746.7L921.4 756.5L922.2 765.8L923 774.6L923.8 781.7L924.6 785.9L925.4 786.4L926.2 783.1L927 776.3L927.8 766.8L928.6 755.6L929.4 743.3L930.2 730.8L931 718.9L931.8 708.7L932.6 701.2L933.4 696.3L934.2 693.2L935 692.2L935.8 694.5L936.6 701.2L937.4 712.1L938.2 726.5L939 743L939.8 760.2L940.6 776.8L941.4 791.5L942.2 803.4L943 812L943.8 817.3L944.6 819.1L945.4 817.5L946.2 813.1L947 806.6L947.8 798.7L948.6 789.9L949.4 780.6L950.2 771.5L951 762.8L951.8 754.8L952.6 747.8L953.4 741.7L954.2 736.8L955 733.1L955.8 730.4L956.6 728.5L957.4 727L958.2 725.6L959 723.9L959.8 721.6L960.6 718.7L961.4 715.4L962.2 711.8L963 708.1L963.8 704.3L964.6 700.7L965.4 697.6L966.2 695.2L967 693.8L967.8 693.6L968.6 694.9L969.4 697.9L970.2 703.1L971 710.5L971.8 720.2L972.6 732.4L973.4 746.9L974.2 763.9L975 783.2L975.8 804.8L976.6 827.7L977.4 850.7L978.2 872.5L979 890.5L979.8 902L980.6 899.8L981.4 881.7L982.2 853.3L983 818.4L983.8 780.3L984.6 740.3L985.4 698.4L986.2 656.4L987 618.7L987.8 589.3L988.6 569.1L989.4 558L990.2 554.5L991 555.7L991.8 560.6L992.6 573.5L993.4 598.4L994.2 632.1L995 668.1L995.8 703.1L996.6 738.3L997.4 774.5L998.2 809.7L999 840.9L999.8 867.1L1000.6 888L1001.4 903.1L1002.2 911.1L1003 910.3L1003.8 900.7L1004.6 883L1005.4 859L1006.2 830.9L1007 801L1007.8 771.5L1008.6 744.7L1009.4 721.1L1010.2 699.5L1011 679.1L1011.8 659.8L1012.6 642.5L1013.4 628.4L1014.2 618.5L1015 612.3L1015.8 609.5L1016.6 610.5L1017.4 617L1018.2 630.5L1019 650.2L1019.8 673.9L1020.6 700.2L1021.4 728.9L1022.2 759.4L1023 788.3L1023.8 811.4L1024.6 828.2L1025.4 841.6L1026.2 854.1L1027 862.4L1027.8 860.6L1028.6 849.1L1029.4 831L1030.2 809.2L1031 785.2L1031.8 760.8L1032.6 738.8L1033.4 722.1L1034.2 711.4L1035 705.4L1035.8 703.4L1036.6 705.3L1037.4 710.8L1038.2 718.5L1039 727.2L1039.8 735.5L1040.6 742.4L1041.4 746.6L1042.2 747.6L1043 746.1L1043.8 743.4L1044.6 740.6L1045.4 738.3L1046.2 736.6L1047 735.8L1047.8 736L1048.6 737.6L1049.4 740.7L1050.2 745.6L1051 752.1L1051.8 759.4L1052.6 767L1053.4 774.3L1054.2 780.9L1055 786.5L1055.8 790.4L1056.6 792.3L1057.4 791.6L1058.2 788.4L1059 783.2L1059.8 776.7L1060.6 769L1061.4 760.3L1062.2 750.6L1063 740.7L1063.8 732L1064.6 725.5L1065.4 720.9L1066.2 717.7L1067 715.5L1067.8 714.7L1068.6 716.3L1069.4 720.4L1070.2 726.3L1071 733L1071.8 739.6L1072.6 745.5L1073.4 750L1074.2 752.8L1075 753.6L1075.8 752.3L1076.6 749.3L1077.4 745.7L1078.2 742.3L1079 739.8L1079.8 738.2L1080.6 737.9L1081.4 739.5L1082.2 744.2L1083 752.4L1083.8 762.9L1084.6 774L1085.4 784.3L1086.2 793.5L1087 801.5L1087.8 808.1L1088.6 812.5L1089.4 813.8L1090.2 810.2L1091 800.3L1091.8 785.4L1092.6 767.3L1093.4 747.9L1094.2 728.7L1095 711.4L1095.8 696.4L1096.6 684.1L1097.4 674.6L1098.2 668L1099 663.9L1099.8 661.6L1100.6 660.5L1101.4 660.5L1102.2 661.7L1103 665.4L1103.8 673.9L1104.6 688.4L1105.4 707.6L1106.2 730L1107 754.3L1107.8 779.7L1108.6 804.7L1109.4 827L1110.2 844.8L1111 857.6L1111.8 865.4L1112.6 867.5L1113.4 862.7L1114.2 849.5L1115 827L1115.8 796.9L1116.6 762.4L1117.4 726.6L1118.2 692.1L1119 662.1L1119.8 641.5L1120.6 632.4L1121.4 628.3L1122.2 626.2L1123 634.1L1123.8 655.6L1124.6 684.5L1125.4 714.3L1126.2 742.9L1127 769.2L1127.8 792.2L1128.6 810.9L1129.4 824.7L1130.2 833.4L1131 836.8L1131.8 834.6L1132.6 826.6L1133.4 813.3L1134.2 796.7L1135 778.7L1135.8 760.9L1136.6 744L1137.4 728.8L1138.2 715.9L1139 706L1139.8 699.3L1140.6 695.3L1141.4 693.1L1142.2 691.8L1143 691.9L1143.8 694L1144.6 698.5L1145.4 705.3L1146.2 714L1147 724L1147.8 734.6L1148.6 745.1L1149.4 754.8L1150.2 763.9L1151 772.8L1151.8 781.7L1152.6 790.4L1153.4 797.9L1154.2 803.2L1155 806.3L1155.8 807.6L1156.6 807.5L1157.4 805.8L1158.2 800.7L1159 791.1L1159.8 777.5L1160.6 761.1L1161.4 743.3L1162.2 725.5L1163 709.5L1163.8 696.4L1164.6 686.4L1165.4 679.8L1166.2 676.5L1167 675.9L1167.8 677.4L1168.6 681.4L1169.4 688.6L1170.2 700L1171 715.4L1171.8 733.2L1172.6 752.1L1173.4 770.1L1174.2 785.1L1175 795.9L1175.8 802.7L1176.6 805.9L1177.4 805.5L1178.2 801L1179 793.2L1179.8 783.3L1180.6 772.6L1181.4 761.8L1182.2 751.4L1183 742.1L1183.8 734.5L1184.6 729.5L1185.4 727.5L1186.2 728.1L1187 731.3L1187.8 736.6L1188.6 743.8L1189.4 752.3L1190.2 760.9L1191 767.7L1191.8 770.9L1192.6 769.9L1193.4 764.3L1194.2 754.1L1195 741.2L1195.8 727.9L1196.6 716.1L1197.4 707.2L1198.2 702L1199 699.6L1199.8 698.5L1200.6 698.9L1201.4 703.6L1202.2 714.7L1203 730.4L1203.8 747.4L1204.6 763.8L1205.4 779.3L1206.2 793.7L1207 806.2L1207.8 815.3L1208.6 820.2L1209.4 820.6L1210.2 816.4L1211 807.1L1211.8 792.7L1212.6 774.6L1213.4 756.7L1214.2 741.9L1215 730.4L1215.8 721.9L1216.6 716.3L1217.4 713.4L1218.2 712.9L1219 714.8L1219.8 719L1220.6 724.5L1221.4 730.4L1222.2 736.1L1223 741.1L1223.8 745.1L1224.6 747.6L1225.4 748.5L1226.2 747.4L1227 745.1L1227.8 742.2L1228.6 739.8L1229.4 738.4L1230.2 738.1L1231 739L1231.8 741.2L1232.6 744.7L1233.4 749.6L1234.2 755.5L1235 761.8L1235.8 767.5L1236.6 772.1L1237.4 775.3L1238.2 776.9L1239 776.3L1239.8 772.8L1240.6 766.1L1241.4 757.1L1242.2 747.1L1243 737.2L1243.8 728.8L1244.6 722.5L1245.4 718.1L1246.2 715.5L1247 715.1L1247.8 717.7L1248.6 723.5L1249.4 732.7L1250.2 745L1251 758.5L1251.8 771.4L1252.6 782.6L1253.4 791.4L1254.2 797.4L1255 800.7L1255.8 801.5L1256.6 798.7L1257.4 791.3L1258.2 779.9L1259 767L1259.8 754.6L1260.6 744.3L1261.4 737.4L1262.2 733.4L1263 731.3L1263.8 730.1L1264.6 729.7L1265.4 730.1L1266.2 731.5L1267 733.4L1267.8 735.4L1268.6 737.2L1269.4 738.5L1270.2 738.9L1271 738.5L1271.8 737.5L1272.6 736.5L1273.4 735.6L1274.2 735.1L1275 735.2L1275.8 736.2L1276.6 738.1L1277.4 741.2L1278.2 745L1279 749L1279.8 752.8L1280.6 755.8L1281.4 758L1282.2 758.9L1283 758.7L1283.8 757.8L1284.6 756.6L1285.4 755.5L1286.2 755.4L1287 756.6L1287.8 759.3L1288.6 763.6L1289.4 769.1L1290.2 774.7L1291 779.3L1291.8 782.6L1292.6 785L1293.4 786.4L1294.2 784.8L1295 777.7L1295.1 775.2" fill="none" stroke="#bebebe" stroke-width="2" stroke-linejoin="round"/>
<g font-family='"Liberation Sans", Arial, Helvetica, sans-serif' font-size="27.95" font-weight="bold" fill="#000">
<text x="193" y="887.6">The latest 1−hour, 1−second sampling</text>
<text x="1431.2" y="887.6" text-anchor="end">End at 2020−08−04 09:59:59 UTC</text>
</g>
<rect x="167.05" y="18.55" width="372.8" height="162.9" fill="#fff" stroke="#000" stroke-width="0.6"/>
<g fill="none">
<path d="M204 39.45h56" stroke="#0000ff" stroke-width="0.7"/>
<path d="M204 69.5h56" stroke="#00c8c8" stroke-width="0.7"/>
<path d="M204 99.9h56" stroke="#000" stroke-width="3.1"/>
<path d="M204 130.3h56" stroke="#bebebe" stroke-width="3.1"/>
<path d="M204 161.15h56" stroke="#ff0000" stroke-width="0.7"/>
</g>
<circle cx="232.2" cy="39.45" r="4.3" fill="#0000ff"/>
<circle cx="232.2" cy="69.5" r="4.3" fill="#00c8c8"/>
<circle cx="232.2" cy="161.15" r="4.3" fill="#ff0000"/>
<g font-family='"Liberation Sans", Arial, Helvetica, sans-serif' font-size="24.0" fill="#000">
<text x="279.3" y="48.2">Pressure</text>
<text x="279.3" y="78.6">dP/dt low−passed</text>
<text x="279.3" y="109.3">Residual</text>
<text x="279.3" y="140">... last 10 min.</text>
<text x="279.3" y="171.1">Theor.Tide</text>
</g>
</svg>
</body>
</html>
